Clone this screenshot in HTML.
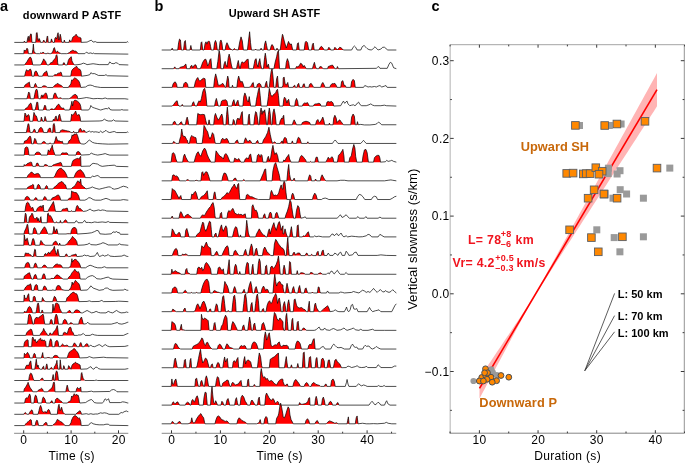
<!DOCTYPE html>
<html><head><meta charset="utf-8"><style>
html,body{margin:0;padding:0;background:#fff;overflow:hidden}
svg{display:block;will-change:transform}
</style></head><body>
<svg width="685" height="463" viewBox="0 0 685 463">
<rect width="685" height="463" fill="#fff"/>
<path d="M23.78 42.4 L23.78 42.4 L24.36 41 L24.95 42.4 L26.93 42.4 L27.75 37.73 L28.34 36.21 L28.92 40.65 L29.85 35.98 L30.79 33.87 L31.37 34.22 L31.96 42.4 L35.69 42.4 L36.39 33.06 L37.09 32.47 L37.68 37.73 L38.38 40.65 L39.2 38.55 L39.9 40.06 L40.6 42.4 L42.7 42.4 L43.64 40.06 L44.22 40.65 L45.04 42.4 L46.2 42.4 L47.14 36.56 L47.61 35.98 L48.31 42.4 L50.64 42.4 L51.46 38.9 L52.28 41.23 L52.98 42.4 L54.38 42.4 L54.96 38.08 L55.78 37.38 L56.72 38.9 L57.53 34.22 L58.12 32.71 L58.82 40.06 L59.4 38.9 L60.22 34.22 L60.92 37.14 L61.39 40.65 L61.97 42.4 L63.72 42.4 L64.31 40.06 L65.12 42.4 L68.98 42.4 L69.68 39.83 L70.5 41.82 L71.66 40.65 L72.83 37.14 L74.23 36.21 L75.17 35.74 L76.1 34.22 L77.04 35.74 L78.32 37.14 L79.61 37.38 L81.01 38.08 L81.24 42.4 L81.24 42.4Z" fill="#ff0000" stroke="none"/>
<path d="M14.3 42.4 L23.78 42.4 L24.36 41 L24.95 42.4 L26.93 42.4 L27.75 37.73 L28.34 36.21 L28.92 40.65 L29.85 35.98 L30.79 33.87 L31.37 34.22 L31.96 42.4 L35.69 42.4 L36.39 33.06 L37.09 32.47 L37.68 37.73 L38.38 40.65 L39.2 38.55 L39.9 40.06 L40.6 42.4 L42.7 42.4 L43.64 40.06 L44.22 40.65 L45.04 42.4 L46.2 42.4 L47.14 36.56 L47.61 35.98 L48.31 42.4 L50.64 42.4 L51.46 38.9 L52.28 41.23 L52.98 42.4 L54.38 42.4 L54.96 38.08 L55.78 37.38 L56.72 38.9 L57.53 34.22 L58.12 32.71 L58.82 40.06 L59.4 38.9 L60.22 34.22 L60.92 37.14 L61.39 40.65 L61.97 42.4 L63.72 42.4 L64.31 40.06 L65.12 42.4 L68.98 42.4 L69.68 39.83 L70.5 41.82 L71.66 40.65 L72.83 37.14 L74.23 36.21 L75.17 35.74 L76.1 34.22 L77.04 35.74 L78.32 37.14 L79.61 37.38 L81.01 38.08 L81.24 42.4 L87.07 42.1 L88.88 41.19 L91.3 40.13 L93.12 42.1 L95.38 41.64 L96.9 42.4 L126.37 42.4 L127.58 41.64 L128.19 42.4" fill="none" stroke="#000" stroke-width="0.7" stroke-linejoin="round"/>
<path d="M23.78 53.67 L23.78 53.67 L24.25 49.93 L25.18 50.87 L26 50.52 L26.93 48.18 L27.75 49 L28.45 53.67 L32.19 53.67 L32.89 49.35 L33.36 44.09 L33.94 51.1 L34.76 52.85 L35.69 53.2 L36.63 53.67 L39.78 53.67 L40.6 52.85 L41.77 53.2 L42.93 52.27 L43.87 52.62 L44.8 53.67 L47.14 53.67 L47.84 52.85 L48.77 53.67 L50.88 53.67 L52.04 52.85 L52.98 51.1 L53.8 48.18 L54.38 47.6 L54.96 49.35 L55.55 51.68 L56.48 52.27 L57.3 51.1 L58.12 51.68 L59.05 52.85 L60.22 53.2 L61.15 53.67 L66.64 53.67 L67.81 53.44 L68.98 52.85 L70.15 51.68 L71.31 51.1 L72.48 50.28 L73.65 50.52 L74.82 51.33 L75.75 51.1 L76.57 51.68 L77.5 52.85 L77.97 53.67 L77.97 53.67Z" fill="#ff0000" stroke="none"/>
<path d="M14.3 53.67 L23.78 53.67 L24.25 49.93 L25.18 50.87 L26 50.52 L26.93 48.18 L27.75 49 L28.45 53.67 L32.19 53.67 L32.89 49.35 L33.36 44.09 L33.94 51.1 L34.76 52.85 L35.69 53.2 L36.63 53.67 L39.78 53.67 L40.6 52.85 L41.77 53.2 L42.93 52.27 L43.87 52.62 L44.8 53.67 L47.14 53.67 L47.84 52.85 L48.77 53.67 L50.88 53.67 L52.04 52.85 L52.98 51.1 L53.8 48.18 L54.38 47.6 L54.96 49.35 L55.55 51.68 L56.48 52.27 L57.3 51.1 L58.12 51.68 L59.05 52.85 L60.22 53.2 L61.15 53.67 L66.64 53.67 L67.81 53.44 L68.98 52.85 L70.15 51.68 L71.31 51.1 L72.48 50.28 L73.65 50.52 L74.82 51.33 L75.75 51.1 L76.57 51.68 L77.5 52.85 L77.97 53.67 L84.8 53.67 L86.31 52.16 L88.58 53.37 L90.85 52.91 L92.36 53.67 L93.12 52.91 L94.63 53.67 L127.89 54.12 L128.3 54.12" fill="none" stroke="#000" stroke-width="0.7" stroke-linejoin="round"/>
<path d="M24.6 64.94 L24.6 64.94 L25.77 63.19 L26.93 61.79 L28.45 59.1 L30.09 57 L31.02 57.7 L31.96 60.85 L32.77 64.94 L40.6 64.94 L41.77 63.19 L42.93 60.85 L43.64 58.87 L44.45 60.03 L45.62 61.44 L46.44 63.77 L47.14 64.94 L49.12 64.94 L49.94 63.54 L51.11 62.6 L52.28 62.6 L53.45 60.27 L54.38 59.33 L55.55 57.93 L56.13 55.36 L56.72 54.66 L57.3 56.76 L57.65 62.6 L58.12 64.94 L62.79 64.94 L63.49 62.84 L64.31 62.84 L65.12 64.94 L67.23 64.94 L68.39 60.27 L69.56 58.17 L70.5 57.35 L71.31 56.76 L71.9 60.85 L73.07 63.19 L74 64.36 L74.47 64.94 L74.47 64.94Z" fill="#ff0000" stroke="none"/>
<path d="M14.3 64.94 L24.6 64.94 L25.77 63.19 L26.93 61.79 L28.45 59.1 L30.09 57 L31.02 57.7 L31.96 60.85 L32.77 64.94 L40.6 64.94 L41.77 63.19 L42.93 60.85 L43.64 58.87 L44.45 60.03 L45.62 61.44 L46.44 63.77 L47.14 64.94 L49.12 64.94 L49.94 63.54 L51.11 62.6 L52.28 62.6 L53.45 60.27 L54.38 59.33 L55.55 57.93 L56.13 55.36 L56.72 54.66 L57.3 56.76 L57.65 62.6 L58.12 64.94 L62.79 64.94 L63.49 62.84 L64.31 62.84 L65.12 64.94 L67.23 64.94 L68.39 60.27 L69.56 58.17 L70.5 57.35 L71.31 56.76 L71.9 60.85 L73.07 63.19 L74 64.36 L74.47 64.94 L78 64.64 L81.02 64.18 L83.29 63.13 L85.26 63.73 L87.07 64.64 L90.09 64.18 L93.12 63.73 L96.14 64.18 L99.16 64.64 L108.23 64.64 L109.75 61.92 L111.56 63.43 L113.98 63.73 L115.79 62.67 L117.61 63.13 L119.12 64.64 L127.89 64.94 L128.3 64.94" fill="none" stroke="#000" stroke-width="0.7" stroke-linejoin="round"/>
<path d="M24.6 76.21 L24.6 76.21 L25.77 71.42 L26.58 69.67 L27.52 70.84 L28.69 70.84 L29.62 69.44 L30.44 69.09 L31.26 70.84 L31.96 76.21 L33.94 76.21 L34.76 72.01 L35.93 70.84 L36.86 72.01 L37.8 74.34 L38.61 76.21 L42.47 76.21 L43.4 74.11 L44.45 72.59 L45.62 72.24 L46.44 70.84 L47.14 72.59 L47.96 76.21 L53.21 76.21 L54.15 75.28 L54.96 74.34 L56.13 75.28 L57.3 73.76 L58.47 73.17 L59.64 72.94 L60.8 72.01 L61.39 72.94 L62.2 76.21 L70.73 76.21 L71.66 70.84 L72.83 69.09 L74.23 67.92 L75.64 67.1 L76.57 66.17 L77.5 67.92 L78.91 69.09 L80.07 69.44 L81.01 71.42 L81.47 76.21 L81.47 76.21Z" fill="#ff0000" stroke="none"/>
<path d="M14.3 76.21 L24.6 76.21 L25.77 71.42 L26.58 69.67 L27.52 70.84 L28.69 70.84 L29.62 69.44 L30.44 69.09 L31.26 70.84 L31.96 76.21 L33.94 76.21 L34.76 72.01 L35.93 70.84 L36.86 72.01 L37.8 74.34 L38.61 76.21 L42.47 76.21 L43.4 74.11 L44.45 72.59 L45.62 72.24 L46.44 70.84 L47.14 72.59 L47.96 76.21 L53.21 76.21 L54.15 75.28 L54.96 74.34 L56.13 75.28 L57.3 73.76 L58.47 73.17 L59.64 72.94 L60.8 72.01 L61.39 72.94 L62.2 76.21 L70.73 76.21 L71.66 70.84 L72.83 69.09 L74.23 67.92 L75.64 67.1 L76.57 66.17 L77.5 67.92 L78.91 69.09 L80.07 69.44 L81.01 71.42 L81.47 76.21 L87.07 75.45 L89.79 74.7 L90.85 72.73 L92.36 73.64 L94.63 73.64 L96.9 74.7 L98.41 75.45 L104.46 75.45 L105.97 74.7 L107.48 75.76 L127.89 76.21 L128.3 76.21" fill="none" stroke="#000" stroke-width="0.7" stroke-linejoin="round"/>
<path d="M24.01 87.48 L24.01 87.48 L24.95 85.14 L26.12 84.33 L27.28 83.39 L28.45 82.81 L29.27 81.99 L30.09 86.31 L30.79 87.48 L33.94 87.48 L34.76 84.56 L35.46 83.39 L36.28 85.14 L37.09 86.66 L37.8 87.48 L41.53 87.48 L42.47 86.31 L43.87 85.73 L45.62 86.08 L46.79 86.9 L47.61 87.48 L52.98 87.48 L53.8 86.31 L54.96 85.14 L56.48 84.33 L57.3 83.39 L58.47 83.98 L59.64 84.79 L61.39 85.49 L62.55 86.66 L63.14 87.48 L68.39 87.48 L69.33 85.73 L70.15 85.14 L70.96 83.39 L71.66 79.89 L72.48 80.47 L73.65 78.72 L74.58 77.9 L75.99 78.49 L77.74 79.89 L78.91 81.29 L79.84 83.39 L80.66 86.9 L80.89 87.48 L80.89 87.48Z" fill="#ff0000" stroke="none"/>
<path d="M14.3 87.48 L24.01 87.48 L24.95 85.14 L26.12 84.33 L27.28 83.39 L28.45 82.81 L29.27 81.99 L30.09 86.31 L30.79 87.48 L33.94 87.48 L34.76 84.56 L35.46 83.39 L36.28 85.14 L37.09 86.66 L37.8 87.48 L41.53 87.48 L42.47 86.31 L43.87 85.73 L45.62 86.08 L46.79 86.9 L47.61 87.48 L52.98 87.48 L53.8 86.31 L54.96 85.14 L56.48 84.33 L57.3 83.39 L58.47 83.98 L59.64 84.79 L61.39 85.49 L62.55 86.66 L63.14 87.48 L68.39 87.48 L69.33 85.73 L70.15 85.14 L70.96 83.39 L71.66 79.89 L72.48 80.47 L73.65 78.72 L74.58 77.9 L75.99 78.49 L77.74 79.89 L78.91 81.29 L79.84 83.39 L80.66 86.9 L80.89 87.48 L85.56 87.03 L87.83 85.51 L90.09 85.06 L92.36 85.51 L94.63 86.57 L97.65 87.03 L100.68 87.48 L127.89 87.48 L128.3 87.48" fill="none" stroke="#000" stroke-width="0.7" stroke-linejoin="round"/>
<path d="M26.93 98.75 L26.93 98.75 L27.75 95.48 L28.69 91.98 L29.62 93.14 L30.44 98.75 L33.94 98.75 L34.76 94.31 L35.69 90.22 L36.63 89.06 L37.45 90.81 L38.26 97.82 L38.96 98.75 L40.6 98.75 L41.3 95.48 L42.12 94.9 L42.7 97.23 L43.28 95.48 L44.1 94.66 L44.8 93.73 L45.62 92.91 L46.2 93.14 L47.14 95.48 L47.61 98.75 L52.98 98.75 L53.8 94.9 L54.61 93.14 L55.55 93.14 L56.48 95.48 L57.3 97.23 L57.88 97.82 L58.82 98.4 L59.64 97.93 L60.8 97.82 L61.62 98.4 L62.32 98.75 L68.39 98.75 L69.8 98.4 L71.31 97.23 L73.07 95.48 L74.82 94.43 L75.99 94.66 L77.15 96.06 L77.74 98.75 L77.74 98.75Z" fill="#ff0000" stroke="none"/>
<path d="M14.3 98.75 L26.93 98.75 L27.75 95.48 L28.69 91.98 L29.62 93.14 L30.44 98.75 L33.94 98.75 L34.76 94.31 L35.69 90.22 L36.63 89.06 L37.45 90.81 L38.26 97.82 L38.96 98.75 L40.6 98.75 L41.3 95.48 L42.12 94.9 L42.7 97.23 L43.28 95.48 L44.1 94.66 L44.8 93.73 L45.62 92.91 L46.2 93.14 L47.14 95.48 L47.61 98.75 L52.98 98.75 L53.8 94.9 L54.61 93.14 L55.55 93.14 L56.48 95.48 L57.3 97.23 L57.88 97.82 L58.82 98.4 L59.64 97.93 L60.8 97.82 L61.62 98.4 L62.32 98.75 L68.39 98.75 L69.8 98.4 L71.31 97.23 L73.07 95.48 L74.82 94.43 L75.99 94.66 L77.15 96.06 L77.74 98.75 L78 98.75 L81.02 98.45 L84.05 97.99 L86.31 97.54 L89.34 97.99 L93.12 98.75 L97.65 98.45 L102.19 98.75 L105.21 97.99 L107.48 98.75 L124.86 98.75 L127.89 99.2 L128.3 99.2" fill="none" stroke="#000" stroke-width="0.7" stroke-linejoin="round"/>
<path d="M24.6 110.02 L24.6 110.02 L25.77 108.27 L27.28 107.68 L28.45 105.93 L29.62 103.95 L30.79 103.01 L31.61 104.76 L32.42 110.02 L35.11 110.02 L35.93 106.52 L36.86 102.08 L37.8 102.43 L38.61 110.02 L43.28 110.02 L44.1 107.1 L44.8 105.11 L45.62 105.93 L46.44 110.02 L49.71 110.02 L50.88 109.09 L52.04 108.85 L53.45 109.44 L54.96 108.85 L56.13 107.1 L57.3 105.35 L58.12 104.41 L58.82 104.18 L59.64 105.35 L60.45 107.1 L61.39 107.68 L62.55 108.27 L63.49 107.92 L64.31 109.44 L64.66 110.02 L69.56 110.02 L70.5 107.1 L71.31 104.18 L71.9 101.26 L72.6 105.93 L73.07 103.95 L73.65 101.26 L74.82 100.09 L75.99 100.44 L77.5 101.26 L78.91 102.43 L80.07 104.18 L80.77 106.52 L81.24 110.02 L81.24 110.02Z" fill="#ff0000" stroke="none"/>
<path d="M14.3 110.02 L24.6 110.02 L25.77 108.27 L27.28 107.68 L28.45 105.93 L29.62 103.95 L30.79 103.01 L31.61 104.76 L32.42 110.02 L35.11 110.02 L35.93 106.52 L36.86 102.08 L37.8 102.43 L38.61 110.02 L43.28 110.02 L44.1 107.1 L44.8 105.11 L45.62 105.93 L46.44 110.02 L49.71 110.02 L50.88 109.09 L52.04 108.85 L53.45 109.44 L54.96 108.85 L56.13 107.1 L57.3 105.35 L58.12 104.41 L58.82 104.18 L59.64 105.35 L60.45 107.1 L61.39 107.68 L62.55 108.27 L63.49 107.92 L64.31 109.44 L64.66 110.02 L69.56 110.02 L70.5 107.1 L71.31 104.18 L71.9 101.26 L72.6 105.93 L73.07 103.95 L73.65 101.26 L74.82 100.09 L75.99 100.44 L77.5 101.26 L78.91 102.43 L80.07 104.18 L80.77 106.52 L81.24 110.02 L88.58 110.02 L90.09 108.05 L90.85 105.48 L92.36 107.3 L94.63 108.05 L96.9 108.81 L99.16 109.57 L100.68 110.02 L103.7 109.11 L105.97 108.51 L107.48 108.81 L108.99 107.6 L110.05 109.57 L112.01 110.02 L120.33 110.02 L121.84 109.57 L123.35 110.02 L127.89 110.02 L128.3 110.02" fill="none" stroke="#000" stroke-width="0.7" stroke-linejoin="round"/>
<path d="M24.01 121.29 L24.01 121.29 L24.95 113 L25.77 114.17 L26.58 117.09 L27.52 115.33 L28.45 114.52 L29.27 115.92 L29.85 121.29 L32.77 121.29 L33.94 112.41 L34.76 114.17 L35.46 115.92 L36.28 115.92 L37.09 118.25 L37.8 121.29 L40.6 121.29 L41.3 117.09 L42.12 119.19 L42.7 121.29 L44.1 121.29 L45.04 116.5 L45.97 119.19 L46.44 121.29 L52.63 121.29 L53.45 119.19 L54.38 120.36 L55.31 117.09 L56.13 115.92 L56.72 118.84 L57.65 120.59 L58.82 115.33 L59.64 114.17 L60.45 117.67 L61.39 121.29 L70.73 121.29 L71.66 114.17 L72.48 115.33 L73.65 114.17 L74.82 112.41 L75.64 111.01 L76.57 114.17 L77.5 115.33 L78.32 114.75 L79.14 114.52 L80.07 117.09 L80.66 121.29 L80.66 121.29Z" fill="#ff0000" stroke="none"/>
<path d="M14.3 121.29 L24.01 121.29 L24.95 113 L25.77 114.17 L26.58 117.09 L27.52 115.33 L28.45 114.52 L29.27 115.92 L29.85 121.29 L32.77 121.29 L33.94 112.41 L34.76 114.17 L35.46 115.92 L36.28 115.92 L37.09 118.25 L37.8 121.29 L40.6 121.29 L41.3 117.09 L42.12 119.19 L42.7 121.29 L44.1 121.29 L45.04 116.5 L45.97 119.19 L46.44 121.29 L52.63 121.29 L53.45 119.19 L54.38 120.36 L55.31 117.09 L56.13 115.92 L56.72 118.84 L57.65 120.59 L58.82 115.33 L59.64 114.17 L60.45 117.67 L61.39 121.29 L70.73 121.29 L71.66 114.17 L72.48 115.33 L73.65 114.17 L74.82 112.41 L75.64 111.01 L76.57 114.17 L77.5 115.33 L78.32 114.75 L79.14 114.52 L80.07 117.09 L80.66 121.29 L80.72 121.29 L99.16 120.99 L102.19 120.69 L104.46 119.17 L105.97 120.23 L108.23 120.99 L112.01 120.99 L113.53 119.78 L115.04 120.99 L127.89 121.29 L128.3 121.29" fill="none" stroke="#000" stroke-width="0.7" stroke-linejoin="round"/>
<path d="M26.35 132.56 L26.35 132.56 L27.28 127.77 L28.1 123.68 L28.92 124.27 L29.62 129.52 L30.2 132.56 L32.42 132.56 L33.36 130.69 L34.29 128.94 L35.11 130.11 L35.69 132.56 L38.03 132.56 L38.96 129.52 L40.13 127.77 L41.3 127.42 L42.47 128.94 L43.64 132.56 L47.37 132.56 L48.31 129.29 L49.12 128.36 L50.29 128.12 L51.11 131.86 L51.81 132.56 L52.63 132.56 L53.21 124.85 L54.03 123.45 L54.73 126.02 L55.31 132.56 L59.99 132.56 L60.45 130.69 L61.39 130.22 L62.55 129.76 L63.72 130.11 L65.47 130.46 L67.23 130.92 L68.98 131.28 L70.15 131.86 L70.96 132.56 L72.83 132.56 L73.65 131.28 L74.47 132.56 L78.32 132.56 L79.14 129.52 L80.07 128.36 L81.01 128.94 L81.82 131.28 L82.64 130.92 L83.81 130.22 L84.74 130.69 L85.33 131.86 L85.91 132.56 L85.91 132.56Z" fill="#ff0000" stroke="none"/>
<path d="M14.3 132.56 L26.35 132.56 L27.28 127.77 L28.1 123.68 L28.92 124.27 L29.62 129.52 L30.2 132.56 L32.42 132.56 L33.36 130.69 L34.29 128.94 L35.11 130.11 L35.69 132.56 L38.03 132.56 L38.96 129.52 L40.13 127.77 L41.3 127.42 L42.47 128.94 L43.64 132.56 L47.37 132.56 L48.31 129.29 L49.12 128.36 L50.29 128.12 L51.11 131.86 L51.81 132.56 L52.63 132.56 L53.21 124.85 L54.03 123.45 L54.73 126.02 L55.31 132.56 L59.99 132.56 L60.45 130.69 L61.39 130.22 L62.55 129.76 L63.72 130.11 L65.47 130.46 L67.23 130.92 L68.98 131.28 L70.15 131.86 L70.96 132.56 L72.83 132.56 L73.65 131.28 L74.47 132.56 L78.32 132.56 L79.14 129.52 L80.07 128.36 L81.01 128.94 L81.82 131.28 L82.64 130.92 L83.81 130.22 L84.74 130.69 L85.33 131.86 L85.91 132.56 L87.07 132.11 L89.34 131.05 L90.85 132.11 L92.36 131.5 L93.87 132.11 L95.38 131.8 L97.65 132.11 L99.16 132.56 L100.68 131.05 L102.19 132.56 L104.46 131.5 L105.97 130.29 L107.48 131.8 L109.75 132.56 L112.77 131.8 L114.28 131.5 L116.55 132.56 L126.37 132.56 L127.58 131.8 L128.19 132.56" fill="none" stroke="#000" stroke-width="0.7" stroke-linejoin="round"/>
<path d="M23.78 143.83 L23.78 143.83 L24.6 141.03 L25.77 140.68 L27.28 139.86 L28.45 137.76 L29.62 136.36 L30.44 136.36 L31.02 138.34 L31.61 143.83 L33.36 143.83 L33.94 141.26 L34.76 138.34 L35.69 139.51 L36.63 142.43 L37.45 143.83 L41.53 143.83 L42.47 142.19 L43.64 141.49 L44.8 141.84 L45.62 143.01 L46.44 143.83 L49.12 143.83 L49.71 143.01 L50.64 143.25 L51.58 143.83 L53.8 143.83 L54.96 140.68 L56.13 136.59 L56.95 138.92 L57.88 141.26 L58.82 140.68 L59.99 141.26 L61.15 141.84 L62.32 141.26 L63.14 143.83 L67.81 143.83 L68.98 140.68 L70.15 140.33 L71.31 138.34 L72.13 134.84 L73.07 136.01 L74 134.02 L75.4 134.25 L76.57 133.67 L77.5 135.42 L78.67 139.51 L79.49 141.84 L80.66 143.6 L81.24 143.83 L81.24 143.83Z" fill="#ff0000" stroke="none"/>
<path d="M14.3 143.83 L23.78 143.83 L24.6 141.03 L25.77 140.68 L27.28 139.86 L28.45 137.76 L29.62 136.36 L30.44 136.36 L31.02 138.34 L31.61 143.83 L33.36 143.83 L33.94 141.26 L34.76 138.34 L35.69 139.51 L36.63 142.43 L37.45 143.83 L41.53 143.83 L42.47 142.19 L43.64 141.49 L44.8 141.84 L45.62 143.01 L46.44 143.83 L49.12 143.83 L49.71 143.01 L50.64 143.25 L51.58 143.83 L53.8 143.83 L54.96 140.68 L56.13 136.59 L56.95 138.92 L57.88 141.26 L58.82 140.68 L59.99 141.26 L61.15 141.84 L62.32 141.26 L63.14 143.83 L67.81 143.83 L68.98 140.68 L70.15 140.33 L71.31 138.34 L72.13 134.84 L73.07 136.01 L74 134.02 L75.4 134.25 L76.57 133.67 L77.5 135.42 L78.67 139.51 L79.49 141.84 L80.66 143.6 L81.24 143.83 L84.05 144.13 L86.31 143.07 L88.28 140.81 L89.34 140.05 L90.85 141.11 L92.36 142.32 L94.63 143.07 L97.65 143.53 L102.19 143.83 L108.23 144.13 L127.89 143.83 L128.3 143.83" fill="none" stroke="#000" stroke-width="0.7" stroke-linejoin="round"/>
<path d="M24.25 155.1 L24.25 155.1 L24.95 148.09 L26.35 146.92 L27.75 147.51 L28.45 150.43 L28.92 155.1 L34.76 155.1 L35.69 153 L36.86 152.18 L38.61 152.18 L39.78 152.76 L40.6 153.93 L40.95 155.1 L47.37 155.1 L48.31 149.84 L49.12 151.01 L49.71 151.6 L50.64 148.68 L51.46 147.51 L52.28 145.17 L52.98 149.26 L53.8 151.6 L54.61 153.93 L54.96 155.1 L60.8 155.1 L61.62 153.35 L62.79 152.76 L63.96 153.11 L65.12 153 L66.29 152.76 L67.46 153.35 L68.16 155.1 L75.99 155.1 L76.8 152.18 L77.97 151.6 L79.14 151.83 L80.07 153 L81.01 155.1 L81.01 155.1Z" fill="#ff0000" stroke="none"/>
<path d="M14.3 155.1 L24.25 155.1 L24.95 148.09 L26.35 146.92 L27.75 147.51 L28.45 150.43 L28.92 155.1 L34.76 155.1 L35.69 153 L36.86 152.18 L38.61 152.18 L39.78 152.76 L40.6 153.93 L40.95 155.1 L47.37 155.1 L48.31 149.84 L49.12 151.01 L49.71 151.6 L50.64 148.68 L51.46 147.51 L52.28 145.17 L52.98 149.26 L53.8 151.6 L54.61 153.93 L54.96 155.1 L60.8 155.1 L61.62 153.35 L62.79 152.76 L63.96 153.11 L65.12 153 L66.29 152.76 L67.46 153.35 L68.16 155.1 L75.99 155.1 L76.8 152.18 L77.97 151.6 L79.14 151.83 L80.07 153 L81.01 155.1 L81.02 155.1 L89.34 154.65 L91.3 153.13 L93.12 154.04 L95.38 154.65 L97.65 155.1 L102.19 154.34 L105.21 153.59 L107.02 154.34 L109.75 155.1 L127.89 155.1 L128.3 155.1" fill="none" stroke="#000" stroke-width="0.7" stroke-linejoin="round"/>
<path d="M23.78 166.37 L23.78 166.37 L24.25 164.5 L24.95 165.67 L25.77 165.09 L26.93 163.92 L28.1 163.33 L29.27 162.75 L30.44 162.17 L31.61 162.4 L32.19 165.09 L32.77 166.37 L35.69 166.37 L36.63 163.33 L37.8 163.1 L38.61 164.73 L39.43 166.37 L43.87 166.37 L44.8 164.5 L45.97 164.73 L47.14 165.09 L47.96 165.9 L48.54 166.37 L52.04 166.37 L52.98 165.09 L54.38 164.5 L56.13 163.92 L57.88 163.33 L59.05 163.1 L60.22 162.4 L61.15 162.75 L61.97 165.09 L62.32 166.37 L71.31 166.37 L72.13 162.75 L73.07 160.41 L74.23 159.83 L75.17 159.25 L76.34 158.66 L77.15 158.66 L77.74 158.08 L78.91 159.25 L79.84 157.49 L80.66 156.33 L81.01 166.37 L81.01 166.37Z" fill="#ff0000" stroke="none"/>
<path d="M14.3 166.37 L23.78 166.37 L24.25 164.5 L24.95 165.67 L25.77 165.09 L26.93 163.92 L28.1 163.33 L29.27 162.75 L30.44 162.17 L31.61 162.4 L32.19 165.09 L32.77 166.37 L35.69 166.37 L36.63 163.33 L37.8 163.1 L38.61 164.73 L39.43 166.37 L43.87 166.37 L44.8 164.5 L45.97 164.73 L47.14 165.09 L47.96 165.9 L48.54 166.37 L52.04 166.37 L52.98 165.09 L54.38 164.5 L56.13 163.92 L57.88 163.33 L59.05 163.1 L60.22 162.4 L61.15 162.75 L61.97 165.09 L62.32 166.37 L71.31 166.37 L72.13 162.75 L73.07 160.41 L74.23 159.83 L75.17 159.25 L76.34 158.66 L77.15 158.66 L77.74 158.08 L78.91 159.25 L79.84 157.49 L80.66 156.33 L81.01 166.37 L81.02 166.37 L90.09 166.07 L91.61 164.1 L93.12 163.35 L95.38 163.65 L97.65 164.1 L99.92 165.61 L102.19 166.37 L108.23 165.61 L114.28 165.16 L116.55 166.37 L127.89 166.67 L128.3 166.67" fill="none" stroke="#000" stroke-width="0.7" stroke-linejoin="round"/>
<path d="M26.93 177.64 L26.93 177.64 L28.1 175.19 L29.85 173.44 L31.26 172.03 L32.19 172.27 L33.12 173.44 L34.53 174.37 L35.69 174.02 L37.45 173.44 L38.61 173.67 L39.78 175.19 L40.6 177.64 L53.45 177.64 L54.96 175.77 L56.48 172.27 L57.88 169.93 L59.64 168.53 L61.39 168.18 L62.55 169.7 L63.96 170.52 L65.47 172.85 L66.64 175.19 L67.46 177.64 L74 177.64 L74.82 175.19 L75.99 172.85 L77.15 171.33 L78.91 170.17 L80.66 169.7 L81.82 171.1 L83.34 172.85 L84.51 175.19 L85.33 177.64 L85.33 177.64Z" fill="#ff0000" stroke="none"/>
<path d="M14.3 177.64 L26.93 177.64 L28.1 175.19 L29.85 173.44 L31.26 172.03 L32.19 172.27 L33.12 173.44 L34.53 174.37 L35.69 174.02 L37.45 173.44 L38.61 173.67 L39.78 175.19 L40.6 177.64 L53.45 177.64 L54.96 175.77 L56.48 172.27 L57.88 169.93 L59.64 168.53 L61.39 168.18 L62.55 169.7 L63.96 170.52 L65.47 172.85 L66.64 175.19 L67.46 177.64 L74 177.64 L74.82 175.19 L75.99 172.85 L77.15 171.33 L78.91 170.17 L80.66 169.7 L81.82 171.1 L83.34 172.85 L84.51 175.19 L85.33 177.64 L90.85 177.64 L92.36 176.13 L94.33 176.58 L96.14 175.83 L97.95 175.52 L99.16 176.58 L100.68 177.64 L127.89 177.64 L128.3 177.64" fill="none" stroke="#000" stroke-width="0.7" stroke-linejoin="round"/>
<path d="M26.93 188.91 L26.93 188.91 L27.75 187.27 L28.92 186.69 L29.85 186.11 L31.61 185.52 L32.77 184.36 L33.59 184.94 L33.94 188.91 L36.63 188.91 L37.45 185.52 L38.26 184.36 L39.2 184.94 L40.13 186.69 L40.6 188.91 L44.8 188.91 L45.62 186.69 L46.44 185.52 L47.37 186.34 L47.96 188.91 L52.98 188.91 L54.15 187.27 L55.78 186.11 L57.3 184.71 L58.47 183.19 L59.64 182.6 L60.8 182.02 L61.97 181.44 L63.14 182.6 L64.31 184.36 L65.47 184.94 L66.64 188.91 L71.31 188.91 L72.13 187.86 L73.65 186.69 L75.17 185.52 L76.34 183.19 L77.74 180.85 L78.67 181.44 L79.61 182.84 L80.66 179.1 L81.24 184.36 L82.41 185.87 L83.81 187.04 L84.98 187.86 L85.91 188.91 L85.91 188.91Z" fill="#ff0000" stroke="none"/>
<path d="M14.3 188.91 L26.93 188.91 L27.75 187.27 L28.92 186.69 L29.85 186.11 L31.61 185.52 L32.77 184.36 L33.59 184.94 L33.94 188.91 L36.63 188.91 L37.45 185.52 L38.26 184.36 L39.2 184.94 L40.13 186.69 L40.6 188.91 L44.8 188.91 L45.62 186.69 L46.44 185.52 L47.37 186.34 L47.96 188.91 L52.98 188.91 L54.15 187.27 L55.78 186.11 L57.3 184.71 L58.47 183.19 L59.64 182.6 L60.8 182.02 L61.97 181.44 L63.14 182.6 L64.31 184.36 L65.47 184.94 L66.64 188.91 L71.31 188.91 L72.13 187.86 L73.65 186.69 L75.17 185.52 L76.34 183.19 L77.74 180.85 L78.67 181.44 L79.61 182.84 L80.66 179.1 L81.24 184.36 L82.41 185.87 L83.81 187.04 L84.98 187.86 L85.91 188.91 L87.83 188.46 L90.09 188 L92.36 186.94 L93.87 187.7 L96.14 188.46 L99.16 189.21 L102.19 188.46 L105.21 187.7 L108.23 186.94 L110.5 186.94 L112.01 188.46 L114.28 189.21 L118.06 188.46 L120.33 187.4 L123.35 186.19 L126.37 186.94 L128.19 188" fill="none" stroke="#000" stroke-width="0.7" stroke-linejoin="round"/>
<path d="M24.6 200.18 L24.6 200.18 L25.42 197.84 L26.35 196.68 L27.52 196.44 L28.69 197.26 L29.62 198.78 L30.44 200.18 L33.94 200.18 L34.76 198.43 L35.69 197.61 L36.63 198.08 L37.45 200.18 L42.93 200.18 L43.87 197.84 L44.8 196.44 L45.62 197.26 L46.44 199.01 L47.14 200.18 L51.11 200.18 L51.81 198.43 L52.98 197.61 L54.15 197.26 L55.55 196.44 L57.3 195.27 L58.47 194.92 L59.64 196.44 L60.45 199.01 L60.8 200.18 L67.81 200.18 L68.63 198.78 L69.8 198.08 L70.96 198.08 L71.66 190.84 L72.48 192 L73.65 192 L74.82 192.59 L76.34 192.59 L77.5 194.11 L78.67 196.09 L79.49 199.01 L79.84 200.18 L79.84 200.18Z" fill="#ff0000" stroke="none"/>
<path d="M14.3 200.18 L24.6 200.18 L25.42 197.84 L26.35 196.68 L27.52 196.44 L28.69 197.26 L29.62 198.78 L30.44 200.18 L33.94 200.18 L34.76 198.43 L35.69 197.61 L36.63 198.08 L37.45 200.18 L42.93 200.18 L43.87 197.84 L44.8 196.44 L45.62 197.26 L46.44 199.01 L47.14 200.18 L51.11 200.18 L51.81 198.43 L52.98 197.61 L54.15 197.26 L55.55 196.44 L57.3 195.27 L58.47 194.92 L59.64 196.44 L60.45 199.01 L60.8 200.18 L67.81 200.18 L68.63 198.78 L69.8 198.08 L70.96 198.08 L71.66 190.84 L72.48 192 L73.65 192 L74.82 192.59 L76.34 192.59 L77.5 194.11 L78.67 196.09 L79.49 199.01 L79.84 200.18 L84.8 200.18 L87.07 199.12 L88.88 197.61 L90.85 198.06 L93.12 199.58 L95.38 200.18 L100.68 200.18 L103.7 199.12 L105.97 198.37 L108.23 199.12 L110.5 200.18 L120.33 200.18 L123.35 199.58 L127.89 200.18 L128.3 200.18" fill="none" stroke="#000" stroke-width="0.7" stroke-linejoin="round"/>
<path d="M24.95 211.45 L24.95 211.45 L25.77 205.96 L26.58 203.04 L27.52 202.22 L28.69 203.04 L29.62 205.38 L30.44 206.9 L31.61 208.06 L32.77 207.36 L33.59 210.05 L33.94 211.45 L36.28 211.45 L37.09 208.88 L38.03 207.71 L39.2 206.54 L40.13 207.13 L40.95 205.73 L41.77 207.71 L42.47 205.96 L43.28 205.03 L43.87 211.45 L47.96 211.45 L49.12 208.88 L50.29 206.9 L51.46 205.03 L52.63 203.04 L53.45 201.52 L54.15 204.79 L54.96 208.88 L55.55 211.45 L61.39 211.45 L62.32 209.46 L63.49 208.88 L64.66 208.88 L65.82 208.53 L67.23 208.06 L67.81 210.05 L68.16 211.45 L70.73 211.45 L71.31 210.63 L72.13 211.45 L75.4 211.45 L76.34 207.13 L77.15 205.38 L78.32 206.54 L79.14 208.88 L80.07 208.3 L81.24 209.46 L82.41 210.4 L83.34 211.45 L83.34 211.45Z" fill="#ff0000" stroke="none"/>
<path d="M14.3 211.45 L24.95 211.45 L25.77 205.96 L26.58 203.04 L27.52 202.22 L28.69 203.04 L29.62 205.38 L30.44 206.9 L31.61 208.06 L32.77 207.36 L33.59 210.05 L33.94 211.45 L36.28 211.45 L37.09 208.88 L38.03 207.71 L39.2 206.54 L40.13 207.13 L40.95 205.73 L41.77 207.71 L42.47 205.96 L43.28 205.03 L43.87 211.45 L47.96 211.45 L49.12 208.88 L50.29 206.9 L51.46 205.03 L52.63 203.04 L53.45 201.52 L54.15 204.79 L54.96 208.88 L55.55 211.45 L61.39 211.45 L62.32 209.46 L63.49 208.88 L64.66 208.88 L65.82 208.53 L67.23 208.06 L67.81 210.05 L68.16 211.45 L70.73 211.45 L71.31 210.63 L72.13 211.45 L75.4 211.45 L76.34 207.13 L77.15 205.38 L78.32 206.54 L79.14 208.88 L80.07 208.3 L81.24 209.46 L82.41 210.4 L83.34 211.45 L86.31 211 L88.58 209.94 L90.09 209.03 L91.61 210.24 L93.87 211 L96.14 210.54 L98.41 209.94 L100.68 210.54 L102.19 209.94 L104.46 210.24 L106.72 211 L127.89 211.45 L128.3 211.45" fill="none" stroke="#000" stroke-width="0.7" stroke-linejoin="round"/>
<path d="M24.25 222.72 L24.25 222.72 L24.95 216.06 L25.42 213.14 L26.12 214.31 L26.93 221.9 L27.75 222.72 L28.69 222.72 L29.27 217.81 L30.09 216.06 L31.02 215.48 L31.96 213.14 L32.77 214.31 L33.59 217.81 L34.53 218.4 L35.46 218.98 L36.28 217.81 L37.09 217.23 L37.8 220.73 L38.26 218.4 L38.96 220.73 L39.78 221.9 L40.36 217.81 L40.95 216.65 L41.53 222.72 L47.14 222.72 L47.61 213.73 L48.31 213.14 L49.12 216.06 L50.29 215.48 L51.46 217.23 L52.28 218.98 L53.45 221.67 L54.15 222.72 L55.55 222.72 L56.48 221.67 L57.3 222.72 L59.64 222.72 L60.45 220.5 L61.15 222.72 L63.14 222.72 L64.31 220.73 L65.47 219.8 L66.64 220.73 L67.46 222.72 L67.46 222.72Z" fill="#ff0000" stroke="none"/>
<path d="M14.3 222.72 L24.25 222.72 L24.95 216.06 L25.42 213.14 L26.12 214.31 L26.93 221.9 L27.75 222.72 L28.69 222.72 L29.27 217.81 L30.09 216.06 L31.02 215.48 L31.96 213.14 L32.77 214.31 L33.59 217.81 L34.53 218.4 L35.46 218.98 L36.28 217.81 L37.09 217.23 L37.8 220.73 L38.26 218.4 L38.96 220.73 L39.78 221.9 L40.36 217.81 L40.95 216.65 L41.53 222.72 L47.14 222.72 L47.61 213.73 L48.31 213.14 L49.12 216.06 L50.29 215.48 L51.46 217.23 L52.28 218.98 L53.45 221.67 L54.15 222.72 L55.55 222.72 L56.48 221.67 L57.3 222.72 L59.64 222.72 L60.45 220.5 L61.15 222.72 L63.14 222.72 L64.31 220.73 L65.47 219.8 L66.64 220.73 L67.46 222.72 L74.82 222.72 L75.99 220.73 L77.15 221.32 L78 222.72 L82.54 222.72 L83.74 221.21 L84.8 220.45 L85.86 222.42 L88.58 222.42 L91.61 222.72 L94.63 221.96 L97.65 222.42 L102.19 221.96 L105.97 222.42 L108.23 221.51 L109.75 222.42 L127.89 222.72 L128.3 222.72" fill="none" stroke="#000" stroke-width="0.7" stroke-linejoin="round"/>
<path d="M24.01 233.99 L24.01 233.99 L24.6 231.19 L25.77 228.85 L26.58 226.52 L27.28 224.18 L27.75 224.76 L28.45 230.02 L28.92 233.99 L32.77 233.99 L33.36 230.02 L33.94 227.92 L34.76 227.68 L35.69 229.44 L36.63 231.77 L37.09 233.99 L40.13 233.99 L40.95 231.77 L42.12 230.02 L43.28 228.27 L44.45 226.75 L45.62 228.27 L46.79 231.19 L47.61 233.52 L48.31 233.99 L52.63 233.99 L53.45 230.02 L53.8 226.52 L54.38 228.27 L55.31 232.35 L56.13 230.02 L56.72 228.85 L57.3 230.6 L57.88 233.99 L66.06 233.99 L67.23 233.76 L69.56 233.76 L70.73 233.99 L71.31 230.6 L72.48 228.27 L74 227.45 L75.4 227.68 L76.57 229.44 L77.15 233.99 L77.15 233.99Z" fill="#ff0000" stroke="none"/>
<path d="M14.3 233.99 L24.01 233.99 L24.6 231.19 L25.77 228.85 L26.58 226.52 L27.28 224.18 L27.75 224.76 L28.45 230.02 L28.92 233.99 L32.77 233.99 L33.36 230.02 L33.94 227.92 L34.76 227.68 L35.69 229.44 L36.63 231.77 L37.09 233.99 L40.13 233.99 L40.95 231.77 L42.12 230.02 L43.28 228.27 L44.45 226.75 L45.62 228.27 L46.79 231.19 L47.61 233.52 L48.31 233.99 L52.63 233.99 L53.45 230.02 L53.8 226.52 L54.38 228.27 L55.31 232.35 L56.13 230.02 L56.72 228.85 L57.3 230.6 L57.88 233.99 L66.06 233.99 L67.23 233.76 L69.56 233.76 L70.73 233.99 L71.31 230.6 L72.48 228.27 L74 227.45 L75.4 227.68 L76.57 229.44 L77.15 233.99 L78 233.99 L87.07 233.39 L91.61 232.78 L94.63 231.57 L96.9 230.36 L98.41 230.82 L99.92 233.84 L105.21 234.29 L111.26 233.84 L113.07 231.87 L115.04 232.33 L116.55 231.57 L118.06 232.78 L119.12 232.33 L120.33 234.29 L127.89 234.29 L128.3 234.29" fill="none" stroke="#000" stroke-width="0.7" stroke-linejoin="round"/>
<path d="M23.78 245.26 L23.78 245.26 L24.25 234.63 L24.95 238.72 L25.77 241.06 L26.58 238.72 L27.28 238.14 L28.1 241.64 L28.92 245.26 L31.26 245.26 L31.96 241.64 L32.77 238.72 L33.59 238.72 L34.53 241.64 L35.11 245.26 L39.78 245.26 L40.36 242.22 L40.95 240.47 L41.77 241.64 L42.93 243.39 L44.1 244.56 L45.04 245.26 L52.63 245.26 L53.45 242.81 L54.61 241.87 L55.78 241.06 L56.72 242.22 L57.65 243.98 L58.47 245.26 L59.05 245.26 L59.64 243.04 L60.45 245.26 L64.89 245.26 L66.06 244.56 L67.46 243.39 L68.98 241.06 L70.5 239.54 L71.9 237.55 L72.48 236.38 L73.65 237.55 L74.82 238.72 L75.99 240.24 L76.8 241.64 L77.5 245.26 L77.5 245.26Z" fill="#ff0000" stroke="none"/>
<path d="M14.3 245.26 L23.78 245.26 L24.25 234.63 L24.95 238.72 L25.77 241.06 L26.58 238.72 L27.28 238.14 L28.1 241.64 L28.92 245.26 L31.26 245.26 L31.96 241.64 L32.77 238.72 L33.59 238.72 L34.53 241.64 L35.11 245.26 L39.78 245.26 L40.36 242.22 L40.95 240.47 L41.77 241.64 L42.93 243.39 L44.1 244.56 L45.04 245.26 L52.63 245.26 L53.45 242.81 L54.61 241.87 L55.78 241.06 L56.72 242.22 L57.65 243.98 L58.47 245.26 L59.05 245.26 L59.64 243.04 L60.45 245.26 L64.89 245.26 L66.06 244.56 L67.46 243.39 L68.98 241.06 L70.5 239.54 L71.9 237.55 L72.48 236.38 L73.65 237.55 L74.82 238.72 L75.99 240.24 L76.8 241.64 L77.5 245.26 L78 245.26 L84.05 244.96 L87.83 244.2 L89.34 243.14 L90.85 244.66 L96.14 244.96 L100.68 243.75 L102.94 242.69 L105.21 243.45 L108.23 244.96 L117.3 244.96 L119.57 243.75 L121.08 244.66 L124.86 244.96 L127.89 245.26 L128.3 245.26" fill="none" stroke="#000" stroke-width="0.7" stroke-linejoin="round"/>
<path d="M24.6 256.53 L24.6 256.53 L25.18 253.38 L26.12 252.79 L26.93 253.96 L27.75 253.14 L28.69 253.38 L29.85 254.54 L31.02 255.13 L31.96 256.53 L33.36 256.53 L33.94 253.38 L34.76 249.29 L35.46 249.87 L35.93 255.13 L36.63 256.53 L43.87 256.53 L44.8 253.96 L45.62 253.38 L46.44 255.13 L47.14 253.96 L47.96 252.79 L48.77 252.21 L49.71 253.96 L50.29 252.44 L51.46 251.04 L52.63 249.87 L53.45 248.71 L54.38 246.37 L54.96 249.29 L55.78 252.79 L56.48 254.54 L57.3 251.04 L57.88 249.29 L58.47 252.21 L59.05 255.13 L59.64 256.53 L64.89 256.53 L65.82 254.31 L66.64 253.96 L67.46 255.71 L68.39 256.53 L70.15 256.53 L71.31 255.48 L73.07 254.89 L74.82 254.54 L75.99 253.96 L76.8 256.53 L76.8 256.53Z" fill="#ff0000" stroke="none"/>
<path d="M14.3 256.53 L24.6 256.53 L25.18 253.38 L26.12 252.79 L26.93 253.96 L27.75 253.14 L28.69 253.38 L29.85 254.54 L31.02 255.13 L31.96 256.53 L33.36 256.53 L33.94 253.38 L34.76 249.29 L35.46 249.87 L35.93 255.13 L36.63 256.53 L43.87 256.53 L44.8 253.96 L45.62 253.38 L46.44 255.13 L47.14 253.96 L47.96 252.79 L48.77 252.21 L49.71 253.96 L50.29 252.44 L51.46 251.04 L52.63 249.87 L53.45 248.71 L54.38 246.37 L54.96 249.29 L55.78 252.79 L56.48 254.54 L57.3 251.04 L57.88 249.29 L58.47 252.21 L59.05 255.13 L59.64 256.53 L64.89 256.53 L65.82 254.31 L66.64 253.96 L67.46 255.71 L68.39 256.53 L70.15 256.53 L71.31 255.48 L73.07 254.89 L74.82 254.54 L75.99 253.96 L76.8 256.53 L78 256.53 L82.54 256.08 L84.35 255.02 L86.31 255.77 L87.83 255.47 L90.09 256.53 L94.63 256.08 L96.14 254.26 L97.35 252.45 L98.41 255.02 L99.47 256.53 L101.43 255.77 L102.94 255.02 L104.46 256.08 L106.72 255.47 L108.23 254.56 L109.75 256.08 L114.28 256.53 L121.84 256.08 L124.11 255.02 L126.07 256.08 L127.89 256.53 L128.3 256.53" fill="none" stroke="#000" stroke-width="0.7" stroke-linejoin="round"/>
<path d="M24.6 267.8 L24.6 267.8 L25.42 265.11 L26.35 263.13 L27.52 262.43 L28.69 262.78 L29.62 265.11 L30.09 267.8 L33.59 267.8 L34.29 265.11 L35.11 263.13 L35.93 263.36 L36.86 265.7 L37.45 267.8 L41.77 267.8 L42.7 266.28 L43.87 265.11 L45.04 265.11 L46.2 266.28 L47.14 267.8 L52.98 267.8 L53.8 266.28 L54.96 265.11 L56.13 264.3 L57.3 263.95 L58.47 264.76 L59.64 264.76 L60.8 265.11 L61.97 266.28 L62.55 267.8 L68.98 267.8 L69.8 266.87 L70.73 265.7 L71.31 262.78 L71.9 258.69 L72.48 262.19 L73.07 261.03 L74 259.86 L75.17 259.27 L76.34 259.86 L77.5 261.03 L78.91 262.78 L80.07 265.11 L80.89 267.8 L80.89 267.8Z" fill="#ff0000" stroke="none"/>
<path d="M14.3 267.8 L24.6 267.8 L25.42 265.11 L26.35 263.13 L27.52 262.43 L28.69 262.78 L29.62 265.11 L30.09 267.8 L33.59 267.8 L34.29 265.11 L35.11 263.13 L35.93 263.36 L36.86 265.7 L37.45 267.8 L41.77 267.8 L42.7 266.28 L43.87 265.11 L45.04 265.11 L46.2 266.28 L47.14 267.8 L52.98 267.8 L53.8 266.28 L54.96 265.11 L56.13 264.3 L57.3 263.95 L58.47 264.76 L59.64 264.76 L60.8 265.11 L61.97 266.28 L62.55 267.8 L68.98 267.8 L69.8 266.87 L70.73 265.7 L71.31 262.78 L71.9 258.69 L72.48 262.19 L73.07 261.03 L74 259.86 L75.17 259.27 L76.34 259.86 L77.5 261.03 L78.91 262.78 L80.07 265.11 L80.89 267.8 L81.02 267.8 L85.56 267.8 L87.83 266.29 L90.09 265.23 L92.36 265.99 L94.63 267.04 L97.65 267.8 L101.43 267.8 L104.46 266.74 L106.72 267.8 L127.89 267.8 L128.3 267.8" fill="none" stroke="#000" stroke-width="0.7" stroke-linejoin="round"/>
<path d="M23.78 279.07 L23.78 279.07 L24.25 276.27 L25.42 275.33 L26.58 274.52 L28.1 273.35 L29.62 272.76 L30.09 274.52 L31.02 277.2 L31.61 279.07 L33.36 279.07 L33.94 276.5 L34.76 274.87 L35.69 274.52 L36.63 276.85 L37.09 279.07 L41.77 279.07 L42.47 276.27 L43.28 274.16 L44.1 273.7 L45.04 275.68 L45.62 279.07 L50.29 279.07 L51.11 278.37 L52.04 278.6 L52.98 278.25 L53.8 278.6 L54.96 276.85 L56.13 275.33 L57.3 274.87 L58.82 275.68 L59.99 276.5 L61.39 278.02 L62.32 278.6 L63.14 279.07 L67.81 279.07 L68.98 276.85 L70.5 275.68 L71.66 273.35 L72.48 272.18 L73.65 271.01 L74.82 269.26 L75.99 271.01 L77.15 272.18 L78.32 271.6 L79.49 273.93 L80.07 278.02 L80.42 279.07 L80.42 279.07Z" fill="#ff0000" stroke="none"/>
<path d="M14.3 279.07 L23.78 279.07 L24.25 276.27 L25.42 275.33 L26.58 274.52 L28.1 273.35 L29.62 272.76 L30.09 274.52 L31.02 277.2 L31.61 279.07 L33.36 279.07 L33.94 276.5 L34.76 274.87 L35.69 274.52 L36.63 276.85 L37.09 279.07 L41.77 279.07 L42.47 276.27 L43.28 274.16 L44.1 273.7 L45.04 275.68 L45.62 279.07 L50.29 279.07 L51.11 278.37 L52.04 278.6 L52.98 278.25 L53.8 278.6 L54.96 276.85 L56.13 275.33 L57.3 274.87 L58.82 275.68 L59.99 276.5 L61.39 278.02 L62.32 278.6 L63.14 279.07 L67.81 279.07 L68.98 276.85 L70.5 275.68 L71.66 273.35 L72.48 272.18 L73.65 271.01 L74.82 269.26 L75.99 271.01 L77.15 272.18 L78.32 271.6 L79.49 273.93 L80.07 278.02 L80.42 279.07 L85.56 279.07 L87.83 277.1 L90.09 276.05 L92.36 275.59 L94.63 276.8 L96.9 278.77 L100.68 279.07 L103.7 278.31 L105.97 277.56 L108.23 277.1 L110.05 278.31 L112.77 279.07 L127.89 279.52 L128.3 279.52" fill="none" stroke="#000" stroke-width="0.7" stroke-linejoin="round"/>
<path d="M23.78 290.34 L23.78 290.34 L24.6 289.06 L25.77 286.95 L27.28 285.55 L28.1 284.97 L29.27 285.55 L30.09 283.8 L31.02 284.62 L31.61 290.34 L33.94 290.34 L34.53 287.3 L35.46 284.97 L36.63 284.62 L37.45 285.55 L38.03 290.34 L42.7 290.34 L43.28 288.12 L44.1 286.14 L45.04 286.14 L46.2 287.89 L47.14 290.34 L52.04 290.34 L52.98 289.64 L53.8 290.34 L55.78 290.34 L56.48 287.3 L57.65 285.55 L58.82 285.55 L59.99 286.14 L61.15 288.47 L61.97 289.64 L63.72 289.99 L64.89 290.34 L68.98 290.34 L69.8 289.06 L70.73 287.89 L71.66 284.97 L72.13 282.05 L72.83 284.62 L73.65 283.22 L74.47 282.05 L75.4 280.3 L76.57 281.46 L77.74 282.63 L78.91 283.8 L79.84 286.14 L80.66 290.34 L80.66 290.34Z" fill="#ff0000" stroke="none"/>
<path d="M14.3 290.34 L23.78 290.34 L24.6 289.06 L25.77 286.95 L27.28 285.55 L28.1 284.97 L29.27 285.55 L30.09 283.8 L31.02 284.62 L31.61 290.34 L33.94 290.34 L34.53 287.3 L35.46 284.97 L36.63 284.62 L37.45 285.55 L38.03 290.34 L42.7 290.34 L43.28 288.12 L44.1 286.14 L45.04 286.14 L46.2 287.89 L47.14 290.34 L52.04 290.34 L52.98 289.64 L53.8 290.34 L55.78 290.34 L56.48 287.3 L57.65 285.55 L58.82 285.55 L59.99 286.14 L61.15 288.47 L61.97 289.64 L63.72 289.99 L64.89 290.34 L68.98 290.34 L69.8 289.06 L70.73 287.89 L71.66 284.97 L72.13 282.05 L72.83 284.62 L73.65 283.22 L74.47 282.05 L75.4 280.3 L76.57 281.46 L77.74 282.63 L78.91 283.8 L79.84 286.14 L80.66 290.34 L80.72 290.34 L87.07 290.04 L89.34 288.07 L90.85 285.8 L93.12 288.07 L96.14 289.13 L99.16 290.34 L103.7 289.58 L105.21 288.07 L107.48 288.07 L109.75 289.58 L112.77 290.34 L123.35 290.04 L124.86 289.13 L126.37 290.04 L127.89 290.34 L128.3 290.34" fill="none" stroke="#000" stroke-width="0.7" stroke-linejoin="round"/>
<path d="M23.78 301.61 L23.78 301.61 L24.25 294.95 L24.95 297.87 L25.77 299.04 L26.93 297.87 L28.1 294.37 L28.69 293.79 L29.27 299.62 L29.85 301.61 L32.77 301.61 L33.36 297.06 L34.29 296.12 L35.11 297.06 L35.69 300.21 L36.28 301.61 L41.77 301.61 L42.47 297.52 L43.28 299.04 L44.1 300.56 L45.04 301.26 L45.97 301.61 L52.63 301.61 L53.45 299.04 L54.38 296.35 L55.31 297.06 L56.13 299.04 L56.95 301.61 L66.06 301.61 L66.99 297.87 L68.16 296.7 L69.56 295.54 L70.73 293.79 L71.9 293.2 L73.07 292.03 L74.23 292.62 L75.4 293.55 L76.57 293.79 L77.5 295.54 L78.32 299.04 L78.91 301.61 L78.91 301.61Z" fill="#ff0000" stroke="none"/>
<path d="M14.3 301.61 L23.78 301.61 L24.25 294.95 L24.95 297.87 L25.77 299.04 L26.93 297.87 L28.1 294.37 L28.69 293.79 L29.27 299.62 L29.85 301.61 L32.77 301.61 L33.36 297.06 L34.29 296.12 L35.11 297.06 L35.69 300.21 L36.28 301.61 L41.77 301.61 L42.47 297.52 L43.28 299.04 L44.1 300.56 L45.04 301.26 L45.97 301.61 L52.63 301.61 L53.45 299.04 L54.38 296.35 L55.31 297.06 L56.13 299.04 L56.95 301.61 L66.06 301.61 L66.99 297.87 L68.16 296.7 L69.56 295.54 L70.73 293.79 L71.9 293.2 L73.07 292.03 L74.23 292.62 L75.4 293.55 L76.57 293.79 L77.5 295.54 L78.32 299.04 L78.91 301.61 L87.07 301.46 L89.34 300.85 L91.61 301.61 L99.16 301.46 L101.89 300.4 L103.4 301.61 L115.79 301.46 L118.82 301.16 L127.89 301.61 L128.3 301.61" fill="none" stroke="#000" stroke-width="0.7" stroke-linejoin="round"/>
<path d="M23.78 312.88 L23.78 312.88 L24.6 311.13 L25.42 311.95 L26.35 312.3 L27.28 309.96 L28.45 307.27 L29.62 306.46 L30.79 307.62 L31.96 310.54 L32.42 312.88 L35.93 312.88 L36.63 309.38 L37.45 304.12 L38.26 302.95 L38.96 305.87 L39.43 311.71 L40.13 312.88 L41.3 312.88 L42.12 309.96 L42.93 311.71 L43.28 312.88 L52.28 312.88 L52.98 304.12 L53.8 310.54 L54.61 307.62 L55.55 303.54 L56.48 302.95 L57.3 303.77 L57.88 303.54 L58.82 304.7 L59.64 308.21 L60.45 309.96 L61.39 311.71 L61.97 312.88 L66.99 312.88 L67.81 311.71 L68.98 310.54 L70.15 310.78 L70.96 312.3 L71.66 312.88 L73.65 312.88 L74.82 310.78 L75.99 309.96 L77.5 309.96 L78.91 310.78 L80.07 311.71 L80.66 312.88 L80.66 312.88Z" fill="#ff0000" stroke="none"/>
<path d="M14.3 312.88 L23.78 312.88 L24.6 311.13 L25.42 311.95 L26.35 312.3 L27.28 309.96 L28.45 307.27 L29.62 306.46 L30.79 307.62 L31.96 310.54 L32.42 312.88 L35.93 312.88 L36.63 309.38 L37.45 304.12 L38.26 302.95 L38.96 305.87 L39.43 311.71 L40.13 312.88 L41.3 312.88 L42.12 309.96 L42.93 311.71 L43.28 312.88 L52.28 312.88 L52.98 304.12 L53.8 310.54 L54.61 307.62 L55.55 303.54 L56.48 302.95 L57.3 303.77 L57.88 303.54 L58.82 304.7 L59.64 308.21 L60.45 309.96 L61.39 311.71 L61.97 312.88 L66.99 312.88 L67.81 311.71 L68.98 310.54 L70.15 310.78 L70.96 312.3 L71.66 312.88 L73.65 312.88 L74.82 310.78 L75.99 309.96 L77.5 309.96 L78.91 310.78 L80.07 311.71 L80.66 312.88 L82.54 312.88 L84.8 311.67 L87.07 310.46 L89.34 311.67 L91.61 312.88 L93.87 312.43 L96.14 311.37 L98.41 312.43 L100.68 312.88 L105.97 312.88 L108.23 311.37 L110.5 312.43 L112.77 312.88 L115.04 311.37 L116.55 310.46 L118.82 311.97 L121.08 312.88 L124.86 312.58 L126.37 311.97 L127.89 312.43 L128.3 312.43" fill="none" stroke="#000" stroke-width="0.7" stroke-linejoin="round"/>
<path d="M27.52 324.15 L27.52 324.15 L28.1 319.36 L28.69 314.69 L29.85 314.11 L31.02 316.44 L31.96 319.95 L32.77 324.15 L33.94 324.15 L34.76 319.36 L35.93 317.61 L37.09 317.38 L38.26 318.19 L39.2 317.03 L40.36 316.21 L41.77 315.27 L42.93 314.11 L43.64 315.86 L44.1 319.95 L44.8 324.15 L49.71 324.15 L50.29 321.11 L51.11 319.36 L52.04 320.53 L52.63 324.15 L54.38 324.15 L54.96 317.61 L56.13 314.11 L56.95 315.27 L57.88 319.36 L58.47 324.15 L62.55 324.15 L63.49 320.53 L64.66 319.36 L65.82 319.95 L66.99 322.28 L67.46 324.15 L69.56 324.15 L70.15 322.87 L71.31 322.87 L72.48 323.45 L73.07 324.15 L78.67 324.15 L79.49 320.53 L80.66 318.19 L81.47 317.03 L82.18 319.36 L82.99 322.87 L83.58 324.15 L83.58 324.15Z" fill="#ff0000" stroke="none"/>
<path d="M14.3 324.15 L27.52 324.15 L28.1 319.36 L28.69 314.69 L29.85 314.11 L31.02 316.44 L31.96 319.95 L32.77 324.15 L33.94 324.15 L34.76 319.36 L35.93 317.61 L37.09 317.38 L38.26 318.19 L39.2 317.03 L40.36 316.21 L41.77 315.27 L42.93 314.11 L43.64 315.86 L44.1 319.95 L44.8 324.15 L49.71 324.15 L50.29 321.11 L51.11 319.36 L52.04 320.53 L52.63 324.15 L54.38 324.15 L54.96 317.61 L56.13 314.11 L56.95 315.27 L57.88 319.36 L58.47 324.15 L62.55 324.15 L63.49 320.53 L64.66 319.36 L65.82 319.95 L66.99 322.28 L67.46 324.15 L69.56 324.15 L70.15 322.87 L71.31 322.87 L72.48 323.45 L73.07 324.15 L78.67 324.15 L79.49 320.53 L80.66 318.19 L81.47 317.03 L82.18 319.36 L82.99 322.87 L83.58 324.15 L86.31 323.7 L87.83 322.18 L88.88 323.7 L90.85 324.15 L111.26 324.15 L114.28 323.39 L117.3 322.49 L118.82 323.7 L121.84 324.15 L124.86 323.39 L127.89 322.18 L128.3 322.18" fill="none" stroke="#000" stroke-width="0.7" stroke-linejoin="round"/>
<path d="M25.77 335.42 L25.77 335.42 L26.58 333.08 L27.75 331.45 L29.27 330.28 L30.79 329.11 L31.61 329.58 L32.42 332.27 L33.12 335.42 L39.78 335.42 L40.6 333.78 L41.77 332.27 L42.93 330.75 L43.64 328.41 L44.45 330.28 L45.62 332.27 L46.79 333.43 L47.61 335.42 L49.12 335.42 L49.94 332.85 L50.88 333.43 L51.81 334.6 L52.63 334.02 L53.45 332.27 L54.38 331.1 L55.55 329.93 L56.48 327.6 L57.3 325.61 L57.88 329.35 L58.47 335.42 L62.79 335.42 L63.49 332.85 L64.66 332.27 L66.06 333.08 L67.23 333.78 L68.16 330.51 L68.98 328.18 L70.15 327.01 L70.96 327.6 L71.66 331.1 L72.83 332.27 L73.65 334.02 L74 335.42 L74 335.42Z" fill="#ff0000" stroke="none"/>
<path d="M14.3 335.42 L25.77 335.42 L26.58 333.08 L27.75 331.45 L29.27 330.28 L30.79 329.11 L31.61 329.58 L32.42 332.27 L33.12 335.42 L39.78 335.42 L40.6 333.78 L41.77 332.27 L42.93 330.75 L43.64 328.41 L44.45 330.28 L45.62 332.27 L46.79 333.43 L47.61 335.42 L49.12 335.42 L49.94 332.85 L50.88 333.43 L51.81 334.6 L52.63 334.02 L53.45 332.27 L54.38 331.1 L55.55 329.93 L56.48 327.6 L57.3 325.61 L57.88 329.35 L58.47 335.42 L62.79 335.42 L63.49 332.85 L64.66 332.27 L66.06 333.08 L67.23 333.78 L68.16 330.51 L68.98 328.18 L70.15 327.01 L70.96 327.6 L71.66 331.1 L72.83 332.27 L73.65 334.02 L74 335.42 L77.5 335.42 L78 334.97 L81.02 334.97 L83.29 333.45 L85.26 335.42 L90.09 335.42 L92.36 334.21 L94.63 334.97 L97.65 335.42 L123.35 335.42 L126.07 334.21 L127.89 333.45 L128.3 333.45" fill="none" stroke="#000" stroke-width="0.7" stroke-linejoin="round"/>
<path d="M23.78 346.69 L23.78 346.69 L24.25 343.19 L25.18 341.32 L26.35 340.15 L27.52 339.68 L28.1 340.15 L28.45 346.69 L31.61 346.69 L32.19 338.75 L32.77 337 L33.36 338.16 L34.29 340.85 L35.11 339.33 L35.93 341.67 L36.63 342.84 L37.45 341.08 L38.61 340.15 L39.78 338.75 L40.6 338.16 L41.53 340.85 L42.47 339.68 L43.28 341.08 L44.1 339.92 L44.8 340.5 L45.62 341.32 L46.2 346.69 L48.77 346.69 L49.47 342.25 L50.29 339.33 L50.88 338.75 L51.81 341.67 L52.28 346.69 L54.61 346.69 L55.31 342.25 L56.13 340.85 L57.3 340.5 L58.12 342.02 L58.82 346.69 L60.45 346.69 L61.39 345.17 L62.55 344 L63.49 344.82 L64.31 345.76 L65.47 345.52 L66.64 345.17 L67.81 345.52 L68.63 346.69 L72.48 346.69 L73.65 344 L74.47 342.84 L75.4 344 L76.34 345.17 L76.8 346.69 L79.14 346.69 L80.07 343.42 L80.77 342.49 L81.47 344 L82.18 346.69 L84.16 346.69 L85.33 344.82 L86.5 343.65 L87.66 344 L88.6 346.69 L88.6 346.69Z" fill="#ff0000" stroke="none"/>
<path d="M14.3 346.69 L23.78 346.69 L24.25 343.19 L25.18 341.32 L26.35 340.15 L27.52 339.68 L28.1 340.15 L28.45 346.69 L31.61 346.69 L32.19 338.75 L32.77 337 L33.36 338.16 L34.29 340.85 L35.11 339.33 L35.93 341.67 L36.63 342.84 L37.45 341.08 L38.61 340.15 L39.78 338.75 L40.6 338.16 L41.53 340.85 L42.47 339.68 L43.28 341.08 L44.1 339.92 L44.8 340.5 L45.62 341.32 L46.2 346.69 L48.77 346.69 L49.47 342.25 L50.29 339.33 L50.88 338.75 L51.81 341.67 L52.28 346.69 L54.61 346.69 L55.31 342.25 L56.13 340.85 L57.3 340.5 L58.12 342.02 L58.82 346.69 L60.45 346.69 L61.39 345.17 L62.55 344 L63.49 344.82 L64.31 345.76 L65.47 345.52 L66.64 345.17 L67.81 345.52 L68.63 346.69 L72.48 346.69 L73.65 344 L74.47 342.84 L75.4 344 L76.34 345.17 L76.8 346.69 L79.14 346.69 L80.07 343.42 L80.77 342.49 L81.47 344 L82.18 346.69 L84.16 346.69 L85.33 344.82 L86.5 343.65 L87.66 344 L88.6 346.69 L90.85 345.18 L92.36 346.39 L94.63 346.69 L96.9 345.63 L99.16 344.57 L100.98 345.63 L102.19 346.69 L103.7 345.63 L105.21 344.57 L107.48 346.09 L109.75 346.69 L124.86 346.39 L127.89 345.63 L128.3 345.63" fill="none" stroke="#000" stroke-width="0.7" stroke-linejoin="round"/>
<path d="M24.01 357.96 L24.01 357.96 L24.36 353.29 L25.42 354.69 L26.58 353.76 L27.52 352.35 L28.45 353.76 L29.27 355.27 L29.85 357.96 L32.77 357.96 L33.36 355.27 L34.29 353.29 L35.11 354.11 L35.93 357.96 L41.3 357.96 L42.12 354.92 L42.7 352.59 L43.28 357.03 L43.87 357.96 L46.2 357.96 L47.37 357.61 L49.12 357.61 L50.29 357.96 L52.98 357.96 L53.8 356.09 L54.96 355.39 L56.13 355.39 L57.3 355.86 L58.47 357.03 L59.05 357.96 L67.23 357.96 L68.16 354.69 L69.33 352.12 L70.5 351.19 L71.66 350.6 L72.83 349.43 L74 348.62 L74.82 348.85 L75.99 350.6 L77.15 351.77 L77.97 352.94 L78.91 355.27 L79.49 357.96 L79.49 357.96Z" fill="#ff0000" stroke="none"/>
<path d="M14.3 357.96 L24.01 357.96 L24.36 353.29 L25.42 354.69 L26.58 353.76 L27.52 352.35 L28.45 353.76 L29.27 355.27 L29.85 357.96 L32.77 357.96 L33.36 355.27 L34.29 353.29 L35.11 354.11 L35.93 357.96 L41.3 357.96 L42.12 354.92 L42.7 352.59 L43.28 357.03 L43.87 357.96 L46.2 357.96 L47.37 357.61 L49.12 357.61 L50.29 357.96 L52.98 357.96 L53.8 356.09 L54.96 355.39 L56.13 355.39 L57.3 355.86 L58.47 357.03 L59.05 357.96 L67.23 357.96 L68.16 354.69 L69.33 352.12 L70.5 351.19 L71.66 350.6 L72.83 349.43 L74 348.62 L74.82 348.85 L75.99 350.6 L77.15 351.77 L77.97 352.94 L78.91 355.27 L79.49 357.96 L79.51 357.96 L87.07 357.66 L89.34 356.6 L90.85 357.2 L93.12 357.96 L103.7 357.2 L106.72 357.66 L127.89 357.96 L128.3 357.96" fill="none" stroke="#000" stroke-width="0.7" stroke-linejoin="round"/>
<path d="M24.95 369.23 L24.95 369.23 L25.77 366.78 L26.58 365.26 L27.52 365.03 L28.45 365.96 L29.27 363.86 L30.09 361.52 L30.79 360.94 L31.26 364.44 L31.72 369.23 L34.76 369.23 L35.46 365.03 L36.28 359.19 L36.86 363.86 L37.45 366.78 L38.03 365.03 L38.61 367.36 L39.2 368.3 L40.13 369.23 L42.12 369.23 L42.93 366.78 L43.64 366.19 L44.1 369.23 L45.62 369.23 L46.2 365.61 L46.79 363.86 L47.37 366.19 L47.61 369.23 L49.94 369.23 L50.64 367.95 L51.46 367.36 L52.28 368.53 L52.63 369.23 L53.8 369.23 L54.38 366.78 L55.55 365.03 L56.48 362.69 L56.95 360.35 L57.3 364.44 L57.65 366.78 L58.12 369.23 L59.64 369.23 L60.22 359.77 L60.8 365.03 L61.39 369.23 L63.14 369.23 L63.72 365.61 L64.31 366.78 L64.89 369.23 L67.81 369.23 L68.63 365.61 L69.56 366.78 L70.5 368.53 L70.96 369.23 L71.9 365.61 L73.07 363.86 L74.23 363.62 L75.4 362.11 L76.57 363.27 L77.74 363.62 L78.91 364.44 L80.07 365.03 L80.66 369.23 L80.66 369.23Z" fill="#ff0000" stroke="none"/>
<path d="M14.3 369.23 L24.95 369.23 L25.77 366.78 L26.58 365.26 L27.52 365.03 L28.45 365.96 L29.27 363.86 L30.09 361.52 L30.79 360.94 L31.26 364.44 L31.72 369.23 L34.76 369.23 L35.46 365.03 L36.28 359.19 L36.86 363.86 L37.45 366.78 L38.03 365.03 L38.61 367.36 L39.2 368.3 L40.13 369.23 L42.12 369.23 L42.93 366.78 L43.64 366.19 L44.1 369.23 L45.62 369.23 L46.2 365.61 L46.79 363.86 L47.37 366.19 L47.61 369.23 L49.94 369.23 L50.64 367.95 L51.46 367.36 L52.28 368.53 L52.63 369.23 L53.8 369.23 L54.38 366.78 L55.55 365.03 L56.48 362.69 L56.95 360.35 L57.3 364.44 L57.65 366.78 L58.12 369.23 L59.64 369.23 L60.22 359.77 L60.8 365.03 L61.39 369.23 L63.14 369.23 L63.72 365.61 L64.31 366.78 L64.89 369.23 L67.81 369.23 L68.63 365.61 L69.56 366.78 L70.5 368.53 L70.96 369.23 L71.9 365.61 L73.07 363.86 L74.23 363.62 L75.4 362.11 L76.57 363.27 L77.74 363.62 L78.91 364.44 L80.07 365.03 L80.66 369.23 L80.72 369.23 L87.07 368.93 L89.34 367.42 L90.85 366.66 L92.36 368.63 L93.87 369.23 L95.38 367.42 L96.9 367.11 L98.41 368.63 L100.68 369.23 L124.86 369.23 L127.89 368.63 L128.3 368.63" fill="none" stroke="#000" stroke-width="0.7" stroke-linejoin="round"/>
<path d="M28.69 380.5 L28.69 380.5 L29.27 376.65 L30.09 373.73 L30.79 373.14 L31.61 373.73 L32.42 376.06 L33.12 378.4 L33.94 380.5 L39.78 380.5 L40.6 379.57 L41.53 378.4 L42.47 378.05 L43.28 379.57 L43.87 380.5 L52.04 380.5 L52.63 376.88 L53.21 374.54 L53.8 378.98 L54.38 380.5 L54.96 380.5 L55.55 373.73 L56.48 370.81 L57.3 371.97 L57.88 375.48 L58.47 380.5 L80.66 380.5 L81.24 373.73 L81.82 372.56 L82.41 375.48 L82.99 378.05 L83.58 379.22 L84.51 380.15 L84.98 380.5 L84.98 380.5Z" fill="#ff0000" stroke="none"/>
<path d="M14.3 380.5 L28.69 380.5 L29.27 376.65 L30.09 373.73 L30.79 373.14 L31.61 373.73 L32.42 376.06 L33.12 378.4 L33.94 380.5 L39.78 380.5 L40.6 379.57 L41.53 378.4 L42.47 378.05 L43.28 379.57 L43.87 380.5 L52.04 380.5 L52.63 376.88 L53.21 374.54 L53.8 378.98 L54.38 380.5 L54.96 380.5 L55.55 373.73 L56.48 370.81 L57.3 371.97 L57.88 375.48 L58.47 380.5 L80.66 380.5 L81.24 373.73 L81.82 372.56 L82.41 375.48 L82.99 378.05 L83.58 379.22 L84.51 380.15 L84.98 380.5 L94.63 380.5 L96.14 380.05 L97.65 380.5 L127.89 380.5 L128.3 380.5" fill="none" stroke="#000" stroke-width="0.7" stroke-linejoin="round"/>
<path d="M23.78 391.77 L23.78 391.77 L24.25 388.97 L25.18 387.8 L26.35 386.05 L27.52 383.71 L28.1 382.31 L28.92 384.88 L29.85 387.22 L31.02 388.97 L32.19 390.49 L32.77 391.77 L37.09 391.77 L38.03 390.49 L39.2 389.78 L40.36 389.32 L41.53 388.15 L42.47 388.97 L43.28 390.72 L44.1 391.77 L47.61 391.77 L48.54 390.72 L49.71 389.78 L50.88 388.97 L51.81 387.8 L52.63 386.05 L53.45 382.54 L54.15 381.96 L54.61 384.3 L54.96 391.77 L65.82 391.77 L66.64 387.22 L67.23 385.11 L67.81 387.22 L68.39 390.13 L69.33 391.3 L70.15 391.77 L75.99 391.77 L76.57 388.97 L77.5 387.45 L78.32 388.38 L79.14 388.97 L79.84 388.15 L80.66 386.98 L81.24 391.77 L81.24 391.77Z" fill="#ff0000" stroke="none"/>
<path d="M14.3 391.77 L23.78 391.77 L24.25 388.97 L25.18 387.8 L26.35 386.05 L27.52 383.71 L28.1 382.31 L28.92 384.88 L29.85 387.22 L31.02 388.97 L32.19 390.49 L32.77 391.77 L37.09 391.77 L38.03 390.49 L39.2 389.78 L40.36 389.32 L41.53 388.15 L42.47 388.97 L43.28 390.72 L44.1 391.77 L47.61 391.77 L48.54 390.72 L49.71 389.78 L50.88 388.97 L51.81 387.8 L52.63 386.05 L53.45 382.54 L54.15 381.96 L54.61 384.3 L54.96 391.77 L65.82 391.77 L66.64 387.22 L67.23 385.11 L67.81 387.22 L68.39 390.13 L69.33 391.3 L70.15 391.77 L75.99 391.77 L76.57 388.97 L77.5 387.45 L78.32 388.38 L79.14 388.97 L79.84 388.15 L80.66 386.98 L81.24 391.77 L81.33 391.77 L87.07 391.77 L91.61 391.17 L93.12 391.77 L109.75 391.47 L111.56 389.96 L113.53 389.5 L115.49 390.26 L117 391.77 L127.89 391.77 L128.3 391.77" fill="none" stroke="#000" stroke-width="0.7" stroke-linejoin="round"/>
<path d="M24.6 403.04 L24.6 403.04 L25.42 398.95 L26.35 397.78 L27.28 398.37 L28.1 397.2 L28.92 395.45 L29.62 393.93 L30.44 396.03 L31.02 402.81 L31.61 403.04 L33.94 403.04 L34.53 397.78 L35.46 395.1 L36.28 395.8 L37.09 398.95 L37.8 403.04 L41.77 403.04 L42.47 398.95 L43.28 396.97 L44.1 397.78 L45.04 399.54 L45.62 401.87 L46.2 403.04 L50.29 403.04 L51.11 401.29 L52.04 400.7 L52.63 403.04 L54.96 403.04 L55.55 399.54 L56.72 398.37 L57.88 398.37 L59.05 399.77 L60.22 400.7 L61.39 401.29 L62.32 402.46 L62.79 403.04 L67.46 403.04 L68.39 401.87 L69.56 401.29 L70.73 400.7 L71.66 396.03 L72.48 397.2 L73.07 396.03 L74.23 393.7 L75.4 395.45 L76.34 394.28 L77.15 395.45 L77.97 394.86 L78.91 397.78 L79.49 401.87 L79.84 403.04 L79.84 403.04Z" fill="#ff0000" stroke="none"/>
<path d="M14.3 403.04 L24.6 403.04 L25.42 398.95 L26.35 397.78 L27.28 398.37 L28.1 397.2 L28.92 395.45 L29.62 393.93 L30.44 396.03 L31.02 402.81 L31.61 403.04 L33.94 403.04 L34.53 397.78 L35.46 395.1 L36.28 395.8 L37.09 398.95 L37.8 403.04 L41.77 403.04 L42.47 398.95 L43.28 396.97 L44.1 397.78 L45.04 399.54 L45.62 401.87 L46.2 403.04 L50.29 403.04 L51.11 401.29 L52.04 400.7 L52.63 403.04 L54.96 403.04 L55.55 399.54 L56.72 398.37 L57.88 398.37 L59.05 399.77 L60.22 400.7 L61.39 401.29 L62.32 402.46 L62.79 403.04 L67.46 403.04 L68.39 401.87 L69.56 401.29 L70.73 400.7 L71.66 396.03 L72.48 397.2 L73.07 396.03 L74.23 393.7 L75.4 395.45 L76.34 394.28 L77.15 395.45 L77.97 394.86 L78.91 397.78 L79.49 401.87 L79.84 403.04 L85.56 402.59 L87.83 401.07 L90.09 399.87 L91.61 399.56 L93.12 401.07 L94.33 402.59 L96.9 403.04 L102.19 403.04 L103.7 401.83 L104.46 399.56 L105.51 398.81 L106.42 400.32 L107.48 399.56 L108.54 398.81 L109.75 402.59 L120.33 402.59 L122.6 401.83 L124.86 402.13 L127.89 403.04 L128.3 403.04" fill="none" stroke="#000" stroke-width="0.7" stroke-linejoin="round"/>
<path d="M23.78 414.31 L23.78 414.31 L24.6 413.03 L25.42 412.44 L26.35 413.84 L26.93 414.31 L28.69 414.31 L29.62 412.44 L30.79 410.69 L31.96 409.87 L32.77 411.86 L33.12 414.31 L38.03 414.31 L38.96 410.69 L39.78 407.19 L40.6 405.43 L41.53 407.77 L42.12 410.69 L42.93 411.86 L43.87 412.44 L44.8 411.51 L45.62 411.86 L46.44 413.03 L47.37 410.69 L48.31 409.52 L49.12 409.87 L49.94 411.86 L50.64 414.31 L57.3 414.31 L57.88 408.94 L58.47 405.43 L59.05 404.27 L59.64 408.35 L60.22 410.69 L60.8 409.52 L61.15 407.77 L61.62 407.19 L62.32 410.11 L63.14 412.44 L64.31 413.61 L64.89 414.31 L75.99 414.31 L76.8 413.03 L77.97 412.21 L79.14 411.27 L80.07 410.69 L81.01 412.44 L81.47 414.31 L81.47 414.31Z" fill="#ff0000" stroke="none"/>
<path d="M14.3 414.31 L23.78 414.31 L24.6 413.03 L25.42 412.44 L26.35 413.84 L26.93 414.31 L28.69 414.31 L29.62 412.44 L30.79 410.69 L31.96 409.87 L32.77 411.86 L33.12 414.31 L38.03 414.31 L38.96 410.69 L39.78 407.19 L40.6 405.43 L41.53 407.77 L42.12 410.69 L42.93 411.86 L43.87 412.44 L44.8 411.51 L45.62 411.86 L46.44 413.03 L47.37 410.69 L48.31 409.52 L49.12 409.87 L49.94 411.86 L50.64 414.31 L57.3 414.31 L57.88 408.94 L58.47 405.43 L59.05 404.27 L59.64 408.35 L60.22 410.69 L60.8 409.52 L61.15 407.77 L61.62 407.19 L62.32 410.11 L63.14 412.44 L64.31 413.61 L64.89 414.31 L75.99 414.31 L76.8 413.03 L77.97 412.21 L79.14 411.27 L80.07 410.69 L81.01 412.44 L81.47 414.31 L81.78 414.31 L84.05 414.01 L86.31 413.71 L88.58 414.31 L90.85 413.71 L93.12 414.31 L95.38 414.01 L97.65 414.01 L100.68 412.8 L102.19 413.25 L104.46 412.8 L106.72 413.25 L108.99 414.31 L118.82 414.31 L121.08 412.5 L122.6 412.8 L124.11 411.74 L126.37 410.98 L127.89 411.74 L128.3 411.74" fill="none" stroke="#000" stroke-width="0.7" stroke-linejoin="round"/>
<path d="M24.6 425.58 L24.6 425.58 L25.77 423.83 L26.93 422.66 L28.1 421.73 L29.27 420.56 L30.44 419.62 L31.26 419.97 L31.96 425.23 L32.42 425.58 L35.11 425.58 L35.93 421.73 L36.63 420.32 L37.45 420.56 L38.26 424.06 L38.61 425.58 L43.28 425.58 L44.1 423.83 L45.04 422.89 L45.97 422.31 L46.79 422.89 L47.37 425.58 L52.28 425.58 L53.21 424.65 L54.38 423.83 L55.55 422.89 L56.48 421.14 L57.3 419.39 L58.47 419.97 L59.64 421.14 L60.8 421.73 L61.97 422.31 L63.14 423.48 L64.31 424.65 L64.89 425.58 L69.33 425.58 L70.15 424.06 L70.96 422.89 L71.66 419.97 L72.48 418.22 L73.07 417.05 L74 416.12 L74.82 415.65 L75.99 415.89 L77.15 417.05 L78.32 418.46 L79.14 417.64 L79.84 418.81 L80.66 421.14 L81.24 425.58 L81.24 425.58Z" fill="#ff0000" stroke="none"/>
<path d="M14.3 425.58 L24.6 425.58 L25.77 423.83 L26.93 422.66 L28.1 421.73 L29.27 420.56 L30.44 419.62 L31.26 419.97 L31.96 425.23 L32.42 425.58 L35.11 425.58 L35.93 421.73 L36.63 420.32 L37.45 420.56 L38.26 424.06 L38.61 425.58 L43.28 425.58 L44.1 423.83 L45.04 422.89 L45.97 422.31 L46.79 422.89 L47.37 425.58 L52.28 425.58 L53.21 424.65 L54.38 423.83 L55.55 422.89 L56.48 421.14 L57.3 419.39 L58.47 419.97 L59.64 421.14 L60.8 421.73 L61.97 422.31 L63.14 423.48 L64.31 424.65 L64.89 425.58 L69.33 425.58 L70.15 424.06 L70.96 422.89 L71.66 419.97 L72.48 418.22 L73.07 417.05 L74 416.12 L74.82 415.65 L75.99 415.89 L77.15 417.05 L78.32 418.46 L79.14 417.64 L79.84 418.81 L80.66 421.14 L81.24 425.58 L81.33 425.58 L88.58 425.28 L90.4 423.01 L91.61 422.71 L93.12 423.77 L96.14 424.52 L99.16 424.82 L103.7 424.82 L105.97 424.22 L108.23 424.22 L109.75 425.28 L127.89 425.58 L128.3 425.58" fill="none" stroke="#000" stroke-width="0.7" stroke-linejoin="round"/>
<path d="M171.14 50 L171.14 50 L172.23 48.18 L172.96 50 L177.71 50 L178.62 42.7 L179.53 39.05 L180.45 39.96 L181.36 50 L183.55 50 L184.46 41.79 L185.37 40.51 L186.28 50 L189.93 50 L190.85 45.44 L191.76 50 L200.34 50 L201.07 42.7 L201.8 41.79 L202.71 50 L203.99 50 L205.08 43.61 L205.99 41.79 L206.91 44.16 L207.82 41.79 L208.73 40.88 L209.64 41.79 L210.55 46.35 L211.28 50 L213.66 50 L214.57 42.7 L215.48 40.51 L216.39 42.7 L217.31 50 L219.13 50 L220.04 41.79 L220.96 39.96 L221.87 42.7 L222.78 50 L225.15 50 L225.88 45.44 L226.98 42.7 L228.26 45.44 L229.53 48.54 L230.99 49.09 L231.91 50 L233.18 50 L234.28 48.54 L235.55 49.64 L238.29 50 L239.75 41.79 L241.03 36.86 L242.31 40.88 L243.4 50 L247.42 50 L248.69 39.05 L249.61 31.75 L250.52 42.7 L251.43 50 L254.72 50 L255.63 49.09 L256.54 50 L260.19 50 L261.1 48.18 L262.01 50 L263.84 50 L264.75 43.61 L265.66 40.88 L266.58 45.44 L267.49 50 L270.23 50 L271.14 45.99 L272.05 44.53 L273.33 46.35 L274.42 50 L276.25 50 L276.98 48.18 L278.07 50 L280.26 50 L281.36 40.88 L282.45 34.31 L283 35.4 L283.03 35.95 L284.49 41.97 L286.31 47.99 L288.5 41.42 L289.78 44.34 L291.42 43.98 L292.7 50 L296.53 50 L297.45 43.61 L298.36 42.7 L299.27 50 L304.2 50 L305.11 42.7 L306.02 41.24 L307.48 42.7 L308.76 50 L311.5 50 L312.41 44.53 L313.32 43.07 L314.23 50 L318.8 50 L320.26 47.26 L321.53 46.35 L322.81 47.81 L324.27 50 L327.55 50 L328.83 47.26 L329.74 48.18 L330.66 50 L333.76 50 L334.85 47.26 L336.13 48.54 L337.41 50 L338.5 48.54 L339.78 47.26 L341.06 47.81 L342.52 49.09 L343.43 50 L343.43 50Z" fill="#ff0000" stroke="none"/>
<path d="M161.7 50 L171.14 50 L172.23 48.18 L172.96 50 L177.71 50 L178.62 42.7 L179.53 39.05 L180.45 39.96 L181.36 50 L183.55 50 L184.46 41.79 L185.37 40.51 L186.28 50 L189.93 50 L190.85 45.44 L191.76 50 L200.34 50 L201.07 42.7 L201.8 41.79 L202.71 50 L203.99 50 L205.08 43.61 L205.99 41.79 L206.91 44.16 L207.82 41.79 L208.73 40.88 L209.64 41.79 L210.55 46.35 L211.28 50 L213.66 50 L214.57 42.7 L215.48 40.51 L216.39 42.7 L217.31 50 L219.13 50 L220.04 41.79 L220.96 39.96 L221.87 42.7 L222.78 50 L225.15 50 L225.88 45.44 L226.98 42.7 L228.26 45.44 L229.53 48.54 L230.99 49.09 L231.91 50 L233.18 50 L234.28 48.54 L235.55 49.64 L238.29 50 L239.75 41.79 L241.03 36.86 L242.31 40.88 L243.4 50 L247.42 50 L248.69 39.05 L249.61 31.75 L250.52 42.7 L251.43 50 L254.72 50 L255.63 49.09 L256.54 50 L260.19 50 L261.1 48.18 L262.01 50 L263.84 50 L264.75 43.61 L265.66 40.88 L266.58 45.44 L267.49 50 L270.23 50 L271.14 45.99 L272.05 44.53 L273.33 46.35 L274.42 50 L276.25 50 L276.98 48.18 L278.07 50 L280.26 50 L281.36 40.88 L282.45 34.31 L283 35.4 L283.03 35.95 L284.49 41.97 L286.31 47.99 L288.5 41.42 L289.78 44.34 L291.42 43.98 L292.7 50 L296.53 50 L297.45 43.61 L298.36 42.7 L299.27 50 L304.2 50 L305.11 42.7 L306.02 41.24 L307.48 42.7 L308.76 50 L311.5 50 L312.41 44.53 L313.32 43.07 L314.23 50 L318.8 50 L320.26 47.26 L321.53 46.35 L322.81 47.81 L324.27 50 L327.55 50 L328.83 47.26 L329.74 48.18 L330.66 50 L333.76 50 L334.85 47.26 L336.13 48.54 L337.41 50 L338.5 48.54 L339.78 47.26 L341.06 47.81 L342.52 49.09 L343.43 50 L351.64 50 L353.1 47.26 L354.38 45.99 L355.66 47.26 L357.12 50 L360.77 50 L362.23 46.72 L364.05 45.44 L365.88 47.26 L367.15 48.54 L368.98 49.64 L371.72 50 L373.54 48.18 L375 46.72 L376.28 48.18 L378.1 50 L380.84 49.09 L382.66 47.26 L384.49 47.26 L385.95 48.54 L387.77 50 L396.35 50" fill="none" stroke="#000" stroke-width="0.7" stroke-linejoin="round"/>
<path d="M173.51 68.69 L173.51 68.69 L174.79 66.87 L175.88 68.69 L178.99 68.69 L179.9 67.41 L181.72 66.87 L183.55 66.5 L185.01 64.68 L185.92 64.13 L186.65 68.69 L189.93 68.69 L190.85 65.95 L191.94 65.41 L192.67 67.78 L193.77 65.95 L194.86 64.68 L195.96 65.04 L197.23 68.69 L200.34 68.69 L201.43 65.95 L202.71 62.3 L204.53 59.57 L205.81 59.2 L206.91 62.3 L207.64 65.95 L208.73 64.13 L210.01 59.57 L210.92 58.65 L211.83 68.69 L216.76 68.69 L217.85 61.39 L219.13 50.44 L220.04 55 L220.96 68.69 L223.33 68.69 L224.06 64.13 L225.15 61.39 L225.88 64.68 L226.98 66.87 L228.26 57.74 L229.17 54.09 L230.08 57.74 L231.36 65.04 L232.45 68.69 L236.47 68.69 L237.38 64.13 L238.29 60.48 L239.2 65.95 L240.12 68.69 L241.03 64.13 L241.94 61.76 L243.4 62.85 L244.68 62.3 L245.96 60.48 L247.05 59.57 L248.15 59.2 L248.88 68.69 L253.26 68.69 L254.35 63.22 L255.08 59.57 L256.18 58.65 L256.91 64.13 L258 66.87 L258.73 62.3 L259.82 58.65 L260.55 64.13 L261.65 68.69 L263.47 68.69 L264.57 57.74 L265.3 53.18 L266.03 57.74 L267.12 66.87 L268.4 64.13 L269.31 68.69 L273.88 68.69 L275.15 62.3 L276.61 56.83 L277.53 52.27 L278.44 50.44 L279.53 68.69 L283 68.69 L283.03 68.69 L285.58 68.69 L286.31 62.3 L287.41 58.65 L288.69 62.3 L289.6 68.69 L295.44 68.69 L296.53 66.5 L297.81 66.87 L299.09 65.95 L300.55 63.22 L302.01 64.13 L303.28 66.87 L304.2 65.41 L305.11 66.87 L306.39 68.69 L312.41 68.69 L313.32 65.41 L314.42 62.3 L315.51 66.87 L316.61 68.69 L318.8 68.69 L319.71 66.87 L320.99 66.5 L322.45 67.78 L323.36 68.69 L327.55 68.69 L328.28 66.5 L329.74 65.95 L331.2 65.41 L332.48 65.04 L333.76 66.87 L334.85 68.69 L336.68 68.69 L337.41 66.5 L338.5 68.69 L338.5 68.69Z" fill="#ff0000" stroke="none"/>
<path d="M161.7 68.69 L173.51 68.69 L174.79 66.87 L175.88 68.69 L178.99 68.69 L179.9 67.41 L181.72 66.87 L183.55 66.5 L185.01 64.68 L185.92 64.13 L186.65 68.69 L189.93 68.69 L190.85 65.95 L191.94 65.41 L192.67 67.78 L193.77 65.95 L194.86 64.68 L195.96 65.04 L197.23 68.69 L200.34 68.69 L201.43 65.95 L202.71 62.3 L204.53 59.57 L205.81 59.2 L206.91 62.3 L207.64 65.95 L208.73 64.13 L210.01 59.57 L210.92 58.65 L211.83 68.69 L216.76 68.69 L217.85 61.39 L219.13 50.44 L220.04 55 L220.96 68.69 L223.33 68.69 L224.06 64.13 L225.15 61.39 L225.88 64.68 L226.98 66.87 L228.26 57.74 L229.17 54.09 L230.08 57.74 L231.36 65.04 L232.45 68.69 L236.47 68.69 L237.38 64.13 L238.29 60.48 L239.2 65.95 L240.12 68.69 L241.03 64.13 L241.94 61.76 L243.4 62.85 L244.68 62.3 L245.96 60.48 L247.05 59.57 L248.15 59.2 L248.88 68.69 L253.26 68.69 L254.35 63.22 L255.08 59.57 L256.18 58.65 L256.91 64.13 L258 66.87 L258.73 62.3 L259.82 58.65 L260.55 64.13 L261.65 68.69 L263.47 68.69 L264.57 57.74 L265.3 53.18 L266.03 57.74 L267.12 66.87 L268.4 64.13 L269.31 68.69 L273.88 68.69 L275.15 62.3 L276.61 56.83 L277.53 52.27 L278.44 50.44 L279.53 68.69 L283 68.69 L283.03 68.69 L285.58 68.69 L286.31 62.3 L287.41 58.65 L288.69 62.3 L289.6 68.69 L295.44 68.69 L296.53 66.5 L297.81 66.87 L299.09 65.95 L300.55 63.22 L302.01 64.13 L303.28 66.87 L304.2 65.41 L305.11 66.87 L306.39 68.69 L312.41 68.69 L313.32 65.41 L314.42 62.3 L315.51 66.87 L316.61 68.69 L318.8 68.69 L319.71 66.87 L320.99 66.5 L322.45 67.78 L323.36 68.69 L327.55 68.69 L328.28 66.5 L329.74 65.95 L331.2 65.41 L332.48 65.04 L333.76 66.87 L334.85 68.69 L336.68 68.69 L337.41 66.5 L338.5 68.69 L376.28 68.33 L377.55 67.23 L378.65 66.5 L379.93 68.33 L387.23 68.33 L389.05 64.13 L390.33 62.3 L391.79 63.22 L393.61 67.78 L396.35 68.69" fill="none" stroke="#000" stroke-width="0.7" stroke-linejoin="round"/>
<path d="M172.23 87.38 L172.23 87.38 L172.96 84.28 L174.06 82.45 L175.34 81.91 L176.61 84.28 L177.16 87.38 L183.18 87.38 L183.91 83.73 L185.01 82.45 L186.28 82.45 L187.56 84.28 L188.11 87.38 L194.13 87.38 L195.41 81.54 L196.69 78.8 L197.78 77.53 L198.88 80.08 L199.97 81.18 L201.8 79.35 L203.62 78.26 L205.08 78.8 L205.81 87.38 L213.66 87.38 L214.57 78.8 L215.66 73.88 L216.76 77.89 L218.22 85.19 L220.04 85.19 L221.5 84.28 L222.78 83.37 L224.06 85.19 L225.15 87.38 L225.88 87.38 L226.98 80.08 L227.71 76.07 L228.44 78.8 L229.17 87.38 L231.91 87.38 L232.45 85.19 L233.18 87.38 L236.83 87.38 L237.74 79.72 L238.66 76.07 L239.75 80.08 L241.03 82.45 L241.94 81.18 L242.85 83 L244.13 87.38 L249.24 87.38 L250.15 86.65 L251.43 85.19 L252.53 83 L253.26 82.45 L253.99 87.38 L256.54 87.38 L257.45 84.28 L259.28 83.37 L260.55 84.28 L261.65 87.38 L264.75 87.38 L265.66 83.37 L266.58 81.18 L267.49 87.38 L269.31 87.38 L270.23 77.89 L271.14 71.5 L272.05 68.77 L272.96 76.07 L273.88 87.38 L275.7 87.38 L276.61 78.8 L277.53 76.07 L278.44 87.38 L282.09 87.38 L283 85.19 L283.21 77.89 L284.12 76.98 L285.04 83.37 L286.31 85.19 L287.77 82.45 L288.69 87.38 L292.88 87.38 L293.61 86.1 L294.71 85.19 L295.44 87.38 L296.9 87.38 L297.81 84.28 L298.72 83.37 L299.64 87.38 L302.37 87.38 L303.28 84.28 L304.2 83.73 L305.11 87.38 L308.76 87.38 L309.67 84.28 L311.13 83.37 L312.41 85.19 L313.69 87.38 L320.62 87.38 L321.53 84.28 L322.81 82.45 L324.27 85.19 L325.18 87.38 L329.74 87.38 L330.66 85.19 L331.93 83.73 L333.39 83.73 L334.85 83.37 L336.13 85.19 L337.04 87.38 L340.69 87.38 L341.61 81.54 L342.88 80.63 L343.98 85.19 L345.26 85.56 L346.17 87.38 L350.73 87.38 L351.64 81.54 L353.1 79.35 L354.38 80.63 L355.29 87.38 L355.29 87.38Z" fill="#ff0000" stroke="none"/>
<path d="M161.7 87.38 L172.23 87.38 L172.96 84.28 L174.06 82.45 L175.34 81.91 L176.61 84.28 L177.16 87.38 L183.18 87.38 L183.91 83.73 L185.01 82.45 L186.28 82.45 L187.56 84.28 L188.11 87.38 L194.13 87.38 L195.41 81.54 L196.69 78.8 L197.78 77.53 L198.88 80.08 L199.97 81.18 L201.8 79.35 L203.62 78.26 L205.08 78.8 L205.81 87.38 L213.66 87.38 L214.57 78.8 L215.66 73.88 L216.76 77.89 L218.22 85.19 L220.04 85.19 L221.5 84.28 L222.78 83.37 L224.06 85.19 L225.15 87.38 L225.88 87.38 L226.98 80.08 L227.71 76.07 L228.44 78.8 L229.17 87.38 L231.91 87.38 L232.45 85.19 L233.18 87.38 L236.83 87.38 L237.74 79.72 L238.66 76.07 L239.75 80.08 L241.03 82.45 L241.94 81.18 L242.85 83 L244.13 87.38 L249.24 87.38 L250.15 86.65 L251.43 85.19 L252.53 83 L253.26 82.45 L253.99 87.38 L256.54 87.38 L257.45 84.28 L259.28 83.37 L260.55 84.28 L261.65 87.38 L264.75 87.38 L265.66 83.37 L266.58 81.18 L267.49 87.38 L269.31 87.38 L270.23 77.89 L271.14 71.5 L272.05 68.77 L272.96 76.07 L273.88 87.38 L275.7 87.38 L276.61 78.8 L277.53 76.07 L278.44 87.38 L282.09 87.38 L283 85.19 L283.21 77.89 L284.12 76.98 L285.04 83.37 L286.31 85.19 L287.77 82.45 L288.69 87.38 L292.88 87.38 L293.61 86.1 L294.71 85.19 L295.44 87.38 L296.9 87.38 L297.81 84.28 L298.72 83.37 L299.64 87.38 L302.37 87.38 L303.28 84.28 L304.2 83.73 L305.11 87.38 L308.76 87.38 L309.67 84.28 L311.13 83.37 L312.41 85.19 L313.69 87.38 L320.62 87.38 L321.53 84.28 L322.81 82.45 L324.27 85.19 L325.18 87.38 L329.74 87.38 L330.66 85.19 L331.93 83.73 L333.39 83.73 L334.85 83.37 L336.13 85.19 L337.04 87.38 L340.69 87.38 L341.61 81.54 L342.88 80.63 L343.98 85.19 L345.26 85.56 L346.17 87.38 L350.73 87.38 L351.64 81.54 L353.1 79.35 L354.38 80.63 L355.29 87.38 L363.5 87.38 L364.78 85.56 L366.24 86.1 L368.07 87.02 L369.89 86.65 L371.72 87.02 L374.45 86.47 L376.28 87.02 L378.1 86.1 L379.93 85.56 L381.75 87.02 L384.49 86.1 L385.95 85.56 L387.23 87.38 L396.35 87.38" fill="none" stroke="#000" stroke-width="0.7" stroke-linejoin="round"/>
<path d="M172.23 106.07 L172.23 106.07 L173.51 104.79 L174.79 102.97 L176.25 101.14 L177.16 100.78 L178.07 104.79 L178.99 106.07 L181.36 106.07 L182.27 104.43 L183.18 106.07 L191.76 106.07 L192.67 102.97 L193.58 101.69 L194.5 104.43 L195.41 106.07 L196.69 106.07 L197.78 103.33 L199.06 100.78 L200.34 102.06 L201.43 98.41 L202.71 92.02 L203.62 89.28 L204.72 88.37 L205.81 93.84 L206.91 106.07 L214.57 106.07 L215.48 101.14 L216.39 98.41 L217.31 102.06 L218.22 106.07 L220.41 106.07 L221.5 101.14 L222.78 100.23 L224.06 100.23 L225.52 99.68 L226.98 101.14 L227.89 106.07 L231.91 106.07 L232.82 102.06 L233.91 99.68 L234.64 102.97 L235.55 105.71 L236.83 102.06 L237.93 100.23 L238.66 103.88 L239.2 106.07 L242.85 106.07 L243.77 96.58 L244.86 92.93 L245.96 95.67 L247.05 100.23 L248.33 102.06 L249.24 96.58 L250.15 102.97 L250.7 106.07 L255.63 106.07 L256.54 99.32 L257.45 94.76 L258.36 90.19 L259.28 87.46 L260.19 95.67 L261.1 106.07 L267.12 106.07 L268.4 96.58 L269.31 88.37 L270.77 94.76 L272.05 96.58 L273.33 94.76 L274.42 93.84 L275.7 92.93 L276.61 90.19 L277.53 89.28 L278.44 95.67 L279.35 106.07 L283.03 106.07 L283.76 99.32 L284.49 97.13 L285.58 98.41 L286.86 102.97 L287.77 100.23 L288.69 99.32 L289.6 104.79 L290.51 106.07 L294.71 106.07 L295.44 101.14 L296.53 98.41 L297.63 101.14 L298.36 106.07 L302.37 106.07 L303.28 103.88 L304.56 102.97 L306.02 103.33 L307.48 102.6 L308.76 104.79 L309.31 106.07 L313.32 106.07 L314.23 104.43 L315.51 103.88 L316.97 103.88 L318.8 103.33 L320.26 103.88 L320.99 106.07 L326.09 106.07 L327.01 102.06 L328.28 101.51 L329.74 102.06 L331.57 101.51 L333.03 102.97 L333.76 106.07 L333.76 106.07Z" fill="#ff0000" stroke="none"/>
<path d="M161.7 106.07 L172.23 106.07 L173.51 104.79 L174.79 102.97 L176.25 101.14 L177.16 100.78 L178.07 104.79 L178.99 106.07 L181.36 106.07 L182.27 104.43 L183.18 106.07 L191.76 106.07 L192.67 102.97 L193.58 101.69 L194.5 104.43 L195.41 106.07 L196.69 106.07 L197.78 103.33 L199.06 100.78 L200.34 102.06 L201.43 98.41 L202.71 92.02 L203.62 89.28 L204.72 88.37 L205.81 93.84 L206.91 106.07 L214.57 106.07 L215.48 101.14 L216.39 98.41 L217.31 102.06 L218.22 106.07 L220.41 106.07 L221.5 101.14 L222.78 100.23 L224.06 100.23 L225.52 99.68 L226.98 101.14 L227.89 106.07 L231.91 106.07 L232.82 102.06 L233.91 99.68 L234.64 102.97 L235.55 105.71 L236.83 102.06 L237.93 100.23 L238.66 103.88 L239.2 106.07 L242.85 106.07 L243.77 96.58 L244.86 92.93 L245.96 95.67 L247.05 100.23 L248.33 102.06 L249.24 96.58 L250.15 102.97 L250.7 106.07 L255.63 106.07 L256.54 99.32 L257.45 94.76 L258.36 90.19 L259.28 87.46 L260.19 95.67 L261.1 106.07 L267.12 106.07 L268.4 96.58 L269.31 88.37 L270.77 94.76 L272.05 96.58 L273.33 94.76 L274.42 93.84 L275.7 92.93 L276.61 90.19 L277.53 89.28 L278.44 95.67 L279.35 106.07 L283.03 106.07 L283.76 99.32 L284.49 97.13 L285.58 98.41 L286.86 102.97 L287.77 100.23 L288.69 99.32 L289.6 104.79 L290.51 106.07 L294.71 106.07 L295.44 101.14 L296.53 98.41 L297.63 101.14 L298.36 106.07 L302.37 106.07 L303.28 103.88 L304.56 102.97 L306.02 103.33 L307.48 102.6 L308.76 104.79 L309.31 106.07 L313.32 106.07 L314.23 104.43 L315.51 103.88 L316.97 103.88 L318.8 103.33 L320.26 103.88 L320.99 106.07 L326.09 106.07 L327.01 102.06 L328.28 101.51 L329.74 102.06 L331.57 101.51 L333.03 102.97 L333.76 106.07 L340.69 105.71 L342.15 102.97 L343.43 101.14 L344.71 103.33 L345.8 102.06 L347.08 101.14 L347.99 103.88 L349.82 105.71 L351.64 105.16 L353.47 104.79 L354.93 105.71 L356.2 104.79 L357.48 102.97 L358.58 102.06 L359.85 104.43 L361.68 105.71 L366.24 105.71 L368.98 104.79 L370.8 103.88 L372.63 105.16 L374.45 105.71 L380.84 105.71 L384.49 105.16 L386.31 105.71 L396.35 106.07" fill="none" stroke="#000" stroke-width="0.7" stroke-linejoin="round"/>
<path d="M172.6 124.76 L172.6 124.76 L173.51 122.02 L174.79 121.29 L175.88 123.48 L176.61 124.76 L178.99 124.76 L179.9 123.12 L181.36 121.66 L182.64 124.76 L185.37 124.76 L186.28 119.83 L187.2 117.1 L188.11 120.75 L188.66 124.76 L196.69 124.76 L197.78 113.45 L199.06 114.36 L200.88 114.72 L202.71 114.36 L204.53 114.72 L205.81 120.75 L206.91 124.76 L208.18 124.76 L209.09 119.83 L210.01 124.76 L213.66 124.76 L214.57 116.18 L215.48 113.45 L216.76 117.1 L218.22 120.2 L219.68 118.01 L220.96 115.27 L221.87 113.99 L222.78 118.01 L223.33 124.76 L225.88 124.76 L226.61 114.36 L227.34 107.06 L228.26 116.18 L228.8 124.76 L232.45 124.76 L233.36 119.47 L234.28 120.75 L235.01 124.76 L236.1 124.76 L236.83 119.83 L237.93 118.01 L239.2 119.83 L240.48 117.1 L241.58 112.53 L242.31 111.62 L243.04 124.76 L247.78 124.76 L248.51 116.18 L249.24 113.99 L250.15 124.76 L253.8 124.76 L254.72 116.18 L255.63 111.62 L256.54 112.53 L257.45 118.01 L258.36 124.76 L259.28 124.76 L260.19 112.53 L261.1 107.97 L262.01 114.36 L262.93 110.71 L263.84 112.53 L264.75 109.8 L265.66 116.18 L266.58 124.76 L267.49 124.76 L268.4 114.36 L269.31 107.97 L270.23 113.45 L271.14 124.76 L272.05 124.76 L272.96 112.53 L274.06 108.88 L275.15 114.36 L276.25 124.76 L279.35 124.76 L280.26 120.75 L281.72 118.01 L283 118.37 L283.03 116.18 L283.76 115.27 L284.49 124.76 L292.34 124.76 L293.25 121.66 L294.16 119.83 L295.07 121.66 L296.53 124.76 L301.46 124.76 L302.37 122.57 L304.2 121.66 L306.02 121.29 L307.85 121.66 L309.67 122.57 L310.58 124.76 L315.51 124.76 L316.61 120.75 L317.88 119.47 L318.8 121.66 L319.71 122.57 L321.53 119.83 L322.81 117.1 L323.91 120.75 L324.64 124.76 L328.83 124.76 L329.38 123.12 L330.11 124.76 L333.03 124.76 L333.76 118.01 L334.85 115.27 L336.13 118.01 L337.04 122.57 L338.5 120.75 L339.78 119.83 L341.06 121.66 L342.52 123.48 L343.43 124.76 L350.73 124.76 L351.64 117.1 L353.1 113.99 L354.38 116.18 L355.29 124.76 L356.75 124.76 L357.48 121.66 L358.21 124.76 L358.21 124.76Z" fill="#ff0000" stroke="none"/>
<path d="M161.7 124.76 L172.6 124.76 L173.51 122.02 L174.79 121.29 L175.88 123.48 L176.61 124.76 L178.99 124.76 L179.9 123.12 L181.36 121.66 L182.64 124.76 L185.37 124.76 L186.28 119.83 L187.2 117.1 L188.11 120.75 L188.66 124.76 L196.69 124.76 L197.78 113.45 L199.06 114.36 L200.88 114.72 L202.71 114.36 L204.53 114.72 L205.81 120.75 L206.91 124.76 L208.18 124.76 L209.09 119.83 L210.01 124.76 L213.66 124.76 L214.57 116.18 L215.48 113.45 L216.76 117.1 L218.22 120.2 L219.68 118.01 L220.96 115.27 L221.87 113.99 L222.78 118.01 L223.33 124.76 L225.88 124.76 L226.61 114.36 L227.34 107.06 L228.26 116.18 L228.8 124.76 L232.45 124.76 L233.36 119.47 L234.28 120.75 L235.01 124.76 L236.1 124.76 L236.83 119.83 L237.93 118.01 L239.2 119.83 L240.48 117.1 L241.58 112.53 L242.31 111.62 L243.04 124.76 L247.78 124.76 L248.51 116.18 L249.24 113.99 L250.15 124.76 L253.8 124.76 L254.72 116.18 L255.63 111.62 L256.54 112.53 L257.45 118.01 L258.36 124.76 L259.28 124.76 L260.19 112.53 L261.1 107.97 L262.01 114.36 L262.93 110.71 L263.84 112.53 L264.75 109.8 L265.66 116.18 L266.58 124.76 L267.49 124.76 L268.4 114.36 L269.31 107.97 L270.23 113.45 L271.14 124.76 L272.05 124.76 L272.96 112.53 L274.06 108.88 L275.15 114.36 L276.25 124.76 L279.35 124.76 L280.26 120.75 L281.72 118.01 L283 118.37 L283.03 116.18 L283.76 115.27 L284.49 124.76 L292.34 124.76 L293.25 121.66 L294.16 119.83 L295.07 121.66 L296.53 124.76 L301.46 124.76 L302.37 122.57 L304.2 121.66 L306.02 121.29 L307.85 121.66 L309.67 122.57 L310.58 124.76 L315.51 124.76 L316.61 120.75 L317.88 119.47 L318.8 121.66 L319.71 122.57 L321.53 119.83 L322.81 117.1 L323.91 120.75 L324.64 124.76 L328.83 124.76 L329.38 123.12 L330.11 124.76 L333.03 124.76 L333.76 118.01 L334.85 115.27 L336.13 118.01 L337.04 122.57 L338.5 120.75 L339.78 119.83 L341.06 121.66 L342.52 123.48 L343.43 124.76 L350.73 124.76 L351.64 117.1 L353.1 113.99 L354.38 116.18 L355.29 124.76 L356.75 124.76 L357.48 121.66 L358.21 124.76 L360.77 124.4 L364.42 124.94 L369.89 124.94 L375.36 124.4 L377.19 123.48 L378.65 122.02 L379.93 123.12 L381.75 124.76 L396.35 124.76" fill="none" stroke="#000" stroke-width="0.7" stroke-linejoin="round"/>
<path d="M172.6 143.45 L172.6 143.45 L173.51 141.44 L174.79 142.17 L175.88 143.45 L178.99 143.45 L179.9 139.07 L180.81 136.33 L181.72 129.03 L182.64 134.51 L183.55 136.7 L185.01 136.33 L186.28 139.07 L187.2 139.98 L188.11 143.45 L189.39 143.45 L190.48 137.79 L191.76 135.42 L193.04 136.7 L194.5 137.25 L195.96 137.79 L196.69 143.45 L202.16 143.45 L203.26 134.51 L203.99 125.38 L205.08 127.21 L206.36 129.95 L207.64 131.77 L208.73 136.33 L210.01 139.07 L211.28 136.33 L212.38 132.68 L213.66 134.51 L214.93 141.81 L215.48 143.45 L220.41 143.45 L221.5 139.62 L222.78 138.16 L224.06 139.98 L225.52 139.07 L226.98 138.52 L228.26 140.9 L229.17 143.45 L234.64 143.45 L236.1 140.9 L237.38 139.98 L238.66 143.45 L243.77 143.45 L244.68 139.98 L245.59 137.79 L247.05 140.9 L248.33 141.81 L249.61 139.98 L251.07 141.81 L251.98 143.45 L255.63 143.45 L256.54 141.44 L257.64 140.35 L258.73 143.45 L262.38 143.45 L263.47 139.98 L265.66 136.7 L267.49 132.68 L268.95 127.21 L270.23 134.51 L271.5 140.35 L272.6 143.45 L273.33 142.72 L274.79 141.81 L276.25 143.45 L280.26 143.45 L281.18 141.81 L282.09 140.9 L283 142.72 L283.03 143.45 L283.21 140.9 L284.12 138.16 L285.04 137.25 L286.31 138.52 L287.41 143.45 L291.42 143.45 L292.34 140.9 L293.25 143.45 L296.53 143.45 L297.26 139.98 L298.36 137.25 L299.64 138.16 L300.91 141.81 L301.46 143.45 L306.93 143.45 L307.85 141.81 L308.76 143.45 L308.76 143.45Z" fill="#ff0000" stroke="none"/>
<path d="M161.7 143.45 L172.6 143.45 L173.51 141.44 L174.79 142.17 L175.88 143.45 L178.99 143.45 L179.9 139.07 L180.81 136.33 L181.72 129.03 L182.64 134.51 L183.55 136.7 L185.01 136.33 L186.28 139.07 L187.2 139.98 L188.11 143.45 L189.39 143.45 L190.48 137.79 L191.76 135.42 L193.04 136.7 L194.5 137.25 L195.96 137.79 L196.69 143.45 L202.16 143.45 L203.26 134.51 L203.99 125.38 L205.08 127.21 L206.36 129.95 L207.64 131.77 L208.73 136.33 L210.01 139.07 L211.28 136.33 L212.38 132.68 L213.66 134.51 L214.93 141.81 L215.48 143.45 L220.41 143.45 L221.5 139.62 L222.78 138.16 L224.06 139.98 L225.52 139.07 L226.98 138.52 L228.26 140.9 L229.17 143.45 L234.64 143.45 L236.1 140.9 L237.38 139.98 L238.66 143.45 L243.77 143.45 L244.68 139.98 L245.59 137.79 L247.05 140.9 L248.33 141.81 L249.61 139.98 L251.07 141.81 L251.98 143.45 L255.63 143.45 L256.54 141.44 L257.64 140.35 L258.73 143.45 L262.38 143.45 L263.47 139.98 L265.66 136.7 L267.49 132.68 L268.95 127.21 L270.23 134.51 L271.5 140.35 L272.6 143.45 L273.33 142.72 L274.79 141.81 L276.25 143.45 L280.26 143.45 L281.18 141.81 L282.09 140.9 L283 142.72 L283.03 143.45 L283.21 140.9 L284.12 138.16 L285.04 137.25 L286.31 138.52 L287.41 143.45 L291.42 143.45 L292.34 140.9 L293.25 143.45 L296.53 143.45 L297.26 139.98 L298.36 137.25 L299.64 138.16 L300.91 141.81 L301.46 143.45 L306.93 143.45 L307.85 141.81 L308.76 143.45 L332.48 143.45 L333.76 141.44 L335.22 139.98 L336.68 141.81 L337.96 143.45 L360.77 143.45 L362.23 141.81 L363.5 140.35 L364.78 141.81 L366.24 143.45 L396.35 143.45" fill="none" stroke="#000" stroke-width="0.7" stroke-linejoin="round"/>
<path d="M171.14 162.14 L171.14 162.14 L172.23 153.56 L173.51 152.65 L174.79 154.48 L175.88 159.04 L177.16 162.14 L182.64 162.14 L183.55 156.3 L184.64 154.11 L185.74 157.21 L187.2 159.95 L188.66 162.14 L194.13 162.14 L195.41 157.21 L196.69 153.56 L198.15 151.74 L199.61 154.84 L200.88 156.3 L202.71 150.83 L204.53 148.09 L205.81 149.91 L207.27 154.84 L208.73 158.13 L210.01 160.32 L210.92 162.14 L214.93 162.14 L216.03 150.83 L217.31 152.65 L218.58 154.48 L220.04 156.3 L221.87 157.21 L223.33 159.04 L224.61 154.84 L225.88 153.56 L227.34 155.39 L228.8 159.04 L230.08 162.14 L233.73 162.14 L234.64 158.13 L236.1 159.04 L237.38 159.95 L238.66 158.49 L240.12 160.86 L241.03 162.14 L244.13 162.14 L245.23 159.04 L247.05 157.76 L248.33 159.04 L249.61 154.84 L250.7 154.11 L251.98 162.14 L256.54 162.14 L257.45 155.39 L258.73 154.11 L260.19 157.21 L261.1 154.48 L262.01 155.39 L262.93 162.14 L266.58 162.14 L267.49 158.13 L268.4 156.3 L269.31 160.86 L270.77 157.21 L272.05 149 L272.96 145.35 L273.88 150.83 L274.79 154.48 L276.25 152.65 L277.53 155.39 L278.8 162.14 L283 162.14 L283.03 162.14 L283.76 159.95 L285.04 160.86 L286.31 157.76 L287.77 155.94 L288.69 154.48 L289.6 159.04 L291.06 162.14 L298.72 162.14 L300.18 157.21 L301.46 155.39 L302.74 156.3 L304.2 158.13 L305.66 159.95 L306.39 162.14 L309.67 162.14 L310.58 161.41 L311.5 162.14 L314.78 162.14 L316.06 157.21 L317.34 157.21 L318.43 162.14 L325.73 162.14 L327.01 159.95 L328.28 157.21 L329.38 159.04 L330.66 158.13 L331.93 156.67 L333.03 158.13 L333.76 162.14 L337.41 162.14 L338.5 155.39 L340.33 153.56 L342.15 150.83 L342.88 149.37 L343.98 156.3 L344.34 162.14 L348.91 162.14 L349.82 157.76 L351.28 155.94 L352.55 149 L353.83 144.44 L354.93 148.09 L355.66 156.3 L356.75 162.14 L362.23 162.14 L362.96 156.3 L364.42 149.91 L365.88 149.37 L367.15 152.65 L368.43 162.14 L373.54 162.14 L374.45 157.76 L375.73 156.3 L377.19 155.39 L379.01 155.39 L379.93 158.13 L380.47 162.14 L380.47 162.14Z" fill="#ff0000" stroke="none"/>
<path d="M161.7 162.14 L171.14 162.14 L172.23 153.56 L173.51 152.65 L174.79 154.48 L175.88 159.04 L177.16 162.14 L182.64 162.14 L183.55 156.3 L184.64 154.11 L185.74 157.21 L187.2 159.95 L188.66 162.14 L194.13 162.14 L195.41 157.21 L196.69 153.56 L198.15 151.74 L199.61 154.84 L200.88 156.3 L202.71 150.83 L204.53 148.09 L205.81 149.91 L207.27 154.84 L208.73 158.13 L210.01 160.32 L210.92 162.14 L214.93 162.14 L216.03 150.83 L217.31 152.65 L218.58 154.48 L220.04 156.3 L221.87 157.21 L223.33 159.04 L224.61 154.84 L225.88 153.56 L227.34 155.39 L228.8 159.04 L230.08 162.14 L233.73 162.14 L234.64 158.13 L236.1 159.04 L237.38 159.95 L238.66 158.49 L240.12 160.86 L241.03 162.14 L244.13 162.14 L245.23 159.04 L247.05 157.76 L248.33 159.04 L249.61 154.84 L250.7 154.11 L251.98 162.14 L256.54 162.14 L257.45 155.39 L258.73 154.11 L260.19 157.21 L261.1 154.48 L262.01 155.39 L262.93 162.14 L266.58 162.14 L267.49 158.13 L268.4 156.3 L269.31 160.86 L270.77 157.21 L272.05 149 L272.96 145.35 L273.88 150.83 L274.79 154.48 L276.25 152.65 L277.53 155.39 L278.8 162.14 L283 162.14 L283.03 162.14 L283.76 159.95 L285.04 160.86 L286.31 157.76 L287.77 155.94 L288.69 154.48 L289.6 159.04 L291.06 162.14 L298.72 162.14 L300.18 157.21 L301.46 155.39 L302.74 156.3 L304.2 158.13 L305.66 159.95 L306.39 162.14 L309.67 162.14 L310.58 161.41 L311.5 162.14 L314.78 162.14 L316.06 157.21 L317.34 157.21 L318.43 162.14 L325.73 162.14 L327.01 159.95 L328.28 157.21 L329.38 159.04 L330.66 158.13 L331.93 156.67 L333.03 158.13 L333.76 162.14 L337.41 162.14 L338.5 155.39 L340.33 153.56 L342.15 150.83 L342.88 149.37 L343.98 156.3 L344.34 162.14 L348.91 162.14 L349.82 157.76 L351.28 155.94 L352.55 149 L353.83 144.44 L354.93 148.09 L355.66 156.3 L356.75 162.14 L362.23 162.14 L362.96 156.3 L364.42 149.91 L365.88 149.37 L367.15 152.65 L368.43 162.14 L373.54 162.14 L374.45 157.76 L375.73 156.3 L377.19 155.39 L379.01 155.39 L379.93 158.13 L380.47 162.14 L385.4 161.78 L386.68 160.32 L388.14 161.41 L390.33 160.86 L391.79 160.32 L393.61 161.41 L396.35 162.14" fill="none" stroke="#000" stroke-width="0.7" stroke-linejoin="round"/>
<path d="M171.69 180.83 L171.69 180.83 L172.6 175.36 L174.06 174.81 L175.34 176.27 L176.61 175.9 L178.07 177.18 L179.53 180.83 L185.74 180.83 L186.83 179.92 L188.11 179.55 L189.39 180.83 L194.5 180.83 L196.32 180.28 L198.15 180.83 L200.88 180.83 L201.8 172.62 L202.71 171.71 L203.62 175.36 L204.53 173.53 L205.81 171.71 L207.27 172.25 L208.73 176.27 L210.01 180.83 L221.87 180.83 L222.78 176.27 L224.06 172.98 L225.88 173.53 L227.34 177.18 L228.26 180.83 L232.82 180.83 L234.28 178.46 L235.55 178.09 L236.83 180.83 L242.31 180.83 L243.77 179.55 L245.23 180.83 L260.19 180.83 L261.65 177.18 L263.47 172.98 L264.75 169.33 L265.66 168.97 L266.58 180.83 L272.05 180.83 L272.96 170.79 L274.42 164.41 L275.7 162.58 L276.98 167.14 L278.07 170.79 L279.35 175.36 L280.26 180.83 L283 180.83 L283.03 180.83 L286.86 180.83 L287.77 170.79 L288.69 164.41 L289.6 174.44 L290.51 179.01 L291.79 180.83 L293.25 179.92 L294.16 178.09 L295.07 180.83 L307.85 180.83 L308.76 177.18 L309.67 174.81 L310.77 176.27 L311.5 180.83 L314.78 180.83 L315.51 179.01 L316.61 180.83 L320.26 180.83 L320.99 177.18 L322.08 174.81 L323.36 177.18 L324.64 179.55 L326.09 180.83 L326.09 180.83Z" fill="#ff0000" stroke="none"/>
<path d="M161.7 180.83 L171.69 180.83 L172.6 175.36 L174.06 174.81 L175.34 176.27 L176.61 175.9 L178.07 177.18 L179.53 180.83 L185.74 180.83 L186.83 179.92 L188.11 179.55 L189.39 180.83 L194.5 180.83 L196.32 180.28 L198.15 180.83 L200.88 180.83 L201.8 172.62 L202.71 171.71 L203.62 175.36 L204.53 173.53 L205.81 171.71 L207.27 172.25 L208.73 176.27 L210.01 180.83 L221.87 180.83 L222.78 176.27 L224.06 172.98 L225.88 173.53 L227.34 177.18 L228.26 180.83 L232.82 180.83 L234.28 178.46 L235.55 178.09 L236.83 180.83 L242.31 180.83 L243.77 179.55 L245.23 180.83 L260.19 180.83 L261.65 177.18 L263.47 172.98 L264.75 169.33 L265.66 168.97 L266.58 180.83 L272.05 180.83 L272.96 170.79 L274.42 164.41 L275.7 162.58 L276.98 167.14 L278.07 170.79 L279.35 175.36 L280.26 180.83 L283 180.83 L283.03 180.83 L286.86 180.83 L287.77 170.79 L288.69 164.41 L289.6 174.44 L290.51 179.01 L291.79 180.83 L293.25 179.92 L294.16 178.09 L295.07 180.83 L307.85 180.83 L308.76 177.18 L309.67 174.81 L310.77 176.27 L311.5 180.83 L314.78 180.83 L315.51 179.01 L316.61 180.83 L320.26 180.83 L320.99 177.18 L322.08 174.81 L323.36 177.18 L324.64 179.55 L326.09 180.83 L337.04 180.83 L340.69 180.28 L344.34 180.28 L347.99 180.83 L384.49 180.83 L388.14 180.28 L390.88 179.92 L392.7 180.28 L396.35 180.83" fill="none" stroke="#000" stroke-width="0.7" stroke-linejoin="round"/>
<path d="M171.14 199.52 L171.14 199.52 L172.23 188.57 L173.51 190.03 L174.79 190.4 L176.25 193.13 L177.71 195.87 L178.99 198.61 L179.9 196.78 L180.81 195.51 L181.72 199.52 L190.85 199.52 L191.76 194.05 L193.04 194.96 L194.13 192.59 L195.41 191.31 L196.32 193.13 L197.78 198.61 L198.51 199.52 L199.61 199.52 L200.88 197.33 L202.16 196.24 L203.62 195.51 L205.08 194.05 L206.36 192.22 L207.27 190.76 L208.18 198.61 L208.73 199.52 L213.11 199.52 L214.2 192.59 L214.93 191.86 L216.03 198.61 L216.76 199.52 L220.96 199.52 L221.87 197.7 L223.33 196.78 L224.61 195.51 L225.88 194.41 L226.98 192.59 L228.26 193.68 L229.53 192.22 L230.99 189.48 L232.45 186.75 L233.18 186.38 L234.28 184.01 L235.55 186.75 L236.83 188.57 L237.93 184.01 L238.66 183.46 L239.2 192.22 L239.75 199.52 L245.59 199.52 L246.5 194.96 L247.78 194.41 L249.24 195.87 L250.7 196.78 L251.98 196.78 L253.8 197.7 L255.63 198.61 L257.45 199.16 L258.36 199.52 L269.68 199.52 L270.77 192.22 L271.5 190.4 L272.6 193.13 L273.88 195.87 L275.15 194.96 L276.61 195.51 L278.07 194.41 L278.8 192.59 L279.9 188.57 L281.18 184.92 L282.09 188.57 L283 189.48 L283.03 184.92 L284.12 181.27 L285.04 183.1 L285.95 192.22 L286.86 199.52 L291.06 199.52 L291.79 194.96 L292.7 193.13 L293.61 194.96 L294.71 199.52 L312.41 199.52 L313.32 195.87 L314.78 193.13 L316.06 194.96 L317.34 199.52 L317.34 199.52Z" fill="#ff0000" stroke="none"/>
<path d="M161.7 199.52 L171.14 199.52 L172.23 188.57 L173.51 190.03 L174.79 190.4 L176.25 193.13 L177.71 195.87 L178.99 198.61 L179.9 196.78 L180.81 195.51 L181.72 199.52 L190.85 199.52 L191.76 194.05 L193.04 194.96 L194.13 192.59 L195.41 191.31 L196.32 193.13 L197.78 198.61 L198.51 199.52 L199.61 199.52 L200.88 197.33 L202.16 196.24 L203.62 195.51 L205.08 194.05 L206.36 192.22 L207.27 190.76 L208.18 198.61 L208.73 199.52 L213.11 199.52 L214.2 192.59 L214.93 191.86 L216.03 198.61 L216.76 199.52 L220.96 199.52 L221.87 197.7 L223.33 196.78 L224.61 195.51 L225.88 194.41 L226.98 192.59 L228.26 193.68 L229.53 192.22 L230.99 189.48 L232.45 186.75 L233.18 186.38 L234.28 184.01 L235.55 186.75 L236.83 188.57 L237.93 184.01 L238.66 183.46 L239.2 192.22 L239.75 199.52 L245.59 199.52 L246.5 194.96 L247.78 194.41 L249.24 195.87 L250.7 196.78 L251.98 196.78 L253.8 197.7 L255.63 198.61 L257.45 199.16 L258.36 199.52 L269.68 199.52 L270.77 192.22 L271.5 190.4 L272.6 193.13 L273.88 195.87 L275.15 194.96 L276.61 195.51 L278.07 194.41 L278.8 192.59 L279.9 188.57 L281.18 184.92 L282.09 188.57 L283 189.48 L283.03 184.92 L284.12 181.27 L285.04 183.1 L285.95 192.22 L286.86 199.52 L291.06 199.52 L291.79 194.96 L292.7 193.13 L293.61 194.96 L294.71 199.52 L312.41 199.52 L313.32 195.87 L314.78 193.13 L316.06 194.96 L317.34 199.52 L321.53 199.52 L322.81 198.61 L325.18 198.06 L327.01 198.61 L328.83 199.52 L356.2 199.52 L357.48 196.78 L359.31 194.41 L361.13 194.96 L362.96 196.78 L364.78 199.52 L371.35 199.52 L372.63 197.33 L374.45 196.24 L376.28 196.78 L377.55 199.52 L389.96 199.52 L392.7 198.06 L394.53 196.78 L396.35 196.24" fill="none" stroke="#000" stroke-width="0.7" stroke-linejoin="round"/>
<path d="M171.14 218.21 L171.14 218.21 L172.23 216.02 L172.96 218.21 L178.99 218.21 L179.9 213.47 L180.81 211.64 L181.72 212.92 L183.18 216.57 L184.46 217.48 L185.37 215.66 L186.83 214.74 L188.11 214.2 L189.39 215.66 L190.85 216.57 L192.31 218.21 L200.34 218.21 L201.43 216.02 L202.71 214.74 L203.99 215.66 L205.08 214.74 L206.36 212.01 L207.64 210.18 L209.09 207.99 L210.55 206.53 L211.83 203.79 L213.11 202.52 L214.2 207.44 L214.93 215.66 L215.48 218.21 L219.68 218.21 L220.41 213.47 L221.5 212.37 L222.23 218.21 L226.98 218.21 L227.71 212.92 L228.8 210.55 L230.08 211.64 L231.36 210.18 L232.82 208.36 L233.73 210.18 L234.64 212.92 L236.1 213.83 L237.38 214.74 L238.29 213.83 L239.75 214.74 L241.03 214.2 L242.31 215.29 L243.77 214.74 L245.23 213.83 L245.96 218.21 L251.43 218.21 L251.98 206.53 L252.89 204.71 L253.8 207.44 L254.72 210.55 L256.18 210.18 L257.45 212.92 L258.36 218.21 L262.93 218.21 L263.84 214.74 L264.75 213.83 L265.66 218.21 L268.4 218.21 L269.31 213.83 L270.41 212.01 L271.5 213.83 L272.05 218.21 L274.79 218.21 L275.7 213.47 L276.98 212.37 L278.07 215.66 L278.8 218.21 L283 218.21 L283.03 218.21 L285.04 218.21 L285.95 214.74 L287.41 211.09 L288.69 206.53 L289.96 200.14 L291.06 201.97 L291.79 207.44 L292.88 214.74 L293.61 218.21 L295.44 218.21 L296.53 210.18 L297.81 205.62 L299.09 207.44 L300.18 214.74 L300.91 218.21 L300.91 218.21Z" fill="#ff0000" stroke="none"/>
<path d="M161.7 218.21 L171.14 218.21 L172.23 216.02 L172.96 218.21 L178.99 218.21 L179.9 213.47 L180.81 211.64 L181.72 212.92 L183.18 216.57 L184.46 217.48 L185.37 215.66 L186.83 214.74 L188.11 214.2 L189.39 215.66 L190.85 216.57 L192.31 218.21 L200.34 218.21 L201.43 216.02 L202.71 214.74 L203.99 215.66 L205.08 214.74 L206.36 212.01 L207.64 210.18 L209.09 207.99 L210.55 206.53 L211.83 203.79 L213.11 202.52 L214.2 207.44 L214.93 215.66 L215.48 218.21 L219.68 218.21 L220.41 213.47 L221.5 212.37 L222.23 218.21 L226.98 218.21 L227.71 212.92 L228.8 210.55 L230.08 211.64 L231.36 210.18 L232.82 208.36 L233.73 210.18 L234.64 212.92 L236.1 213.83 L237.38 214.74 L238.29 213.83 L239.75 214.74 L241.03 214.2 L242.31 215.29 L243.77 214.74 L245.23 213.83 L245.96 218.21 L251.43 218.21 L251.98 206.53 L252.89 204.71 L253.8 207.44 L254.72 210.55 L256.18 210.18 L257.45 212.92 L258.36 218.21 L262.93 218.21 L263.84 214.74 L264.75 213.83 L265.66 218.21 L268.4 218.21 L269.31 213.83 L270.41 212.01 L271.5 213.83 L272.05 218.21 L274.79 218.21 L275.7 213.47 L276.98 212.37 L278.07 215.66 L278.8 218.21 L283 218.21 L283.03 218.21 L285.04 218.21 L285.95 214.74 L287.41 211.09 L288.69 206.53 L289.96 200.14 L291.06 201.97 L291.79 207.44 L292.88 214.74 L293.61 218.21 L295.44 218.21 L296.53 210.18 L297.81 205.62 L299.09 207.44 L300.18 214.74 L300.91 218.21 L304.2 217.48 L305.11 216.57 L306.02 218.21 L337.04 218.21 L338.87 216.57 L340.33 214.74 L342.15 217.48 L343.98 216.57 L346.17 214.74 L347.63 216.57 L349.45 218.21 L356.2 218.21 L358.03 216.57 L359.31 218.21 L364.42 218.21 L365.88 216.57 L367.15 218.21 L378.1 218.21 L379.93 217.12 L381.75 218.21 L396.35 218.21" fill="none" stroke="#000" stroke-width="0.7" stroke-linejoin="round"/>
<path d="M171.14 236.9 L171.14 236.9 L172.23 228.87 L173.51 230.7 L174.79 233.98 L176.25 234.89 L177.71 233.98 L178.99 232.16 L179.9 233.07 L180.81 236.9 L185.01 236.9 L185.74 230.33 L186.83 228.51 L188.11 233.07 L189.02 236.9 L195.96 236.9 L196.69 234.89 L198.15 233.62 L199.97 232.16 L201.43 226.32 L202.71 222.12 L203.62 223.03 L204.53 228.51 L205.81 231.24 L206.91 228.87 L208.18 224.86 L209.46 221.21 L210.55 222.12 L211.28 229.42 L212.01 236.9 L214.2 236.9 L214.93 233.98 L216.03 233.07 L216.76 236.9 L218.22 236.9 L219.13 233.07 L220.41 227.59 L221.5 224.86 L222.23 228.51 L223.33 231.24 L224.61 228.14 L225.88 225.77 L226.98 228.14 L227.71 236.9 L232.45 236.9 L233.18 233.98 L234.28 229.42 L235.55 226.68 L236.83 227.59 L237.93 233.07 L238.66 236.9 L239.75 236.9 L240.48 234.89 L241.03 236.9 L245.23 236.9 L245.96 229.42 L246.69 220.29 L247.42 225.77 L248.33 233.07 L249.61 236.9 L255.63 236.9 L256.54 233.98 L258 231.24 L259.28 228.87 L260.55 231.24 L262.01 233.62 L263.47 234.89 L264.75 235.44 L265.66 236.9 L267.12 236.9 L268.4 231.24 L269.31 228.87 L270.23 233.98 L271.14 230.33 L272.6 225.77 L273.88 222.67 L274.79 226.68 L276.25 230.33 L277.53 225.77 L278.44 223.03 L279.35 221.57 L280.26 224.86 L281.18 230.33 L282.09 227.59 L283 225.77 L283.03 233.98 L283.76 233.98 L285.04 228.87 L286.31 233.98 L287.41 236.9 L289.6 236.9 L290.51 231.24 L291.42 226.68 L292.34 233.98 L292.88 236.9 L296.53 236.9 L297.26 225.77 L298.18 224.86 L299.09 236.9 L302.37 236.9 L303.28 235.81 L304.56 236.17 L306.02 234.89 L307.48 232.52 L308.39 231.79 L309.67 236.9 L309.67 236.9Z" fill="#ff0000" stroke="none"/>
<path d="M161.7 236.9 L171.14 236.9 L172.23 228.87 L173.51 230.7 L174.79 233.98 L176.25 234.89 L177.71 233.98 L178.99 232.16 L179.9 233.07 L180.81 236.9 L185.01 236.9 L185.74 230.33 L186.83 228.51 L188.11 233.07 L189.02 236.9 L195.96 236.9 L196.69 234.89 L198.15 233.62 L199.97 232.16 L201.43 226.32 L202.71 222.12 L203.62 223.03 L204.53 228.51 L205.81 231.24 L206.91 228.87 L208.18 224.86 L209.46 221.21 L210.55 222.12 L211.28 229.42 L212.01 236.9 L214.2 236.9 L214.93 233.98 L216.03 233.07 L216.76 236.9 L218.22 236.9 L219.13 233.07 L220.41 227.59 L221.5 224.86 L222.23 228.51 L223.33 231.24 L224.61 228.14 L225.88 225.77 L226.98 228.14 L227.71 236.9 L232.45 236.9 L233.18 233.98 L234.28 229.42 L235.55 226.68 L236.83 227.59 L237.93 233.07 L238.66 236.9 L239.75 236.9 L240.48 234.89 L241.03 236.9 L245.23 236.9 L245.96 229.42 L246.69 220.29 L247.42 225.77 L248.33 233.07 L249.61 236.9 L255.63 236.9 L256.54 233.98 L258 231.24 L259.28 228.87 L260.55 231.24 L262.01 233.62 L263.47 234.89 L264.75 235.44 L265.66 236.9 L267.12 236.9 L268.4 231.24 L269.31 228.87 L270.23 233.98 L271.14 230.33 L272.6 225.77 L273.88 222.67 L274.79 226.68 L276.25 230.33 L277.53 225.77 L278.44 223.03 L279.35 221.57 L280.26 224.86 L281.18 230.33 L282.09 227.59 L283 225.77 L283.03 233.98 L283.76 233.98 L285.04 228.87 L286.31 233.98 L287.41 236.9 L289.6 236.9 L290.51 231.24 L291.42 226.68 L292.34 233.98 L292.88 236.9 L296.53 236.9 L297.26 225.77 L298.18 224.86 L299.09 236.9 L302.37 236.9 L303.28 235.81 L304.56 236.17 L306.02 234.89 L307.48 232.52 L308.39 231.79 L309.67 236.9 L313.32 236.9 L314.78 235.81 L316.06 236.72 L318.8 236.17 L322.45 236.9 L329.74 236.9 L331.57 234.35 L333.03 233.98 L334.31 235.81 L336.13 233.98 L337.04 233.62 L338.5 235.81 L339.78 234.35 L341.06 233.07 L342.52 235.81 L343.98 236.9 L346.17 235.81 L347.63 236.9 L351.64 236.17 L355.29 236.54 L358.94 236.9 L362.59 236.72 L366.24 235.81 L368.07 234.35 L369.89 234.89 L371.72 236.9 L378.1 236.9 L379.93 234.35 L381.75 235.44 L384.12 236.9 L396.35 236.9" fill="none" stroke="#000" stroke-width="0.7" stroke-linejoin="round"/>
<path d="M172.23 255.59 L172.23 255.59 L173.51 252.12 L174.79 249.39 L176.25 248.47 L177.34 250.3 L178.07 255.59 L181.36 255.59 L182.64 253.95 L183.91 254.86 L185.37 253.95 L186.83 254.5 L188.11 255.59 L200.34 255.59 L201.07 251.21 L201.8 245.74 L202.71 247.01 L203.99 247.56 L205.08 244.82 L206.36 242.09 L207.64 245.74 L209.09 247.56 L210.55 248.11 L211.28 255.59 L214.2 255.59 L215.48 253.04 L216.76 251.21 L217.85 253.58 L218.58 255.59 L221.87 255.59 L223.33 252.12 L224.61 249.39 L225.88 247.01 L227.34 245.74 L228.26 247.56 L229.17 255.59 L233.18 255.59 L234.28 251.21 L235.55 250.3 L236.83 252.49 L238.29 254.86 L239.2 255.59 L243.4 255.59 L244.68 251.21 L245.59 249.39 L246.5 253.04 L247.42 255.59 L248.88 255.59 L250.15 248.47 L251.43 243.91 L252.53 247.56 L253.26 255.59 L254.35 255.59 L255.63 249.39 L256.54 248.11 L257.45 252.12 L258 255.59 L262.38 255.59 L263.47 249.39 L264.75 247.01 L266.03 249.39 L267.12 252.12 L268.4 253.04 L269.68 254.31 L270.77 255.59 L273.33 255.59 L274.42 243.91 L275.7 239.35 L276.98 241.17 L278.44 243.91 L279.9 245.74 L281.18 247.56 L283 248.47 L283.03 248.47 L284.12 250.3 L285.04 255.59 L286.31 255.59 L287.04 244.82 L287.77 237.52 L288.5 248.47 L289.23 255.59 L292.34 255.59 L293.25 253.04 L294.16 252.12 L295.44 254.86 L296.53 253.95 L297.81 253.04 L299.64 253.04 L300.91 255.59 L305.11 255.59 L306.02 253.58 L306.93 253.04 L308.21 255.59 L310.58 255.59 L311.5 254.31 L312.96 255.59 L316.06 255.59 L316.97 252.49 L318.07 251.21 L318.8 255.59 L320.99 255.59 L322.08 251.21 L323.18 249.93 L324.27 255.59 L324.27 255.59Z" fill="#ff0000" stroke="none"/>
<path d="M161.7 255.59 L172.23 255.59 L173.51 252.12 L174.79 249.39 L176.25 248.47 L177.34 250.3 L178.07 255.59 L181.36 255.59 L182.64 253.95 L183.91 254.86 L185.37 253.95 L186.83 254.5 L188.11 255.59 L200.34 255.59 L201.07 251.21 L201.8 245.74 L202.71 247.01 L203.99 247.56 L205.08 244.82 L206.36 242.09 L207.64 245.74 L209.09 247.56 L210.55 248.11 L211.28 255.59 L214.2 255.59 L215.48 253.04 L216.76 251.21 L217.85 253.58 L218.58 255.59 L221.87 255.59 L223.33 252.12 L224.61 249.39 L225.88 247.01 L227.34 245.74 L228.26 247.56 L229.17 255.59 L233.18 255.59 L234.28 251.21 L235.55 250.3 L236.83 252.49 L238.29 254.86 L239.2 255.59 L243.4 255.59 L244.68 251.21 L245.59 249.39 L246.5 253.04 L247.42 255.59 L248.88 255.59 L250.15 248.47 L251.43 243.91 L252.53 247.56 L253.26 255.59 L254.35 255.59 L255.63 249.39 L256.54 248.11 L257.45 252.12 L258 255.59 L262.38 255.59 L263.47 249.39 L264.75 247.01 L266.03 249.39 L267.12 252.12 L268.4 253.04 L269.68 254.31 L270.77 255.59 L273.33 255.59 L274.42 243.91 L275.7 239.35 L276.98 241.17 L278.44 243.91 L279.9 245.74 L281.18 247.56 L283 248.47 L283.03 248.47 L284.12 250.3 L285.04 255.59 L286.31 255.59 L287.04 244.82 L287.77 237.52 L288.5 248.47 L289.23 255.59 L292.34 255.59 L293.25 253.04 L294.16 252.12 L295.44 254.86 L296.53 253.95 L297.81 253.04 L299.64 253.04 L300.91 255.59 L305.11 255.59 L306.02 253.58 L306.93 253.04 L308.21 255.59 L310.58 255.59 L311.5 254.31 L312.96 255.59 L316.06 255.59 L316.97 252.49 L318.07 251.21 L318.8 255.59 L320.99 255.59 L322.08 251.21 L323.18 249.93 L324.27 255.59 L327.01 255.41 L328.28 253.04 L329.74 255.41 L333.03 255.41 L334.85 253.04 L336.13 253.95 L337.96 255.41 L339.23 253.04 L340.69 252.12 L342.15 255.41 L344.71 255.41 L346.17 251.21 L347.63 253.04 L348.91 255.41 L352.55 254.86 L354.38 252.49 L356.2 252.12 L358.03 255.41 L377.19 255.41 L380.84 254.86 L386.31 255.41 L396.35 255.59" fill="none" stroke="#000" stroke-width="0.7" stroke-linejoin="round"/>
<path d="M171.14 274.28 L171.14 274.28 L171.87 269.17 L172.6 272.46 L174.06 271.54 L175.34 270.63 L177.16 272.09 L178.99 272.82 L180.26 273.37 L180.81 274.28 L185.01 274.28 L185.74 269.72 L186.83 268.44 L187.56 272.46 L189.02 273.37 L190.48 274.28 L196.69 274.28 L197.78 267.89 L199.06 266.98 L200.34 268.81 L201.8 267.35 L202.71 270.63 L203.99 268.81 L205.08 264.24 L206.36 262.42 L207.64 263.7 L209.09 266.07 L210.55 268.81 L211.28 274.28 L217.31 274.28 L218.22 267.89 L219.68 266.98 L220.96 269.17 L222.23 270.63 L223.33 268.81 L224.06 274.28 L227.34 274.28 L228.26 266.07 L229.17 259.68 L230.08 274.28 L233.73 274.28 L234.64 266.98 L235.55 264.24 L236.47 266.07 L237.38 272.46 L238.29 274.28 L239.2 274.28 L239.75 271.54 L240.48 274.28 L245.23 274.28 L245.96 266.98 L247.05 262.42 L248.33 263.33 L249.24 274.28 L251.43 274.28 L252.16 266.98 L252.89 264.24 L253.8 274.28 L257.45 274.28 L258.36 263.33 L259.28 258.77 L260.19 261.51 L261.1 274.28 L264.75 274.28 L265.66 266.07 L266.58 265.16 L267.49 274.28 L269.68 274.28 L270.77 266.98 L272.05 266.07 L273.33 268.44 L274.79 266.98 L276.25 264.24 L277.53 260.59 L278.44 256.03 L279.35 263.33 L280.26 274.28 L283 274.28 L283.03 274.28 L283.21 269.72 L284.12 265.16 L285.04 268.81 L285.58 274.28 L288.69 274.28 L289.6 261.51 L290.51 262.42 L291.42 274.28 L296.53 274.28 L297.26 270.63 L297.99 274.28 L299.64 274.28 L300.55 272.82 L302.37 272.82 L304.2 273.37 L305.11 274.28 L309.67 274.28 L310.58 272.46 L312.41 272.82 L313.69 274.28 L317.88 274.28 L318.8 273.37 L320.62 272.82 L322.08 273.92 L322.81 274.28 L322.81 274.28Z" fill="#ff0000" stroke="none"/>
<path d="M161.7 274.28 L171.14 274.28 L171.87 269.17 L172.6 272.46 L174.06 271.54 L175.34 270.63 L177.16 272.09 L178.99 272.82 L180.26 273.37 L180.81 274.28 L185.01 274.28 L185.74 269.72 L186.83 268.44 L187.56 272.46 L189.02 273.37 L190.48 274.28 L196.69 274.28 L197.78 267.89 L199.06 266.98 L200.34 268.81 L201.8 267.35 L202.71 270.63 L203.99 268.81 L205.08 264.24 L206.36 262.42 L207.64 263.7 L209.09 266.07 L210.55 268.81 L211.28 274.28 L217.31 274.28 L218.22 267.89 L219.68 266.98 L220.96 269.17 L222.23 270.63 L223.33 268.81 L224.06 274.28 L227.34 274.28 L228.26 266.07 L229.17 259.68 L230.08 274.28 L233.73 274.28 L234.64 266.98 L235.55 264.24 L236.47 266.07 L237.38 272.46 L238.29 274.28 L239.2 274.28 L239.75 271.54 L240.48 274.28 L245.23 274.28 L245.96 266.98 L247.05 262.42 L248.33 263.33 L249.24 274.28 L251.43 274.28 L252.16 266.98 L252.89 264.24 L253.8 274.28 L257.45 274.28 L258.36 263.33 L259.28 258.77 L260.19 261.51 L261.1 274.28 L264.75 274.28 L265.66 266.07 L266.58 265.16 L267.49 274.28 L269.68 274.28 L270.77 266.98 L272.05 266.07 L273.33 268.44 L274.79 266.98 L276.25 264.24 L277.53 260.59 L278.44 256.03 L279.35 263.33 L280.26 274.28 L283 274.28 L283.03 274.28 L283.21 269.72 L284.12 265.16 L285.04 268.81 L285.58 274.28 L288.69 274.28 L289.6 261.51 L290.51 262.42 L291.42 274.28 L296.53 274.28 L297.26 270.63 L297.99 274.28 L299.64 274.28 L300.55 272.82 L302.37 272.82 L304.2 273.37 L305.11 274.28 L309.67 274.28 L310.58 272.46 L312.41 272.82 L313.69 274.28 L317.88 274.28 L318.8 273.37 L320.62 272.82 L322.08 273.92 L322.81 274.28 L326.46 274.28 L327.92 272.82 L329.38 273.92 L330.66 271.54 L331.93 271 L333.03 272.82 L334.31 273.92 L336.13 271.54 L337.41 270.27 L338.87 272.82 L340.33 274.28 L344.34 274.28 L346.17 272.46 L347.63 274.28 L396.35 274.28" fill="none" stroke="#000" stroke-width="0.7" stroke-linejoin="round"/>
<path d="M171.69 292.97 L171.69 292.97 L172.6 288.77 L174.06 287.31 L175.34 286.95 L176.61 288.41 L177.71 292.97 L183.18 292.97 L183.91 291.51 L185.37 290.23 L186.83 292.42 L187.56 292.97 L190.48 292.97 L191.21 292.42 L192.31 292.97 L195.41 292.97 L196.32 292.42 L197.78 292.97 L200.88 292.97 L201.8 288.77 L203.26 284.21 L204.53 281.47 L205.81 279.65 L207.27 279.28 L208.73 282.39 L209.46 288.77 L210.01 292.97 L212.74 292.97 L213.66 290.96 L214.93 290.6 L216.03 291.51 L217.31 292.06 L219.13 292.42 L220.04 292.97 L223.33 292.97 L224.06 286.95 L224.79 281.47 L225.88 283.66 L227.34 286.04 L228.26 288.77 L229.17 292.97 L232.82 292.97 L233.73 288.77 L234.64 286.58 L235.55 288.77 L236.47 292.97 L242.31 292.97 L243.4 290.6 L244.13 289.32 L245.23 292.97 L247.78 292.97 L248.69 287.86 L249.61 284.21 L250.7 281.47 L251.8 286.95 L252.53 292.97 L254.35 292.97 L255.08 288.77 L256.18 286.58 L257.27 290.23 L258 292.97 L261.1 292.97 L262.01 288.77 L263.47 286.04 L264.75 288.41 L265.66 290.6 L266.58 289.14 L267.85 289.69 L268.95 292.97 L272.96 292.97 L274.06 279.65 L274.79 274.17 L275.7 281.47 L276.61 286.04 L278.07 282.39 L279.9 281.47 L281.18 284.21 L283 285.12 L283.03 287.86 L283.76 291.51 L284.49 292.97 L285.58 292.97 L286.31 286.95 L287.04 283.3 L288.14 288.41 L289.23 292.97 L291.79 292.97 L292.7 288.41 L293.61 286.58 L294.71 291.51 L295.44 292.97 L297.81 292.97 L298.72 287.86 L299.64 285.49 L300.55 290.6 L301.09 292.97 L304.2 292.97 L305.11 288.77 L306.02 287.86 L307.48 292.42 L307.85 292.97 L311.5 292.97 L312.41 292.06 L313.32 292.97 L317.34 292.97 L318.25 286.95 L319.16 287.31 L319.89 291.51 L320.62 292.97 L320.62 292.97Z" fill="#ff0000" stroke="none"/>
<path d="M161.7 292.97 L171.69 292.97 L172.6 288.77 L174.06 287.31 L175.34 286.95 L176.61 288.41 L177.71 292.97 L183.18 292.97 L183.91 291.51 L185.37 290.23 L186.83 292.42 L187.56 292.97 L190.48 292.97 L191.21 292.42 L192.31 292.97 L195.41 292.97 L196.32 292.42 L197.78 292.97 L200.88 292.97 L201.8 288.77 L203.26 284.21 L204.53 281.47 L205.81 279.65 L207.27 279.28 L208.73 282.39 L209.46 288.77 L210.01 292.97 L212.74 292.97 L213.66 290.96 L214.93 290.6 L216.03 291.51 L217.31 292.06 L219.13 292.42 L220.04 292.97 L223.33 292.97 L224.06 286.95 L224.79 281.47 L225.88 283.66 L227.34 286.04 L228.26 288.77 L229.17 292.97 L232.82 292.97 L233.73 288.77 L234.64 286.58 L235.55 288.77 L236.47 292.97 L242.31 292.97 L243.4 290.6 L244.13 289.32 L245.23 292.97 L247.78 292.97 L248.69 287.86 L249.61 284.21 L250.7 281.47 L251.8 286.95 L252.53 292.97 L254.35 292.97 L255.08 288.77 L256.18 286.58 L257.27 290.23 L258 292.97 L261.1 292.97 L262.01 288.77 L263.47 286.04 L264.75 288.41 L265.66 290.6 L266.58 289.14 L267.85 289.69 L268.95 292.97 L272.96 292.97 L274.06 279.65 L274.79 274.17 L275.7 281.47 L276.61 286.04 L278.07 282.39 L279.9 281.47 L281.18 284.21 L283 285.12 L283.03 287.86 L283.76 291.51 L284.49 292.97 L285.58 292.97 L286.31 286.95 L287.04 283.3 L288.14 288.41 L289.23 292.97 L291.79 292.97 L292.7 288.41 L293.61 286.58 L294.71 291.51 L295.44 292.97 L297.81 292.97 L298.72 287.86 L299.64 285.49 L300.55 290.6 L301.09 292.97 L304.2 292.97 L305.11 288.77 L306.02 287.86 L307.48 292.42 L307.85 292.97 L311.5 292.97 L312.41 292.06 L313.32 292.97 L317.34 292.97 L318.25 286.95 L319.16 287.31 L319.89 291.51 L320.62 292.97 L326.46 292.97 L327.55 290.96 L328.83 292.97 L338.87 292.97 L340.69 292.06 L342.52 292.42 L344.34 292.97 L351.64 292.42 L353.47 291.51 L355.29 292.06 L358.94 292.97 L360.77 291.51 L362.59 290.23 L364.42 290.96 L366.24 292.42 L368.07 291.51 L369.89 292.42 L371.72 290.6 L373.54 288.41 L375.36 290.6 L377.19 292.42 L379.01 290.6 L380.47 289.69 L382.3 291.51 L384.12 292.06 L385.4 290.6 L386.68 291.51 L389.05 292.42 L390.88 291.51 L392.7 289.69 L394.53 291.51 L396.35 292.97" fill="none" stroke="#000" stroke-width="0.7" stroke-linejoin="round"/>
<path d="M171.69 311.66 L171.69 311.66 L172.6 309.29 L174.06 309.84 L175.34 311.11 L176.25 311.66 L183.18 311.66 L183.91 309.29 L185.01 308.01 L185.74 310.75 L186.28 311.66 L194.13 311.66 L195.41 309.84 L196.69 305.27 L197.78 303.81 L199.06 306.19 L199.97 308.92 L201.43 305.27 L202.71 301.99 L203.99 301.26 L205.08 303.81 L206.36 308.01 L206.91 311.66 L208.73 311.66 L209.64 309.29 L210.55 308.92 L211.28 311.66 L214.57 311.66 L215.48 307.1 L216.39 303.81 L217.31 305.27 L218.22 310.75 L218.58 311.66 L220.96 311.66 L221.87 302.54 L222.78 296.51 L223.69 295.78 L224.61 303.45 L225.52 311.66 L227.34 311.66 L228.26 310.38 L229.17 311.66 L231.91 311.66 L232.82 302.54 L233.73 296.15 L234.64 295.24 L235.55 301.62 L236.1 311.66 L242.85 311.66 L243.77 303.45 L244.68 295.24 L245.59 293.96 L246.5 299.8 L247.42 311.66 L250.15 311.66 L251.07 304.36 L251.98 302.54 L252.89 311.66 L254.72 311.66 L255.63 303.45 L256.54 296.15 L257.45 293.96 L258.36 300.71 L259.28 311.66 L261.65 311.66 L262.38 309.29 L263.47 308.56 L264.2 311.66 L266.03 311.66 L267.12 305.27 L268.4 301.99 L269.68 300.71 L270.77 303.45 L272.05 302.54 L273.33 297.97 L274.42 296.15 L275.7 293.41 L276.61 296.15 L277.53 303.45 L278.44 299.8 L279.35 297.97 L280.26 303.45 L281.18 311.66 L283 311.66 L283.03 307.1 L283.76 303.45 L284.49 301.62 L285.22 305.27 L285.95 311.66 L286.86 311.66 L287.77 303.45 L288.69 299.8 L289.6 305.27 L290.33 311.66 L293.25 311.66 L294.16 299.8 L295.07 298.89 L296.53 305.27 L297.81 307.46 L299.64 308.01 L301.46 307.46 L303.28 308.92 L305.11 309.84 L306.39 311.66 L307.85 311.66 L308.58 305.27 L309.31 301.26 L310.04 311.66 L313.69 311.66 L314.78 304.36 L315.51 303.08 L316.61 308.01 L317.88 309.84 L318.8 311.66 L320.62 311.66 L322.08 310.38 L323.36 309.29 L324.64 308.01 L326.09 307.1 L327.55 305.64 L328.83 308.01 L329.74 310.75 L330.11 311.66 L330.11 311.66Z" fill="#ff0000" stroke="none"/>
<path d="M161.7 311.66 L171.69 311.66 L172.6 309.29 L174.06 309.84 L175.34 311.11 L176.25 311.66 L183.18 311.66 L183.91 309.29 L185.01 308.01 L185.74 310.75 L186.28 311.66 L194.13 311.66 L195.41 309.84 L196.69 305.27 L197.78 303.81 L199.06 306.19 L199.97 308.92 L201.43 305.27 L202.71 301.99 L203.99 301.26 L205.08 303.81 L206.36 308.01 L206.91 311.66 L208.73 311.66 L209.64 309.29 L210.55 308.92 L211.28 311.66 L214.57 311.66 L215.48 307.1 L216.39 303.81 L217.31 305.27 L218.22 310.75 L218.58 311.66 L220.96 311.66 L221.87 302.54 L222.78 296.51 L223.69 295.78 L224.61 303.45 L225.52 311.66 L227.34 311.66 L228.26 310.38 L229.17 311.66 L231.91 311.66 L232.82 302.54 L233.73 296.15 L234.64 295.24 L235.55 301.62 L236.1 311.66 L242.85 311.66 L243.77 303.45 L244.68 295.24 L245.59 293.96 L246.5 299.8 L247.42 311.66 L250.15 311.66 L251.07 304.36 L251.98 302.54 L252.89 311.66 L254.72 311.66 L255.63 303.45 L256.54 296.15 L257.45 293.96 L258.36 300.71 L259.28 311.66 L261.65 311.66 L262.38 309.29 L263.47 308.56 L264.2 311.66 L266.03 311.66 L267.12 305.27 L268.4 301.99 L269.68 300.71 L270.77 303.45 L272.05 302.54 L273.33 297.97 L274.42 296.15 L275.7 293.41 L276.61 296.15 L277.53 303.45 L278.44 299.8 L279.35 297.97 L280.26 303.45 L281.18 311.66 L283 311.66 L283.03 307.1 L283.76 303.45 L284.49 301.62 L285.22 305.27 L285.95 311.66 L286.86 311.66 L287.77 303.45 L288.69 299.8 L289.6 305.27 L290.33 311.66 L293.25 311.66 L294.16 299.8 L295.07 298.89 L296.53 305.27 L297.81 307.46 L299.64 308.01 L301.46 307.46 L303.28 308.92 L305.11 309.84 L306.39 311.66 L307.85 311.66 L308.58 305.27 L309.31 301.26 L310.04 311.66 L313.69 311.66 L314.78 304.36 L315.51 303.08 L316.61 308.01 L317.88 309.84 L318.8 311.66 L320.62 311.66 L322.08 310.38 L323.36 309.29 L324.64 308.01 L326.09 307.1 L327.55 305.64 L328.83 308.01 L329.74 310.75 L330.11 311.66 L333.39 311.11 L335.22 309.84 L337.04 311.11 L338.87 311.66 L344.34 311.66 L345.8 308.92 L346.53 307.1 L347.63 310.75 L348.91 311.66 L350.18 309.84 L351.28 305.27 L352.55 304.36 L353.83 308.92 L355.29 309.29 L356.75 308.56 L358.03 311.66 L367.15 311.66 L368.43 309.29 L369.53 307.46 L370.8 309.84 L372.63 311.66 L375.36 310.75 L377.19 310.38 L379.01 309.84 L380.84 311.66 L391.79 311.66 L393.61 308.01 L395.07 305.27 L396.35 303.81" fill="none" stroke="#000" stroke-width="0.7" stroke-linejoin="round"/>
<path d="M171.14 330.35 L171.14 330.35 L171.87 321.59 L172.96 322.5 L174.42 323.42 L175.34 325.24 L176.25 329.8 L176.61 330.35 L179.9 330.35 L180.81 326.15 L181.36 324.33 L182.09 329.8 L183.18 329.8 L185.37 330.35 L200.88 330.35 L201.43 314.29 L202.16 317.94 L203.26 319.77 L204.53 317.94 L205.81 318.85 L207.27 319.77 L208.18 320.68 L209.09 329.8 L209.64 330.35 L213.11 330.35 L214.2 323.42 L214.93 322.5 L216.03 329.8 L216.39 330.35 L220.41 330.35 L221.5 326.15 L222.78 324.33 L224.06 318.85 L225.52 315.2 L226.98 317.94 L227.71 330.35 L230.99 330.35 L231.91 324.33 L232.82 321.59 L234.28 323.42 L235.55 326.15 L236.83 328.89 L237.38 330.35 L241.94 330.35 L242.85 326.15 L243.77 324.88 L244.68 328.89 L245.23 330.35 L247.78 330.35 L248.69 323.05 L249.61 317.03 L250.7 323.42 L251.43 330.35 L252.89 330.35 L253.8 324.33 L254.72 323.05 L255.63 328.89 L256.18 330.35 L261.1 330.35 L262.01 324.33 L263.47 322.5 L264.75 326.15 L265.66 330.35 L272.6 330.35 L273.51 318.85 L274.42 312.47 L275.7 314.29 L276.98 318.85 L278.44 320.68 L279.9 317.94 L281.18 319.77 L283 321.59 L283.03 327.07 L283.76 330.35 L285.04 330.35 L285.95 316.12 L286.68 313.38 L287.41 321.59 L288.14 330.35 L291.06 330.35 L291.97 319.77 L292.7 318.31 L293.61 330.35 L296.53 330.35 L297.26 322.5 L298.18 321.23 L299.09 330.35 L302.01 330.35 L302.74 328.53 L303.83 327.98 L305.11 328.89 L306.39 330.35 L306.39 330.35Z" fill="#ff0000" stroke="none"/>
<path d="M161.7 330.35 L171.14 330.35 L171.87 321.59 L172.96 322.5 L174.42 323.42 L175.34 325.24 L176.25 329.8 L176.61 330.35 L179.9 330.35 L180.81 326.15 L181.36 324.33 L182.09 329.8 L183.18 329.8 L185.37 330.35 L200.88 330.35 L201.43 314.29 L202.16 317.94 L203.26 319.77 L204.53 317.94 L205.81 318.85 L207.27 319.77 L208.18 320.68 L209.09 329.8 L209.64 330.35 L213.11 330.35 L214.2 323.42 L214.93 322.5 L216.03 329.8 L216.39 330.35 L220.41 330.35 L221.5 326.15 L222.78 324.33 L224.06 318.85 L225.52 315.2 L226.98 317.94 L227.71 330.35 L230.99 330.35 L231.91 324.33 L232.82 321.59 L234.28 323.42 L235.55 326.15 L236.83 328.89 L237.38 330.35 L241.94 330.35 L242.85 326.15 L243.77 324.88 L244.68 328.89 L245.23 330.35 L247.78 330.35 L248.69 323.05 L249.61 317.03 L250.7 323.42 L251.43 330.35 L252.89 330.35 L253.8 324.33 L254.72 323.05 L255.63 328.89 L256.18 330.35 L261.1 330.35 L262.01 324.33 L263.47 322.5 L264.75 326.15 L265.66 330.35 L272.6 330.35 L273.51 318.85 L274.42 312.47 L275.7 314.29 L276.98 318.85 L278.44 320.68 L279.9 317.94 L281.18 319.77 L283 321.59 L283.03 327.07 L283.76 330.35 L285.04 330.35 L285.95 316.12 L286.68 313.38 L287.41 321.59 L288.14 330.35 L291.06 330.35 L291.97 319.77 L292.7 318.31 L293.61 330.35 L296.53 330.35 L297.26 322.5 L298.18 321.23 L299.09 330.35 L302.01 330.35 L302.74 328.53 L303.83 327.98 L305.11 328.89 L306.39 330.35 L314.23 330.35 L316.06 329.8 L317.88 327.98 L319.16 327.07 L320.62 329.8 L323.36 329.8 L324.64 327.98 L326.09 329.8 L329.74 330.35 L331.57 329.26 L333.39 328.53 L335.22 329.26 L337.04 330.35 L340.69 329.8 L342.52 328.89 L343.98 327.98 L345.26 329.26 L347.08 330.35 L351.64 328.89 L353.47 327.98 L355.29 329.8 L358.94 330.35 L360.77 329.26 L362.59 330.35 L368.07 330.35 L372.63 329.26 L374.45 330.35 L384.49 330.35 L396.35 330.35" fill="none" stroke="#000" stroke-width="0.7" stroke-linejoin="round"/>
<path d="M173.51 349.04 L173.51 349.04 L174.42 345.21 L175.34 343.38 L176.61 344.11 L178.07 347.03 L179.53 348.31 L180.26 349.04 L192.31 349.04 L193.04 346.49 L194.5 345.57 L196.32 344.66 L198.15 343.75 L199.61 341.92 L200.88 340.1 L201.8 337.91 L202.71 338.64 L203.62 341.92 L204.53 344.66 L205.45 345.57 L206.36 342.84 L207.64 342.29 L208.73 344.66 L210.01 347.03 L211.28 348.31 L212.38 349.04 L217.31 349.04 L218.22 345.57 L219.68 344.11 L220.96 345.21 L222.23 347.76 L222.78 349.04 L225.15 349.04 L225.88 345.94 L226.98 343.75 L228.26 345.21 L229.53 347.4 L230.99 347.76 L232.45 348.31 L233.73 349.04 L239.2 349.04 L240.12 346.49 L241.58 345.57 L242.85 346.49 L244.13 345.57 L245.23 345.94 L246.5 349.04 L251.07 349.04 L251.98 344.66 L253.26 342.29 L254.72 341.92 L256.18 343.38 L257.45 346.49 L258 349.04 L263.47 349.04 L264.2 338.27 L265.3 331.89 L266.03 334.62 L266.58 340.1 L267.49 338.27 L268.4 334.62 L269.31 332.8 L270.23 339.19 L271.14 345.57 L272.6 346.49 L273.88 345.57 L275.15 344.66 L276.61 345.21 L278.07 342.84 L279.35 341.92 L280.26 345.57 L281.72 346.49 L283 345.94 L283.03 345.21 L285.04 345.57 L286.86 345.21 L288.14 346.49 L288.69 349.04 L295.07 349.04 L295.99 343.75 L297.26 341.01 L298.72 341.56 L300.18 343.75 L301.46 349.04 L307.85 349.04 L308.76 345.57 L310.04 344.11 L311.13 345.21 L312.41 341.92 L313.32 339.19 L314.23 338.64 L315.15 349.04 L315.15 349.04Z" fill="#ff0000" stroke="none"/>
<path d="M161.7 349.04 L173.51 349.04 L174.42 345.21 L175.34 343.38 L176.61 344.11 L178.07 347.03 L179.53 348.31 L180.26 349.04 L192.31 349.04 L193.04 346.49 L194.5 345.57 L196.32 344.66 L198.15 343.75 L199.61 341.92 L200.88 340.1 L201.8 337.91 L202.71 338.64 L203.62 341.92 L204.53 344.66 L205.45 345.57 L206.36 342.84 L207.64 342.29 L208.73 344.66 L210.01 347.03 L211.28 348.31 L212.38 349.04 L217.31 349.04 L218.22 345.57 L219.68 344.11 L220.96 345.21 L222.23 347.76 L222.78 349.04 L225.15 349.04 L225.88 345.94 L226.98 343.75 L228.26 345.21 L229.53 347.4 L230.99 347.76 L232.45 348.31 L233.73 349.04 L239.2 349.04 L240.12 346.49 L241.58 345.57 L242.85 346.49 L244.13 345.57 L245.23 345.94 L246.5 349.04 L251.07 349.04 L251.98 344.66 L253.26 342.29 L254.72 341.92 L256.18 343.38 L257.45 346.49 L258 349.04 L263.47 349.04 L264.2 338.27 L265.3 331.89 L266.03 334.62 L266.58 340.1 L267.49 338.27 L268.4 334.62 L269.31 332.8 L270.23 339.19 L271.14 345.57 L272.6 346.49 L273.88 345.57 L275.15 344.66 L276.61 345.21 L278.07 342.84 L279.35 341.92 L280.26 345.57 L281.72 346.49 L283 345.94 L283.03 345.21 L285.04 345.57 L286.86 345.21 L288.14 346.49 L288.69 349.04 L295.07 349.04 L295.99 343.75 L297.26 341.01 L298.72 341.56 L300.18 343.75 L301.46 349.04 L307.85 349.04 L308.76 345.57 L310.04 344.11 L311.13 345.21 L312.41 341.92 L313.32 339.19 L314.23 338.64 L315.15 349.04 L319.71 349.04 L321.53 347.03 L323.36 346.49 L325.18 349.04 L330.66 349.04 L332.48 345.57 L333.76 344.11 L335.22 345.57 L337.04 347.4 L338.87 347.76 L341.06 347.4 L342.88 348.31 L344.34 349.04 L349.82 349.04 L351.28 345.57 L352.55 344.11 L353.83 346.49 L355.29 347.4 L356.75 347.03 L358.03 349.04 L362.59 349.04 L364.05 346.49 L365.33 345.21 L366.61 346.49 L368.07 345.94 L369.53 346.49 L370.8 348.31 L372.63 349.04 L375 347.76 L376.28 346.49 L377.55 347.4 L379.01 348.31 L380.84 349.04 L396.35 349.04" fill="none" stroke="#000" stroke-width="0.7" stroke-linejoin="round"/>
<path d="M173.51 367.73 L173.51 367.73 L174.42 360.25 L175.34 358.06 L176.25 362.07 L177.16 367.18 L178.07 367.73 L183.55 367.73 L184.46 360.25 L185.37 359.34 L186.28 367.73 L189.39 367.73 L190.12 360.25 L190.85 358.42 L191.58 367.73 L196.32 367.73 L197.23 365.36 L198.51 358.42 L199.61 352.95 L200.52 349.3 L201.43 356.6 L202.71 362.99 L203.99 361.16 L205.45 358.06 L206.91 359.34 L208.18 363.9 L209.09 367.55 L210.55 367.73 L211.28 364.81 L212.38 363.9 L213.11 367.73 L216.03 367.73 L216.76 364.81 L217.85 362.44 L219.13 363.53 L220.04 367.73 L222.78 367.73 L223.69 361.16 L224.61 356.96 L225.52 362.07 L226.43 360.25 L227.34 358.42 L228.26 367.73 L232.45 367.73 L233.18 362.07 L234.28 360.61 L235.55 362.44 L236.83 359.34 L237.93 357.51 L238.66 367.73 L242.85 367.73 L243.77 360.25 L244.68 356.6 L245.59 363.9 L246.5 361.16 L247.78 359.88 L249.24 360.61 L250.7 362.07 L251.98 367.73 L257.45 367.73 L258.36 359.34 L259.28 352.95 L260.55 356.6 L261.65 365.72 L262.38 367.73 L269.31 367.73 L270.23 359.34 L271.5 358.42 L272.96 357.51 L274.79 356.6 L276.25 354.77 L277.53 353.86 L278.44 352.95 L278.99 367.73 L283 367.73 L283.03 367.73 L284.49 367.73 L285.58 360.25 L286.31 356.6 L287.04 362.99 L287.77 367.73 L290.51 367.73 L291.42 364.81 L292.34 367.73 L296.9 367.73 L297.81 363.53 L298.72 367.73 L302.37 367.73 L303.28 352.95 L304.2 352.04 L305.11 367.73 L308.21 367.73 L309.31 357.51 L310.58 356.6 L311.5 367.73 L315.15 367.73 L316.06 358.42 L316.97 357.51 L317.88 367.73 L320.62 367.73 L321.53 359.34 L322.81 358.06 L324.27 361.16 L324.64 367.73 L327.01 367.73 L328.28 360.25 L329.38 359.88 L330.66 367.73 L333.39 367.73 L334.85 360.25 L336.13 359.34 L337.04 361.16 L338.5 362.99 L339.78 363.9 L341.06 366.64 L341.61 367.73 L341.61 367.73Z" fill="#ff0000" stroke="none"/>
<path d="M161.7 367.73 L173.51 367.73 L174.42 360.25 L175.34 358.06 L176.25 362.07 L177.16 367.18 L178.07 367.73 L183.55 367.73 L184.46 360.25 L185.37 359.34 L186.28 367.73 L189.39 367.73 L190.12 360.25 L190.85 358.42 L191.58 367.73 L196.32 367.73 L197.23 365.36 L198.51 358.42 L199.61 352.95 L200.52 349.3 L201.43 356.6 L202.71 362.99 L203.99 361.16 L205.45 358.06 L206.91 359.34 L208.18 363.9 L209.09 367.55 L210.55 367.73 L211.28 364.81 L212.38 363.9 L213.11 367.73 L216.03 367.73 L216.76 364.81 L217.85 362.44 L219.13 363.53 L220.04 367.73 L222.78 367.73 L223.69 361.16 L224.61 356.96 L225.52 362.07 L226.43 360.25 L227.34 358.42 L228.26 367.73 L232.45 367.73 L233.18 362.07 L234.28 360.61 L235.55 362.44 L236.83 359.34 L237.93 357.51 L238.66 367.73 L242.85 367.73 L243.77 360.25 L244.68 356.6 L245.59 363.9 L246.5 361.16 L247.78 359.88 L249.24 360.61 L250.7 362.07 L251.98 367.73 L257.45 367.73 L258.36 359.34 L259.28 352.95 L260.55 356.6 L261.65 365.72 L262.38 367.73 L269.31 367.73 L270.23 359.34 L271.5 358.42 L272.96 357.51 L274.79 356.6 L276.25 354.77 L277.53 353.86 L278.44 352.95 L278.99 367.73 L283 367.73 L283.03 367.73 L284.49 367.73 L285.58 360.25 L286.31 356.6 L287.04 362.99 L287.77 367.73 L290.51 367.73 L291.42 364.81 L292.34 367.73 L296.9 367.73 L297.81 363.53 L298.72 367.73 L302.37 367.73 L303.28 352.95 L304.2 352.04 L305.11 367.73 L308.21 367.73 L309.31 357.51 L310.58 356.6 L311.5 367.73 L315.15 367.73 L316.06 358.42 L316.97 357.51 L317.88 367.73 L320.62 367.73 L321.53 359.34 L322.81 358.06 L324.27 361.16 L324.64 367.73 L327.01 367.73 L328.28 360.25 L329.38 359.88 L330.66 367.73 L333.39 367.73 L334.85 360.25 L336.13 359.34 L337.04 361.16 L338.5 362.99 L339.78 363.9 L341.06 366.64 L341.61 367.73 L346.17 367.55 L347.99 366.09 L349.82 366.64 L351.64 367.55 L355.29 366.64 L357.12 365.72 L358.94 367.18 L361.68 367.55 L365.33 367.18 L366.24 366.09 L367.7 367.55 L376.28 367.55 L378.1 364.81 L379.38 365.72 L380.84 367.55 L391.79 367.55 L394.53 366.09 L396.35 366.09" fill="none" stroke="#000" stroke-width="0.7" stroke-linejoin="round"/>
<path d="M171.14 386.42 L171.14 386.42 L171.87 378.94 L172.6 384.05 L173.51 384.41 L174.79 380.4 L175.88 378.94 L176.61 382.22 L177.34 386.42 L194.86 386.42 L195.59 378.94 L196.69 378.21 L197.78 384.05 L198.51 386.42 L199.97 386.42 L200.88 381.31 L201.8 380.4 L202.71 384.05 L203.62 386.42 L204.53 386.42 L205.45 378.57 L206.36 375.84 L207.27 378.57 L208.18 384.05 L208.73 386.42 L215.48 386.42 L216.39 380.4 L217.31 376.75 L218.58 377.66 L219.68 384.05 L220.41 386.42 L221.87 386.42 L222.78 383.14 L224.06 382.22 L225.52 381.31 L226.98 380.03 L228.26 380.4 L229.17 384.05 L230.08 386.42 L230.99 386.42 L231.91 383.14 L232.82 382.22 L234.28 384.05 L235.55 384.96 L236.83 384.41 L238.29 384.05 L239.75 381.86 L241.03 380.4 L241.94 386.42 L247.05 386.42 L247.78 380.03 L248.51 378.94 L249.24 386.42 L253.26 386.42 L254.35 384.41 L255.63 386.42 L259.82 386.42 L260.55 373.1 L261.28 368.54 L262.38 374.92 L263.47 377.66 L264.75 376.75 L266.03 379.49 L267.12 378.21 L268.4 380.4 L269.68 381.31 L271.14 380.4 L272.6 381.31 L273.88 383.14 L275.15 384.05 L276.61 384.96 L278.07 382.22 L279.35 380.4 L280.63 379.49 L282.09 378.94 L283 379.49 L283.03 381.86 L284.12 384.41 L285.22 385.87 L286.31 384.41 L287.41 384.05 L288.14 386.42 L292.88 386.42 L293.61 383.14 L294.71 380.4 L295.99 379.49 L297.26 381.31 L298.72 383.14 L300.18 385.87 L300.91 386.42 L304.2 386.42 L305.11 384.05 L306.39 382.59 L307.48 383.14 L308.76 385.51 L309.67 386.42 L311.13 386.42 L311.86 384.05 L313.32 382.59 L314.78 383.14 L316.06 384.41 L317.88 384.96 L319.71 385.51 L320.62 386.42 L324.27 386.42 L325.18 384.41 L326.09 384.05 L327.01 386.42 L330.66 386.42 L331.57 380.4 L333.03 378.94 L334.31 381.31 L335.22 386.42 L335.22 386.42Z" fill="#ff0000" stroke="none"/>
<path d="M161.7 386.42 L171.14 386.42 L171.87 378.94 L172.6 384.05 L173.51 384.41 L174.79 380.4 L175.88 378.94 L176.61 382.22 L177.34 386.42 L194.86 386.42 L195.59 378.94 L196.69 378.21 L197.78 384.05 L198.51 386.42 L199.97 386.42 L200.88 381.31 L201.8 380.4 L202.71 384.05 L203.62 386.42 L204.53 386.42 L205.45 378.57 L206.36 375.84 L207.27 378.57 L208.18 384.05 L208.73 386.42 L215.48 386.42 L216.39 380.4 L217.31 376.75 L218.58 377.66 L219.68 384.05 L220.41 386.42 L221.87 386.42 L222.78 383.14 L224.06 382.22 L225.52 381.31 L226.98 380.03 L228.26 380.4 L229.17 384.05 L230.08 386.42 L230.99 386.42 L231.91 383.14 L232.82 382.22 L234.28 384.05 L235.55 384.96 L236.83 384.41 L238.29 384.05 L239.75 381.86 L241.03 380.4 L241.94 386.42 L247.05 386.42 L247.78 380.03 L248.51 378.94 L249.24 386.42 L253.26 386.42 L254.35 384.41 L255.63 386.42 L259.82 386.42 L260.55 373.1 L261.28 368.54 L262.38 374.92 L263.47 377.66 L264.75 376.75 L266.03 379.49 L267.12 378.21 L268.4 380.4 L269.68 381.31 L271.14 380.4 L272.6 381.31 L273.88 383.14 L275.15 384.05 L276.61 384.96 L278.07 382.22 L279.35 380.4 L280.63 379.49 L282.09 378.94 L283 379.49 L283.03 381.86 L284.12 384.41 L285.22 385.87 L286.31 384.41 L287.41 384.05 L288.14 386.42 L292.88 386.42 L293.61 383.14 L294.71 380.4 L295.99 379.49 L297.26 381.31 L298.72 383.14 L300.18 385.87 L300.91 386.42 L304.2 386.42 L305.11 384.05 L306.39 382.59 L307.48 383.14 L308.76 385.51 L309.67 386.42 L311.13 386.42 L311.86 384.05 L313.32 382.59 L314.78 383.14 L316.06 384.41 L317.88 384.96 L319.71 385.51 L320.62 386.42 L324.27 386.42 L325.18 384.41 L326.09 384.05 L327.01 386.42 L330.66 386.42 L331.57 380.4 L333.03 378.94 L334.31 381.31 L335.22 386.42 L345.26 386.42 L346.53 382.22 L347.08 379.49 L347.99 384.05 L348.91 386.42 L356.2 386.42 L357.48 384.96 L358.58 383.68 L359.85 384.96 L361.68 385.87 L363.5 384.96 L365.33 385.51 L367.15 386.42 L377.19 386.42 L378.65 385.51 L379.93 386.42 L382.66 386.42 L384.12 385.51 L385.4 386.42 L396.35 386.42" fill="none" stroke="#000" stroke-width="0.7" stroke-linejoin="round"/>
<path d="M171.69 405.11 L171.69 405.11 L172.6 402.56 L173.51 401.83 L174.42 403.65 L175.34 404.02 L176.25 402.56 L177.71 401.83 L178.99 404.02 L179.53 405.11 L185.37 405.11 L186.28 403.1 L187.56 402.19 L189.02 403.1 L189.93 405.11 L190.85 405.11 L191.76 400.73 L192.67 399.45 L193.77 401.28 L194.5 402.19 L195.41 399.45 L196.32 397.08 L197.23 395.8 L198.15 398.54 L199.06 405.11 L203.26 405.11 L203.99 397.63 L205.08 392.15 L206.18 392.7 L207.27 405.11 L210.55 405.11 L211.28 393.07 L212.01 386.68 L212.74 394.89 L213.66 402.56 L214.57 403.65 L215.66 400.73 L216.76 403.1 L217.49 405.11 L220.96 405.11 L221.87 401.28 L222.78 402.19 L223.69 405.11 L225.88 405.11 L226.98 400 L228.07 398.54 L229.17 402.56 L229.53 405.11 L234.64 405.11 L235.55 399.45 L236.47 397.63 L237.38 402.56 L237.93 405.11 L240.12 405.11 L241.03 397.63 L242.31 395.26 L243.77 397.08 L245.23 401.28 L246.5 403.1 L247.42 405.11 L250.15 405.11 L251.07 401.28 L251.98 400 L252.89 401.28 L254.35 403.65 L255.08 405.11 L257.45 405.11 L258.36 398.91 L259.28 397.08 L260.19 405.11 L264.75 405.11 L265.66 395.26 L266.58 393.07 L267.49 394.89 L268.95 397.63 L270.23 399.45 L271.5 400.37 L272.96 398.54 L274.06 400 L274.79 402.56 L275.7 403.1 L276.61 402.19 L277.53 401.28 L278.44 402.19 L279.35 405.11 L283 405.11 L283.03 405.11 L298.72 405.11 L299.64 402.56 L300.55 404.02 L302.01 404.38 L303.28 404.02 L305.11 403.65 L306.39 403.1 L307.85 401.28 L308.76 398.18 L309.67 397.63 L310.04 405.11 L314.78 405.11 L315.51 398.54 L316.24 396.35 L316.97 398.91 L317.88 405.11 L321.53 405.11 L322.45 398.91 L323.36 397.08 L324.27 400 L325.18 405.11 L328.28 405.11 L329.38 402.19 L330.66 401.28 L331.93 403.1 L332.48 405.11 L336.13 405.11 L337.04 403.1 L337.96 402.56 L338.87 405.11 L338.87 405.11Z" fill="#ff0000" stroke="none"/>
<path d="M161.7 405.11 L171.69 405.11 L172.6 402.56 L173.51 401.83 L174.42 403.65 L175.34 404.02 L176.25 402.56 L177.71 401.83 L178.99 404.02 L179.53 405.11 L185.37 405.11 L186.28 403.1 L187.56 402.19 L189.02 403.1 L189.93 405.11 L190.85 405.11 L191.76 400.73 L192.67 399.45 L193.77 401.28 L194.5 402.19 L195.41 399.45 L196.32 397.08 L197.23 395.8 L198.15 398.54 L199.06 405.11 L203.26 405.11 L203.99 397.63 L205.08 392.15 L206.18 392.7 L207.27 405.11 L210.55 405.11 L211.28 393.07 L212.01 386.68 L212.74 394.89 L213.66 402.56 L214.57 403.65 L215.66 400.73 L216.76 403.1 L217.49 405.11 L220.96 405.11 L221.87 401.28 L222.78 402.19 L223.69 405.11 L225.88 405.11 L226.98 400 L228.07 398.54 L229.17 402.56 L229.53 405.11 L234.64 405.11 L235.55 399.45 L236.47 397.63 L237.38 402.56 L237.93 405.11 L240.12 405.11 L241.03 397.63 L242.31 395.26 L243.77 397.08 L245.23 401.28 L246.5 403.1 L247.42 405.11 L250.15 405.11 L251.07 401.28 L251.98 400 L252.89 401.28 L254.35 403.65 L255.08 405.11 L257.45 405.11 L258.36 398.91 L259.28 397.08 L260.19 405.11 L264.75 405.11 L265.66 395.26 L266.58 393.07 L267.49 394.89 L268.95 397.63 L270.23 399.45 L271.5 400.37 L272.96 398.54 L274.06 400 L274.79 402.56 L275.7 403.1 L276.61 402.19 L277.53 401.28 L278.44 402.19 L279.35 405.11 L283 405.11 L283.03 405.11 L298.72 405.11 L299.64 402.56 L300.55 404.02 L302.01 404.38 L303.28 404.02 L305.11 403.65 L306.39 403.1 L307.85 401.28 L308.76 398.18 L309.67 397.63 L310.04 405.11 L314.78 405.11 L315.51 398.54 L316.24 396.35 L316.97 398.91 L317.88 405.11 L321.53 405.11 L322.45 398.91 L323.36 397.08 L324.27 400 L325.18 405.11 L328.28 405.11 L329.38 402.19 L330.66 401.28 L331.93 403.1 L332.48 405.11 L336.13 405.11 L337.04 403.1 L337.96 402.56 L338.87 405.11 L368.98 405.11 L370.8 402.56 L372.08 401.28 L373.54 403.1 L375 404.93 L376.82 403.65 L378.1 402.19 L379.38 403.1 L380.84 405.11 L384.49 405.11 L385.95 401.83 L386.68 400.73 L387.77 403.65 L389.96 405.11 L396.35 405.11" fill="none" stroke="#000" stroke-width="0.7" stroke-linejoin="round"/>
<path d="M171.14 423.8 L171.14 423.8 L172.23 421.43 L173.51 422.34 L174.42 423.8 L177.16 423.8 L178.44 421.98 L179.9 421.43 L181.36 423.8 L188.11 423.8 L189.39 423.25 L190.85 422.34 L191.76 417.78 L192.67 421.98 L194.13 423.25 L195.41 421.43 L196.69 418.69 L198.15 416.5 L199.61 414.68 L200.88 413.58 L202.16 415.95 L203.62 417.78 L204.53 422.34 L205.08 423.8 L214.93 423.8 L216.03 419.6 L217.31 416.5 L218.58 415.95 L220.04 417.23 L221.5 419.6 L223.33 420.15 L225.15 421.43 L226.98 420.88 L228.26 422.34 L229.53 423.8 L236.83 423.8 L237.93 419.6 L239.2 417.78 L240.48 419.06 L241.94 420.52 L243.77 421.43 L245.59 422.34 L247.05 423.8 L256.54 423.8 L258 423.25 L259.28 422.34 L260.19 419.6 L261.1 423.8 L263.84 423.8 L264.75 418.69 L266.03 416.5 L267.12 417.78 L268.04 423.8 L275.7 423.8 L276.61 418.33 L278.07 415.95 L278.8 413.22 L279.9 405.92 L280.63 403.18 L281.72 407.74 L283 415.04 L283.03 416.87 L284.49 417.78 L285.58 415.04 L286.86 410.48 L288.14 406.83 L289.23 408.65 L289.96 415.04 L291.06 419.6 L292.34 421.98 L293.25 423.8 L305.11 423.8 L306.02 420.52 L307.48 418.69 L308.76 420.52 L309.67 423.8 L314.78 423.8 L316.06 421.43 L317.34 420.52 L318.8 423.25 L319.16 423.8 L326.09 423.8 L327.55 422.34 L329.38 420.88 L331.2 421.43 L333.03 422.34 L334.85 423.25 L336.68 422.71 L337.96 423.8 L347.08 423.8 L347.63 420.52 L348.36 416.87 L349.09 423.8 L355.29 423.8 L356.2 417.78 L357.12 415.95 L358.03 423.8 L358.03 423.8Z" fill="#ff0000" stroke="none"/>
<path d="M161.7 423.8 L171.14 423.8 L172.23 421.43 L173.51 422.34 L174.42 423.8 L177.16 423.8 L178.44 421.98 L179.9 421.43 L181.36 423.8 L188.11 423.8 L189.39 423.25 L190.85 422.34 L191.76 417.78 L192.67 421.98 L194.13 423.25 L195.41 421.43 L196.69 418.69 L198.15 416.5 L199.61 414.68 L200.88 413.58 L202.16 415.95 L203.62 417.78 L204.53 422.34 L205.08 423.8 L214.93 423.8 L216.03 419.6 L217.31 416.5 L218.58 415.95 L220.04 417.23 L221.5 419.6 L223.33 420.15 L225.15 421.43 L226.98 420.88 L228.26 422.34 L229.53 423.8 L236.83 423.8 L237.93 419.6 L239.2 417.78 L240.48 419.06 L241.94 420.52 L243.77 421.43 L245.59 422.34 L247.05 423.8 L256.54 423.8 L258 423.25 L259.28 422.34 L260.19 419.6 L261.1 423.8 L263.84 423.8 L264.75 418.69 L266.03 416.5 L267.12 417.78 L268.04 423.8 L275.7 423.8 L276.61 418.33 L278.07 415.95 L278.8 413.22 L279.9 405.92 L280.63 403.18 L281.72 407.74 L283 415.04 L283.03 416.87 L284.49 417.78 L285.58 415.04 L286.86 410.48 L288.14 406.83 L289.23 408.65 L289.96 415.04 L291.06 419.6 L292.34 421.98 L293.25 423.8 L305.11 423.8 L306.02 420.52 L307.48 418.69 L308.76 420.52 L309.67 423.8 L314.78 423.8 L316.06 421.43 L317.34 420.52 L318.8 423.25 L319.16 423.8 L326.09 423.8 L327.55 422.34 L329.38 420.88 L331.2 421.43 L333.03 422.34 L334.85 423.25 L336.68 422.71 L337.96 423.8 L347.08 423.8 L347.63 420.52 L348.36 416.87 L349.09 423.8 L355.29 423.8 L356.2 417.78 L357.12 415.95 L358.03 423.8 L362.59 423.25 L366.24 423.8 L369.89 423.8 L373.54 423.62 L377.19 423.8 L384.49 423.25 L386.31 422.34 L388.14 423.25 L391.79 423.8 L396.35 423.8" fill="none" stroke="#000" stroke-width="0.7" stroke-linejoin="round"/>
<path d="M14.1 433.3 H128.3" stroke="#7a7a7a" stroke-width="0.9" fill="none"/>
<g stroke="#222" stroke-width="0.9" fill="none">
<path d="M23.7 433.3 V430.3"/>
<path d="M47.4 433.3 V431.7"/>
<path d="M71.1 433.3 V430.3"/>
<path d="M94.8 433.3 V431.7"/>
<path d="M118.5 433.3 V430.3"/>
</g>
<text x="23.87" y="444.3" font-family="Liberation Sans, sans-serif" font-size="12" letter-spacing="0.35" text-anchor="middle">0</text>
<text x="71.27" y="444.3" font-family="Liberation Sans, sans-serif" font-size="12" letter-spacing="0.35" text-anchor="middle">10</text>
<text x="118.67" y="444.3" font-family="Liberation Sans, sans-serif" font-size="12" letter-spacing="0.35" text-anchor="middle">20</text>
<text x="71.7" y="459.8" font-family="Liberation Sans, sans-serif" font-size="12" letter-spacing="0.35" text-anchor="middle">Time (s)</text>
<path d="M161.7 433.3 H396.2" stroke="#7a7a7a" stroke-width="0.9" fill="none"/>
<g stroke="#222" stroke-width="0.9" fill="none">
<path d="M171.5 433.3 V430.3"/>
<path d="M195.95 433.3 V431.7"/>
<path d="M220.4 433.3 V430.3"/>
<path d="M244.85 433.3 V431.7"/>
<path d="M269.3 433.3 V430.3"/>
<path d="M293.75 433.3 V431.7"/>
<path d="M318.2 433.3 V430.3"/>
<path d="M342.65 433.3 V431.7"/>
<path d="M367.1 433.3 V430.3"/>
<path d="M391.55 433.3 V431.7"/>
</g>
<text x="171.67" y="444.3" font-family="Liberation Sans, sans-serif" font-size="12" letter-spacing="0.35" text-anchor="middle">0</text>
<text x="220.57" y="444.3" font-family="Liberation Sans, sans-serif" font-size="12" letter-spacing="0.35" text-anchor="middle">10</text>
<text x="269.47" y="444.3" font-family="Liberation Sans, sans-serif" font-size="12" letter-spacing="0.35" text-anchor="middle">20</text>
<text x="318.37" y="444.3" font-family="Liberation Sans, sans-serif" font-size="12" letter-spacing="0.35" text-anchor="middle">30</text>
<text x="367.27" y="444.3" font-family="Liberation Sans, sans-serif" font-size="12" letter-spacing="0.35" text-anchor="middle">40</text>
<text x="279.7" y="459.8" font-family="Liberation Sans, sans-serif" font-size="12" letter-spacing="0.35" text-anchor="middle">Time (s)</text>
<text x="0" y="10.6" font-family="Liberation Sans, sans-serif" font-size="14.5" font-weight="bold">a</text>
<text x="154.6" y="10.6" font-family="Liberation Sans, sans-serif" font-size="14.5" font-weight="bold">b</text>
<text x="431.6" y="10.6" font-family="Liberation Sans, sans-serif" font-size="14.5" font-weight="bold">c</text>
<text x="22.8" y="18.85" font-family="Liberation Sans, sans-serif" font-size="11" font-weight="bold" letter-spacing="0.17">downward P ASTF</text>
<text x="228.7" y="17.4" font-family="Liberation Sans, sans-serif" font-size="11" font-weight="bold" letter-spacing="0.12">Upward SH ASTF</text>
<path d="M479.5 378.12 L482.46 373.7 L485.42 369.29 L488.38 364.87 L491.33 360.45 L494.29 356.04 L497.25 351.62 L500.21 347.2 L503.17 342.79 L506.12 338.37 L509.08 333.95 L512.04 329.53 L515 325.11 L517.96 320.68 L520.92 316.25 L523.88 311.82 L526.83 307.36 L529.79 302.84 L532.75 298.12 L535.71 293.04 L538.67 287.8 L541.62 282.49 L544.58 277.15 L547.54 271.8 L550.5 266.44 L553.46 261.08 L556.42 255.71 L559.38 250.35 L562.33 244.98 L565.29 239.61 L568.25 234.24 L571.21 228.87 L574.17 223.5 L577.12 218.13 L580.08 212.76 L583.04 207.38 L586 202.01 L588.96 196.64 L591.92 191.27 L594.88 185.9 L597.83 180.52 L600.79 175.15 L603.75 169.78 L606.71 164.41 L609.67 159.04 L612.62 153.66 L615.58 148.29 L618.54 142.92 L621.5 137.55 L624.46 132.17 L627.42 126.8 L630.38 121.43 L633.33 116.06 L636.29 110.68 L639.25 105.31 L642.21 99.94 L645.17 94.56 L648.12 89.19 L651.08 83.82 L654.04 78.45 L657 73.07 L657 106.33 L654.04 110.91 L651.08 115.49 L648.12 120.07 L645.17 124.65 L642.21 129.23 L639.25 133.81 L636.29 138.39 L633.33 142.97 L630.38 147.55 L627.42 152.13 L624.46 156.71 L621.5 161.29 L618.54 165.87 L615.58 170.46 L612.62 175.04 L609.67 179.62 L606.71 184.2 L603.75 188.78 L600.79 193.36 L597.83 197.94 L594.88 202.52 L591.92 207.1 L588.96 211.69 L586 216.27 L583.04 220.85 L580.08 225.43 L577.12 230.01 L574.17 234.6 L571.21 239.18 L568.25 243.76 L565.29 248.35 L562.33 252.93 L559.38 257.51 L556.42 262.1 L553.46 266.69 L550.5 271.28 L547.54 275.88 L544.58 280.48 L541.62 285.09 L538.67 289.73 L535.71 294.44 L532.75 299.32 L529.79 304.55 L526.83 309.99 L523.88 315.48 L520.92 321 L517.96 326.52 L515 332.05 L512.04 337.58 L509.08 343.12 L506.12 348.65 L503.17 354.19 L500.21 359.72 L497.25 365.26 L494.29 370.8 L491.33 376.33 L488.38 381.87 L485.42 387.41 L482.46 392.94 L479.5 398.48 Z" fill="#ffb4b4" stroke="none"/>
<path d="M479.5 388.3 L657 89.7" stroke="#ff0000" stroke-width="1.6" fill="none"/>
<rect x="576" y="122" width="7" height="7" fill="#9a9a9a"/>
<rect x="605.8" y="122" width="7" height="7" fill="#9a9a9a"/>
<rect x="617.6" y="120.5" width="7" height="7" fill="#9a9a9a"/>
<rect x="666.3" y="164.6" width="7" height="7" fill="#9a9a9a"/>
<rect x="604.9" y="164.7" width="7" height="7" fill="#9a9a9a"/>
<rect x="604.7" y="170.1" width="7" height="7" fill="#9a9a9a"/>
<rect x="616.5" y="167.2" width="7" height="7" fill="#9a9a9a"/>
<rect x="613.6" y="170.5" width="7" height="7" fill="#9a9a9a"/>
<rect x="616.7" y="186.2" width="7" height="7" fill="#9a9a9a"/>
<rect x="623.1" y="190.5" width="7" height="7" fill="#9a9a9a"/>
<rect x="609.5" y="194.7" width="7" height="7" fill="#9a9a9a"/>
<rect x="639.9" y="194.7" width="7" height="7" fill="#9a9a9a"/>
<rect x="593.3" y="226.3" width="7" height="7" fill="#9a9a9a"/>
<rect x="610.7" y="234.1" width="7" height="7" fill="#9a9a9a"/>
<rect x="639.9" y="233.3" width="7" height="7" fill="#9a9a9a"/>
<rect x="616.4" y="248.3" width="7" height="7" fill="#9a9a9a"/>
<rect x="571.6" y="121.6" width="7.6" height="7.6" fill="#ff8800" stroke="#5a5f66" stroke-width="0.9"/>
<rect x="600.9" y="121.7" width="7.6" height="7.6" fill="#ff8800" stroke="#5a5f66" stroke-width="0.9"/>
<rect x="613.1" y="120.2" width="7.6" height="7.6" fill="#ff8800" stroke="#5a5f66" stroke-width="0.9"/>
<rect x="641.2" y="117.5" width="7.6" height="7.6" fill="#ff8800" stroke="#5a5f66" stroke-width="0.9"/>
<rect x="653.2" y="164.3" width="7.6" height="7.6" fill="#ff8800" stroke="#5a5f66" stroke-width="0.9"/>
<rect x="562.9" y="169.6" width="7.6" height="7.6" fill="#ff8800" stroke="#5a5f66" stroke-width="0.9"/>
<rect x="569.3" y="169.3" width="7.6" height="7.6" fill="#ff8800" stroke="#5a5f66" stroke-width="0.9"/>
<rect x="579.5" y="170.1" width="7.6" height="7.6" fill="#ff8800" stroke="#5a5f66" stroke-width="0.9"/>
<rect x="582.5" y="169.8" width="7.6" height="7.6" fill="#ff8800" stroke="#5a5f66" stroke-width="0.9"/>
<rect x="586.3" y="169.8" width="7.6" height="7.6" fill="#ff8800" stroke="#5a5f66" stroke-width="0.9"/>
<rect x="592" y="163.9" width="7.6" height="7.6" fill="#ff8800" stroke="#5a5f66" stroke-width="0.9"/>
<rect x="598.4" y="167.4" width="7.6" height="7.6" fill="#ff8800" stroke="#5a5f66" stroke-width="0.9"/>
<rect x="595.2" y="170.4" width="7.6" height="7.6" fill="#ff8800" stroke="#5a5f66" stroke-width="0.9"/>
<rect x="590.3" y="186" width="7.6" height="7.6" fill="#ff8800" stroke="#5a5f66" stroke-width="0.9"/>
<rect x="584.3" y="194.4" width="7.6" height="7.6" fill="#ff8800" stroke="#5a5f66" stroke-width="0.9"/>
<rect x="600.4" y="190.3" width="7.6" height="7.6" fill="#ff8800" stroke="#5a5f66" stroke-width="0.9"/>
<rect x="613.3" y="194.4" width="7.6" height="7.6" fill="#ff8800" stroke="#5a5f66" stroke-width="0.9"/>
<rect x="600.1" y="190.2" width="7.6" height="7.6" fill="#ff8800" stroke="#5a5f66" stroke-width="0.9"/>
<rect x="565.8" y="226" width="7.6" height="7.6" fill="#ff8800" stroke="#5a5f66" stroke-width="0.9"/>
<rect x="587.6" y="233.8" width="7.6" height="7.6" fill="#ff8800" stroke="#5a5f66" stroke-width="0.9"/>
<rect x="618.6" y="233" width="7.6" height="7.6" fill="#ff8800" stroke="#5a5f66" stroke-width="0.9"/>
<rect x="594.5" y="248" width="7.6" height="7.6" fill="#ff8800" stroke="#5a5f66" stroke-width="0.9"/>
<circle cx="473.5" cy="381" r="3.1" fill="#9a9a9a"/>
<circle cx="491.3" cy="369.3" r="3.1" fill="#9a9a9a"/>
<circle cx="492.8" cy="372.3" r="3.1" fill="#9a9a9a"/>
<circle cx="496.9" cy="375.2" r="3.1" fill="#9a9a9a"/>
<circle cx="485.5" cy="368.8" r="2.9" fill="#ff8800" stroke="#4a4f55" stroke-width="1"/>
<circle cx="501" cy="375.5" r="2.9" fill="#ff8800" stroke="#4a4f55" stroke-width="1"/>
<circle cx="508.8" cy="377.2" r="2.9" fill="#ff8800" stroke="#4a4f55" stroke-width="1"/>
<circle cx="481.7" cy="377.5" r="2.9" fill="#ff8800" stroke="#4a4f55" stroke-width="1"/>
<circle cx="491" cy="377.2" r="2.9" fill="#ff8800" stroke="#4a4f55" stroke-width="1"/>
<circle cx="496.6" cy="380.7" r="2.9" fill="#ff8800" stroke="#4a4f55" stroke-width="1"/>
<circle cx="492.2" cy="382.2" r="2.9" fill="#ff8800" stroke="#4a4f55" stroke-width="1"/>
<circle cx="479.3" cy="381" r="2.9" fill="#ff8800" stroke="#4a4f55" stroke-width="1"/>
<circle cx="485.8" cy="375.8" r="2.9" fill="#ff8800" stroke="#4a4f55" stroke-width="1"/>
<circle cx="487.5" cy="372.8" r="2.9" fill="#ff8800" stroke="#4a4f55" stroke-width="1"/>
<circle cx="484.6" cy="372.8" r="2.9" fill="#ff8800" stroke="#4a4f55" stroke-width="1"/>
<circle cx="487" cy="379.3" r="2.9" fill="#ff8800" stroke="#4a4f55" stroke-width="1"/>
<circle cx="483.4" cy="381" r="2.9" fill="#ff8800" stroke="#4a4f55" stroke-width="1"/>
<g stroke="#333" stroke-width="0.8" fill="none">
<path d="M584.8 370.7 L614.6 293.4"/>
<path d="M584.8 370.7 L614.6 315.6"/>
<path d="M584.8 370.7 L614.6 331.8"/>
</g>
<g font-family="Liberation Sans, sans-serif" font-size="11" font-weight="bold">
<text x="617.8" y="297.7">L: 50 km</text>
<text x="617.8" y="320">L: 70 km</text>
<text x="617.8" y="336.6">L: 100 km</text>
</g>
<text x="520.8" y="150.8" font-family="Liberation Sans, sans-serif" font-size="12.8" font-weight="bold" fill="#c8680a">Upward SH</text>
<text x="479.3" y="406.7" font-family="Liberation Sans, sans-serif" font-size="12.8" font-weight="bold" letter-spacing="0.1" fill="#c8680a">Downward P</text>
<g font-family="Liberation Sans, sans-serif" font-weight="bold" fill="#f0141e" letter-spacing="0.3">
<text x="468" y="243.7" font-size="12.3">L= 78</text>
<text x="500.8" y="236.5" font-size="9">+8</text>
<text x="500.8" y="247" font-size="9">–6</text>
<text x="515.6" y="243.7" font-size="12.3">km</text>
<text x="452.6" y="267" font-size="12.3">Vr= 4.2</text>
<text x="495.2" y="260.5" font-size="9">+0.5</text>
<text x="495.2" y="270.5" font-size="9">–0.3</text>
<text x="516.4" y="267" font-size="12.3">km/s</text>
</g>
<g fill="none" stroke-width="0.9">
<path d="M450.2 44.7 V433.2" stroke="#c4c4c4" stroke-width="1.3"/>
<path d="M450.2 44.7 H684.3" stroke="#9a9a9a"/>
<path d="M684.3 44.7 V433.2" stroke="#888"/>
<path d="M449.7 433.2 H684.3" stroke="#777"/>
<path d="M450.07 433.2 V431.5 M450.07 44.7 V46.4" stroke="#222"/>
<path d="M479.4 433.2 V430.2 M479.4 44.7 V47.7" stroke="#222"/>
<path d="M508.72 433.2 V431.5 M508.72 44.7 V46.4" stroke="#222"/>
<path d="M538.05 433.2 V430.2 M538.05 44.7 V47.7" stroke="#222"/>
<path d="M567.38 433.2 V431.5 M567.38 44.7 V46.4" stroke="#222"/>
<path d="M596.7 433.2 V430.2 M596.7 44.7 V47.7" stroke="#222"/>
<path d="M626.02 433.2 V431.5 M626.02 44.7 V46.4" stroke="#222"/>
<path d="M655.35 433.2 V430.2 M655.35 44.7 V47.7" stroke="#222"/>
<path d="M684.67 433.2 V431.5 M684.67 44.7 V46.4" stroke="#222"/>
<path d="M450.2 410.35 H451.9 M684.3 410.35 H682.6" stroke="#222"/>
<path d="M450.2 371.5 H453.7 M684.3 371.5 H680.8" stroke="#222"/>
<path d="M450.2 332.65 H451.9 M684.3 332.65 H682.6" stroke="#222"/>
<path d="M450.2 293.8 H453.7 M684.3 293.8 H680.8" stroke="#222"/>
<path d="M450.2 254.95 H451.9 M684.3 254.95 H682.6" stroke="#222"/>
<path d="M450.2 216.1 H453.7 M684.3 216.1 H680.8" stroke="#222"/>
<path d="M450.2 177.25 H451.9 M684.3 177.25 H682.6" stroke="#222"/>
<path d="M450.2 138.4 H453.7 M684.3 138.4 H680.8" stroke="#222"/>
<path d="M450.2 99.55 H451.9 M684.3 99.55 H682.6" stroke="#222"/>
<path d="M450.2 60.7 H453.7 M684.3 60.7 H680.8" stroke="#222"/>
</g>
<text x="479.57" y="444.3" font-family="Liberation Sans, sans-serif" font-size="12" letter-spacing="0.35" text-anchor="middle">10</text>
<text x="538.22" y="444.3" font-family="Liberation Sans, sans-serif" font-size="12" letter-spacing="0.35" text-anchor="middle">20</text>
<text x="596.87" y="444.3" font-family="Liberation Sans, sans-serif" font-size="12" letter-spacing="0.35" text-anchor="middle">30</text>
<text x="655.52" y="444.3" font-family="Liberation Sans, sans-serif" font-size="12" letter-spacing="0.35" text-anchor="middle">40</text>
<text x="449.6" y="65" font-family="Liberation Sans, sans-serif" font-size="12" letter-spacing="0.35" text-anchor="end">0.3</text>
<text x="449.6" y="142.7" font-family="Liberation Sans, sans-serif" font-size="12" letter-spacing="0.35" text-anchor="end">0.2</text>
<text x="449.6" y="220.4" font-family="Liberation Sans, sans-serif" font-size="12" letter-spacing="0.35" text-anchor="end">0.1</text>
<text x="449.6" y="298.1" font-family="Liberation Sans, sans-serif" font-size="12" letter-spacing="0.35" text-anchor="end">0.0</text>
<text x="449.6" y="375.8" font-family="Liberation Sans, sans-serif" font-size="12" letter-spacing="0.35" text-anchor="end">−0.1</text>
<text x="567.6" y="459.8" font-family="Liberation Sans, sans-serif" font-size="12" letter-spacing="0.35" text-anchor="middle">Duration (s)</text>
<text transform="translate(416.5 239.3) rotate(-90)" font-family="Liberation Sans, sans-serif" font-size="13.2" text-anchor="middle">Vertical slowness (s/km)</text>
</svg>
</body></html>
